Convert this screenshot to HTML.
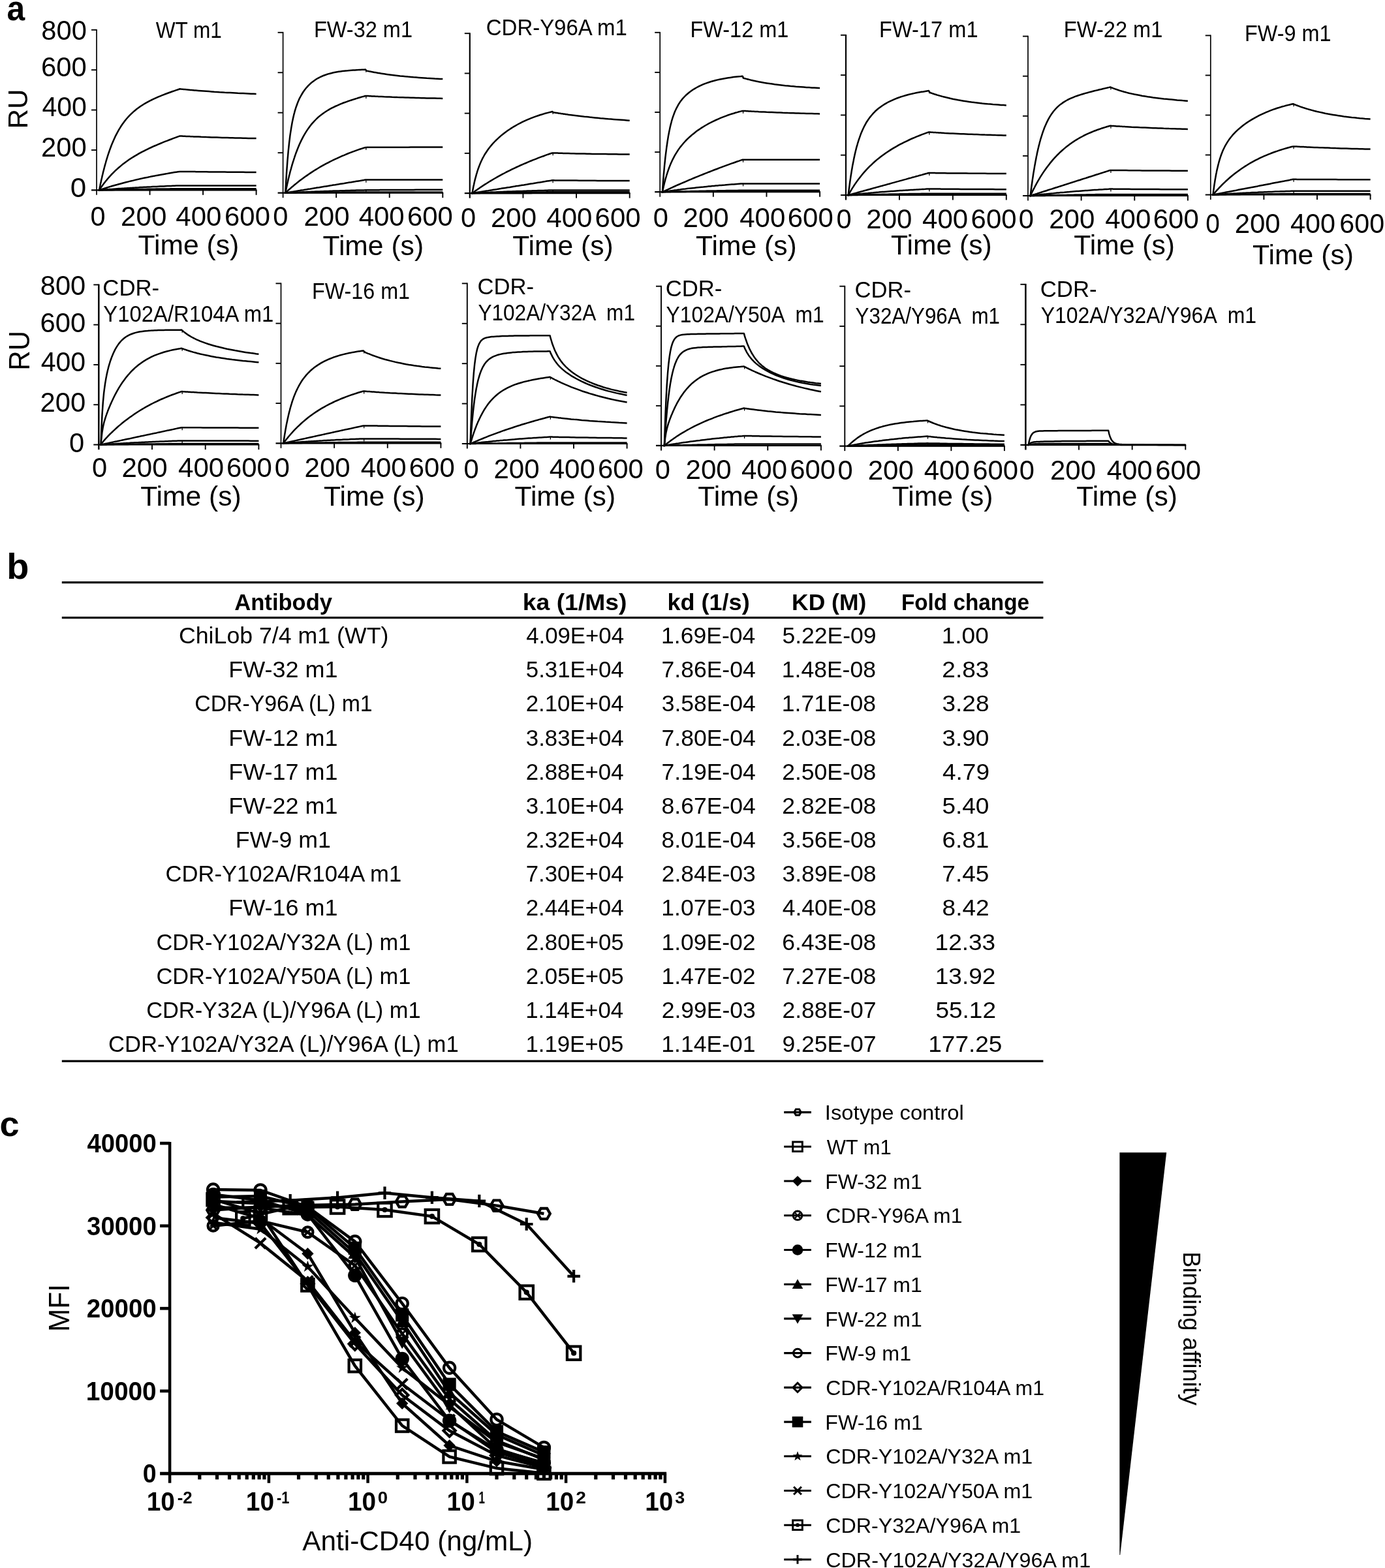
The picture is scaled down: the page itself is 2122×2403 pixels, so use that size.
<!DOCTYPE html>
<html lang="en"><head><meta charset="utf-8"><title>Figure</title>
<style>html,body{margin:0;padding:0;background:#fff}body{width:2122px;height:2403px;overflow:hidden}svg{display:block}</style>
</head><body>
<svg width="2122" height="2403" viewBox="0 0 2122 2403">
<rect width="2122" height="2403" fill="#fff"/>
<g id="panel-a" stroke="#000" fill="none" stroke-linecap="butt">
<line x1="148.00" y1="44.90" x2="148.00" y2="298.80" stroke-width="1.7"/>
<line x1="140.00" y1="291.30" x2="393.50" y2="291.30" stroke-width="2.2"/>
<line x1="140.00" y1="229.93" x2="148.00" y2="229.93" stroke-width="1.9"/>
<line x1="140.00" y1="168.55" x2="148.00" y2="168.55" stroke-width="1.9"/>
<line x1="140.00" y1="107.18" x2="148.00" y2="107.18" stroke-width="1.9"/>
<line x1="140.00" y1="45.80" x2="148.00" y2="45.80" stroke-width="1.9"/>
<line x1="229.53" y1="291.30" x2="229.53" y2="298.80" stroke-width="1.9"/>
<line x1="311.07" y1="291.30" x2="311.07" y2="298.80" stroke-width="1.9"/>
<line x1="392.60" y1="291.30" x2="392.60" y2="298.80" stroke-width="1.9"/>
<polyline points="150.9,291.3 152.1,291.3 152.7,288.0 153.4,284.8 154.0,281.6 154.7,278.6 155.3,275.6 156.0,272.7 156.6,269.9 157.3,267.1 157.9,264.4 158.6,261.7 159.3,259.2 159.9,256.7 160.6,254.2 161.2,251.8 161.9,249.5 162.5,247.2 163.2,245.0 163.8,242.8 164.5,240.7 165.1,238.7 165.8,236.6 166.4,234.7 167.1,232.8 167.7,230.9 168.4,229.0 171.1,221.8 173.9,215.2 176.6,209.2 179.4,203.8 182.1,198.9 184.9,194.3 187.6,190.2 190.4,186.4 193.1,183.0 195.9,179.8 198.6,176.8 201.4,174.1 204.1,171.6 206.9,169.2 209.6,167.0 212.4,165.0 215.1,163.0 217.9,161.2 220.6,159.5 223.4,157.9 226.1,156.4 228.9,154.9 231.6,153.5 234.4,152.2 237.1,150.9 239.9,149.6 242.6,148.4 245.4,147.3 248.1,146.2 250.9,145.1 253.6,144.0 256.4,143.0 259.1,142.0 261.9,141.0 264.6,140.0 267.4,139.1 270.1,138.1 272.9,137.2 275.6,136.3 276.8,136.4 277.9,136.6 279.1,136.7 280.3,136.8 281.4,136.9 282.6,137.0 283.8,137.1 284.9,137.2 286.1,137.3 287.2,137.5 288.4,137.6 289.6,137.7 290.7,137.8 291.9,137.9 293.1,138.0 294.2,138.1 295.4,138.2 296.6,138.3 297.7,138.4 298.9,138.5 300.1,138.6 304.1,138.9 308.1,139.2 312.1,139.5 316.2,139.8 320.2,140.1 324.2,140.4 328.2,140.7 332.2,140.9 336.3,141.2 340.3,141.4 344.3,141.7 348.3,141.9 352.4,142.1 356.4,142.3 360.4,142.5 364.4,142.8 368.5,142.9 372.5,143.1 376.5,143.3 380.5,143.5 384.6,143.7 388.6,143.8 392.6,144.0" stroke-width="2.5" stroke-linejoin="round"/>
<polyline points="150.9,291.3 152.1,291.3 152.7,290.3 153.4,289.3 154.0,288.4 154.7,287.4 155.3,286.5 156.0,285.6 156.6,284.7 157.3,283.8 157.9,282.9 158.6,282.0 159.3,281.1 159.9,280.3 160.6,279.4 161.2,278.6 161.9,277.8 162.5,277.0 163.2,276.2 163.8,275.4 164.5,274.6 165.1,273.8 165.8,273.1 166.4,272.3 167.1,271.6 167.7,270.8 168.4,270.1 171.1,267.2 173.9,264.3 176.6,261.7 179.4,259.1 182.1,256.7 184.9,254.4 187.6,252.1 190.4,250.0 193.1,248.0 195.9,246.0 198.6,244.1 201.4,242.3 204.1,240.6 206.9,238.9 209.6,237.3 212.4,235.7 215.1,234.2 217.9,232.7 220.6,231.3 223.4,229.9 226.1,228.6 228.9,227.2 231.6,226.0 234.4,224.7 237.1,223.5 239.9,222.3 242.6,221.1 245.4,220.0 248.1,218.8 250.9,217.7 253.6,216.6 256.4,215.6 259.1,214.5 261.9,213.5 264.6,212.4 267.4,211.4 270.1,210.4 272.9,209.4 275.6,208.4 276.8,208.5 277.9,208.6 279.1,208.6 280.3,208.7 281.4,208.7 282.6,208.8 283.8,208.8 284.9,208.9 286.1,208.9 287.2,209.0 288.4,209.0 289.6,209.1 290.7,209.1 291.9,209.2 293.1,209.2 294.2,209.3 295.4,209.3 296.6,209.4 297.7,209.4 298.9,209.4 300.1,209.5 304.1,209.6 308.1,209.8 312.1,209.9 316.2,210.1 320.2,210.2 324.2,210.4 328.2,210.5 332.2,210.6 336.3,210.7 340.3,210.9 344.3,211.0 348.3,211.1 352.4,211.2 356.4,211.3 360.4,211.4 364.4,211.5 368.5,211.6 372.5,211.7 376.5,211.8 380.5,211.9 384.6,212.0 388.6,212.0 392.6,212.1" stroke-width="2.5" stroke-linejoin="round"/>
<polyline points="150.9,291.3 152.1,291.3 152.7,291.1 153.4,290.9 154.0,290.7 154.7,290.4 155.3,290.2 156.0,290.0 156.6,289.8 157.3,289.6 157.9,289.4 158.6,289.2 159.3,289.0 159.9,288.8 160.6,288.6 161.2,288.3 161.9,288.1 162.5,287.9 163.2,287.7 163.8,287.5 164.5,287.3 165.1,287.1 165.8,286.9 166.4,286.7 167.1,286.5 167.7,286.3 168.4,286.1 171.1,285.3 173.9,284.5 176.6,283.7 179.4,283.0 182.1,282.2 184.9,281.5 187.6,280.7 190.4,280.0 193.1,279.3 195.9,278.6 198.6,277.9 201.4,277.2 204.1,276.6 206.9,275.9 209.6,275.3 212.4,274.6 215.1,274.0 217.9,273.4 220.6,272.8 223.4,272.2 226.1,271.7 228.9,271.1 231.6,270.5 234.4,270.0 237.1,269.5 239.9,268.9 242.6,268.4 245.4,267.9 248.1,267.4 250.9,266.9 253.6,266.4 256.4,266.0 259.1,265.5 261.9,265.0 264.6,264.6 267.4,264.1 270.1,263.7 272.9,263.3 275.6,262.9 276.8,262.9 277.9,262.9 279.1,262.9 280.3,262.9 281.4,262.9 282.6,262.9 283.8,263.0 284.9,263.0 286.1,263.0 287.2,263.0 288.4,263.0 289.6,263.0 290.7,263.0 291.9,263.1 293.1,263.1 294.2,263.1 295.4,263.1 296.6,263.1 297.7,263.1 298.9,263.1 300.1,263.2 304.1,263.2 308.1,263.3 312.1,263.3 316.2,263.3 320.2,263.4 324.2,263.4 328.2,263.5 332.2,263.5 336.3,263.5 340.3,263.6 344.3,263.6 348.3,263.7 352.4,263.7 356.4,263.7 360.4,263.8 364.4,263.8 368.5,263.8 372.5,263.8 376.5,263.9 380.5,263.9 384.6,263.9 388.6,264.0 392.6,264.0" stroke-width="2.5" stroke-linejoin="round"/>
<polyline points="150.9,291.3 152.1,291.3 152.7,291.2 153.4,291.2 154.0,291.1 154.7,291.1 155.3,291.0 156.0,291.0 156.6,290.9 157.3,290.9 157.9,290.8 158.6,290.8 159.3,290.7 159.9,290.7 160.6,290.6 161.2,290.6 161.9,290.5 162.5,290.5 163.2,290.4 163.8,290.4 164.5,290.3 165.1,290.3 165.8,290.2 166.4,290.2 167.1,290.2 167.7,290.1 168.4,290.1 171.1,289.9 173.9,289.7 176.6,289.5 179.4,289.3 182.1,289.1 184.9,288.9 187.6,288.7 190.4,288.6 193.1,288.4 195.9,288.2 198.6,288.1 201.4,287.9 204.1,287.7 206.9,287.6 209.6,287.4 212.4,287.3 215.1,287.1 217.9,287.0 220.6,286.8 223.4,286.7 226.1,286.5 228.9,286.4 231.6,286.3 234.4,286.1 237.1,286.0 239.9,285.9 242.6,285.7 245.4,285.6 248.1,285.5 250.9,285.4 253.6,285.2 256.4,285.1 259.1,285.0 261.9,284.9 264.6,284.8 267.4,284.7 270.1,284.6 272.9,284.5 275.6,284.4 276.8,284.4 277.9,284.4 279.1,284.4 280.3,284.4 281.4,284.4 282.6,284.4 283.8,284.4 284.9,284.4 286.1,284.4 287.2,284.4 288.4,284.4 289.6,284.4 290.7,284.4 291.9,284.4 293.1,284.4 294.2,284.4 295.4,284.4 296.6,284.4 297.7,284.4 298.9,284.4 300.1,284.4 304.1,284.4 308.1,284.4 312.1,284.4 316.2,284.4 320.2,284.4 324.2,284.4 328.2,284.4 332.2,284.4 336.3,284.4 340.3,284.4 344.3,284.4 348.3,284.4 352.4,284.4 356.4,284.4 360.4,284.4 364.4,284.4 368.5,284.4 372.5,284.4 376.5,284.4 380.5,284.4 384.6,284.4 388.6,284.4 392.6,284.4" stroke-width="2.5" stroke-linejoin="round"/>
<polyline points="150.9,291.3 152.1,291.3 152.7,291.3 153.4,291.3 154.0,291.3 154.7,291.2 155.3,291.2 156.0,291.2 156.6,291.2 157.3,291.2 157.9,291.2 158.6,291.1 159.3,291.1 159.9,291.1 160.6,291.1 161.2,291.1 161.9,291.1 162.5,291.0 163.2,291.0 163.8,291.0 164.5,291.0 165.1,291.0 165.8,291.0 166.4,291.0 167.1,290.9 167.7,290.9 168.4,290.9 171.1,290.9 173.9,290.8 176.6,290.7 179.4,290.7 182.1,290.6 184.9,290.6 187.6,290.5 190.4,290.5 193.1,290.4 195.9,290.3 198.6,290.3 201.4,290.2 204.1,290.2 206.9,290.1 209.6,290.1 212.4,290.0 215.1,290.0 217.9,290.0 220.6,289.9 223.4,289.9 226.1,289.8 228.9,289.8 231.6,289.7 234.4,289.7 237.1,289.7 239.9,289.6 242.6,289.6 245.4,289.5 248.1,289.5 250.9,289.5 253.6,289.4 256.4,289.4 259.1,289.4 261.9,289.3 264.6,289.3 267.4,289.3 270.1,289.2 272.9,289.2 275.6,289.2 276.8,289.2 277.9,289.2 279.1,289.2 280.3,289.2 281.4,289.2 282.6,289.2 283.8,289.2 284.9,289.2 286.1,289.2 287.2,289.2 288.4,289.2 289.6,289.2 290.7,289.2 291.9,289.2 293.1,289.2 294.2,289.2 295.4,289.2 296.6,289.2 297.7,289.2 298.9,289.2 300.1,289.2 304.1,289.2 308.1,289.2 312.1,289.2 316.2,289.2 320.2,289.2 324.2,289.2 328.2,289.2 332.2,289.2 336.3,289.2 340.3,289.2 344.3,289.2 348.3,289.2 352.4,289.2 356.4,289.2 360.4,289.2 364.4,289.2 368.5,289.2 372.5,289.2 376.5,289.2 380.5,289.2 384.6,289.2 388.6,289.2 392.6,289.2" stroke-width="2.5" stroke-linejoin="round"/>
<polyline points="150.9,291.3 152.1,291.3 152.7,291.3 153.4,291.3 154.0,291.3 154.7,291.3 155.3,291.3 156.0,291.3 156.6,291.3 157.3,291.3 157.9,291.3 158.6,291.3 159.3,291.3 159.9,291.2 160.6,291.2 161.2,291.2 161.9,291.2 162.5,291.2 163.2,291.2 163.8,291.2 164.5,291.2 165.1,291.2 165.8,291.2 166.4,291.2 167.1,291.2 167.7,291.2 168.4,291.2 171.1,291.2 173.9,291.2 176.6,291.1 179.4,291.1 182.1,291.1 184.9,291.1 187.6,291.1 190.4,291.1 193.1,291.0 195.9,291.0 198.6,291.0 201.4,291.0 204.1,291.0 206.9,291.0 209.6,291.0 212.4,290.9 215.1,290.9 217.9,290.9 220.6,290.9 223.4,290.9 226.1,290.9 228.9,290.9 231.6,290.9 234.4,290.8 237.1,290.8 239.9,290.8 242.6,290.8 245.4,290.8 248.1,290.8 250.9,290.8 253.6,290.8 256.4,290.8 259.1,290.7 261.9,290.7 264.6,290.7 267.4,290.7 270.1,290.7 272.9,290.7 275.6,290.7 276.8,290.7 277.9,290.7 279.1,290.7 280.3,290.7 281.4,290.7 282.6,290.7 283.8,290.7 284.9,290.7 286.1,290.7 287.2,290.7 288.4,290.7 289.6,290.7 290.7,290.7 291.9,290.7 293.1,290.7 294.2,290.7 295.4,290.7 296.6,290.7 297.7,290.7 298.9,290.7 300.1,290.7 304.1,290.7 308.1,290.7 312.1,290.7 316.2,290.7 320.2,290.7 324.2,290.7 328.2,290.7 332.2,290.7 336.3,290.7 340.3,290.7 344.3,290.7 348.3,290.7 352.4,290.7 356.4,290.7 360.4,290.7 364.4,290.7 368.5,290.7 372.5,290.7 376.5,290.7 380.5,290.7 384.6,290.7 388.6,290.7 392.6,290.7" stroke-width="2.5" stroke-linejoin="round"/>
<line x1="433.60" y1="48.90" x2="433.60" y2="303.10" stroke-width="1.7"/>
<line x1="425.60" y1="295.60" x2="679.20" y2="295.60" stroke-width="2.2"/>
<line x1="425.60" y1="234.15" x2="433.60" y2="234.15" stroke-width="1.9"/>
<line x1="425.60" y1="172.70" x2="433.60" y2="172.70" stroke-width="1.9"/>
<line x1="425.60" y1="111.25" x2="433.60" y2="111.25" stroke-width="1.9"/>
<line x1="425.60" y1="49.80" x2="433.60" y2="49.80" stroke-width="1.9"/>
<line x1="515.17" y1="295.60" x2="515.17" y2="303.10" stroke-width="1.9"/>
<line x1="596.73" y1="295.60" x2="596.73" y2="303.10" stroke-width="1.9"/>
<line x1="678.30" y1="295.60" x2="678.30" y2="303.10" stroke-width="1.9"/>
<polyline points="436.0,295.6 437.3,295.6 437.9,283.7 438.6,272.8 439.2,262.9 439.9,253.8 440.5,245.5 441.2,237.9 441.8,230.9 442.5,224.4 443.1,218.5 443.8,213.0 444.4,207.9 445.1,203.3 445.8,198.9 446.4,194.9 447.1,191.1 447.7,187.6 448.4,184.3 449.0,181.2 449.7,178.4 450.3,175.6 451.0,173.1 451.6,170.7 452.3,168.4 452.9,166.3 453.6,164.2 456.3,156.8 459.0,150.6 461.8,145.5 464.5,141.0 467.2,137.2 470.0,133.8 472.7,130.9 475.4,128.3 478.1,125.9 480.9,123.9 483.6,122.0 486.3,120.3 489.1,118.9 491.8,117.5 494.5,116.3 497.3,115.3 500.0,114.3 502.7,113.4 505.4,112.7 508.2,112.0 510.9,111.3 513.6,110.8 516.4,110.3 519.1,109.8 521.8,109.4 524.5,109.0 527.3,108.7 530.0,108.4 532.7,108.2 535.5,107.9 538.2,107.7 540.9,107.5 543.7,107.4 546.4,107.2 549.1,107.1 551.8,106.9 554.6,106.8 557.3,106.7 560.0,106.6 561.2,108.2 562.4,108.6 563.5,108.9 564.7,109.1 565.9,109.4 567.0,109.6 568.2,109.8 569.4,110.1 570.5,110.3 571.7,110.5 572.8,110.7 574.0,110.9 575.2,111.1 576.3,111.3 577.5,111.5 578.7,111.7 579.8,111.9 581.0,112.1 582.2,112.3 583.3,112.5 584.5,112.7 588.6,113.3 592.7,113.9 596.7,114.4 600.8,114.9 604.9,115.4 609.0,115.9 613.0,116.4 617.1,116.8 621.2,117.2 625.3,117.6 629.4,117.9 633.4,118.3 637.5,118.6 641.6,118.9 645.7,119.2 649.8,119.5 653.8,119.8 657.9,120.0 662.0,120.2 666.1,120.5 670.1,120.7 674.2,120.9 678.3,121.1" stroke-width="2.5" stroke-linejoin="round"/>
<line x1="560.84" y1="107.14" x2="560.84" y2="110.64" stroke-width="1.3"/>
<polyline points="436.0,295.6 437.3,295.6 437.9,292.4 438.6,289.2 439.2,286.1 439.9,283.1 440.5,280.2 441.2,277.3 441.8,274.5 442.5,271.8 443.1,269.1 443.8,266.5 444.4,264.0 445.1,261.5 445.8,259.1 446.4,256.7 447.1,254.4 447.7,252.2 448.4,250.0 449.0,247.9 449.7,245.8 450.3,243.8 451.0,241.8 451.6,239.8 452.3,237.9 452.9,236.1 453.6,234.3 456.3,227.2 459.0,220.7 461.8,214.9 464.5,209.6 467.2,204.8 470.0,200.4 472.7,196.4 475.4,192.7 478.1,189.4 480.9,186.3 483.6,183.5 486.3,180.8 489.1,178.4 491.8,176.2 494.5,174.2 497.3,172.2 500.0,170.5 502.7,168.8 505.4,167.2 508.2,165.7 510.9,164.3 513.6,163.0 516.4,161.8 519.1,160.6 521.8,159.4 524.5,158.3 527.3,157.3 530.0,156.3 532.7,155.3 535.5,154.4 538.2,153.5 540.9,152.6 543.7,151.7 546.4,150.9 549.1,150.0 551.8,149.2 554.6,148.4 557.3,147.7 560.0,146.9 561.2,147.0 562.4,147.0 563.5,147.1 564.7,147.1 565.9,147.2 567.0,147.3 568.2,147.3 569.4,147.4 570.5,147.4 571.7,147.5 572.8,147.6 574.0,147.6 575.2,147.7 576.3,147.7 577.5,147.8 578.7,147.8 579.8,147.9 581.0,147.9 582.2,148.0 583.3,148.1 584.5,148.1 588.6,148.3 592.7,148.4 596.7,148.6 600.8,148.8 604.9,148.9 609.0,149.1 613.0,149.2 617.1,149.3 621.2,149.5 625.3,149.6 629.4,149.7 633.4,149.8 637.5,150.0 641.6,150.1 645.7,150.2 649.8,150.3 653.8,150.4 657.9,150.5 662.0,150.6 666.1,150.6 670.1,150.7 674.2,150.8 678.3,150.9" stroke-width="2.5" stroke-linejoin="round"/>
<line x1="560.84" y1="147.39" x2="560.84" y2="150.89" stroke-width="1.3"/>
<polyline points="436.0,295.6 437.3,295.6 437.9,295.0 438.6,294.4 439.2,293.8 439.9,293.2 440.5,292.6 441.2,292.0 441.8,291.4 442.5,290.8 443.1,290.3 443.8,289.7 444.4,289.1 445.1,288.5 445.8,288.0 446.4,287.4 447.1,286.8 447.7,286.3 448.4,285.7 449.0,285.2 449.7,284.6 450.3,284.1 451.0,283.5 451.6,283.0 452.3,282.5 452.9,281.9 453.6,281.4 456.3,279.2 459.0,277.1 461.8,275.0 464.5,273.0 467.2,271.0 470.0,269.1 472.7,267.2 475.4,265.4 478.1,263.6 480.9,261.8 483.6,260.1 486.3,258.5 489.1,256.8 491.8,255.2 494.5,253.7 497.3,252.2 500.0,250.7 502.7,249.3 505.4,247.9 508.2,246.5 510.9,245.1 513.6,243.8 516.4,242.6 519.1,241.3 521.8,240.1 524.5,238.9 527.3,237.8 530.0,236.6 532.7,235.5 535.5,234.4 538.2,233.4 540.9,232.4 543.7,231.4 546.4,230.4 549.1,229.4 551.8,228.5 554.6,227.6 557.3,226.7 560.0,225.9 561.2,225.9 562.4,225.8 563.5,225.8 564.7,225.8 565.9,225.8 567.0,225.8 568.2,225.8 569.4,225.8 570.5,225.8 571.7,225.8 572.8,225.8 574.0,225.8 575.2,225.8 576.3,225.8 577.5,225.8 578.7,225.8 579.8,225.8 581.0,225.8 582.2,225.8 583.3,225.8 584.5,225.8 588.6,225.8 592.7,225.7 596.7,225.7 600.8,225.7 604.9,225.7 609.0,225.7 613.0,225.7 617.1,225.7 621.2,225.7 625.3,225.7 629.4,225.6 633.4,225.6 637.5,225.6 641.6,225.6 645.7,225.6 649.8,225.6 653.8,225.6 657.9,225.6 662.0,225.6 666.1,225.6 670.1,225.6 674.2,225.6 678.3,225.5" stroke-width="2.5" stroke-linejoin="round"/>
<line x1="560.84" y1="226.35" x2="560.84" y2="229.85" stroke-width="1.3"/>
<polyline points="436.0,295.6 437.3,295.6 437.9,295.5 438.6,295.4 439.2,295.3 439.9,295.2 440.5,295.1 441.2,295.0 441.8,294.9 442.5,294.8 443.1,294.6 443.8,294.5 444.4,294.4 445.1,294.3 445.8,294.2 446.4,294.1 447.1,294.0 447.7,293.9 448.4,293.8 449.0,293.7 449.7,293.6 450.3,293.5 451.0,293.4 451.6,293.3 452.3,293.2 452.9,293.1 453.6,292.9 456.3,292.5 459.0,292.1 461.8,291.6 464.5,291.2 467.2,290.7 470.0,290.3 472.7,289.8 475.4,289.4 478.1,288.9 480.9,288.5 483.6,288.1 486.3,287.6 489.1,287.2 491.8,286.7 494.5,286.3 497.3,285.8 500.0,285.4 502.7,285.0 505.4,284.5 508.2,284.1 510.9,283.6 513.6,283.2 516.4,282.7 519.1,282.3 521.8,281.8 524.5,281.4 527.3,281.0 530.0,280.5 532.7,280.1 535.5,279.6 538.2,279.2 540.9,278.7 543.7,278.3 546.4,277.8 549.1,277.4 551.8,277.0 554.6,276.5 557.3,276.1 560.0,275.6 561.2,275.6 562.4,275.6 563.5,275.6 564.7,275.6 565.9,275.6 567.0,275.6 568.2,275.6 569.4,275.6 570.5,275.6 571.7,275.6 572.8,275.6 574.0,275.6 575.2,275.6 576.3,275.6 577.5,275.6 578.7,275.6 579.8,275.6 581.0,275.6 582.2,275.6 583.3,275.6 584.5,275.6 588.6,275.6 592.7,275.6 596.7,275.6 600.8,275.6 604.9,275.6 609.0,275.6 613.0,275.6 617.1,275.6 621.2,275.6 625.3,275.6 629.4,275.6 633.4,275.6 637.5,275.6 641.6,275.6 645.7,275.6 649.8,275.6 653.8,275.6 657.9,275.6 662.0,275.6 666.1,275.6 670.1,275.6 674.2,275.6 678.3,275.6" stroke-width="2.5" stroke-linejoin="round"/>
<line x1="560.84" y1="276.13" x2="560.84" y2="279.63" stroke-width="1.3"/>
<polyline points="436.0,295.6 437.3,295.6 437.9,295.6 438.6,295.5 439.2,295.5 439.9,295.5 440.5,295.4 441.2,295.4 441.8,295.4 442.5,295.3 443.1,295.3 443.8,295.3 444.4,295.2 445.1,295.2 445.8,295.2 446.4,295.2 447.1,295.1 447.7,295.1 448.4,295.1 449.0,295.0 449.7,295.0 450.3,295.0 451.0,294.9 451.6,294.9 452.3,294.9 452.9,294.9 453.6,294.8 456.3,294.7 459.0,294.6 461.8,294.5 464.5,294.3 467.2,294.2 470.0,294.1 472.7,294.0 475.4,293.9 478.1,293.8 480.9,293.7 483.6,293.6 486.3,293.5 489.1,293.4 491.8,293.3 494.5,293.2 497.3,293.1 500.0,293.0 502.7,292.9 505.4,292.8 508.2,292.7 510.9,292.6 513.6,292.6 516.4,292.5 519.1,292.4 521.8,292.3 524.5,292.2 527.3,292.2 530.0,292.1 532.7,292.0 535.5,291.9 538.2,291.8 540.9,291.8 543.7,291.7 546.4,291.6 549.1,291.6 551.8,291.5 554.6,291.4 557.3,291.4 560.0,291.3 561.2,291.3 562.4,291.3 563.5,291.3 564.7,291.3 565.9,291.3 567.0,291.2 568.2,291.2 569.4,291.2 570.5,291.2 571.7,291.2 572.8,291.2 574.0,291.2 575.2,291.2 576.3,291.2 577.5,291.2 578.7,291.2 579.8,291.2 581.0,291.2 582.2,291.1 583.3,291.1 584.5,291.1 588.6,291.1 592.7,291.1 596.7,291.1 600.8,291.0 604.9,291.0 609.0,291.0 613.0,291.0 617.1,290.9 621.2,290.9 625.3,290.9 629.4,290.9 633.4,290.9 637.5,290.8 641.6,290.8 645.7,290.8 649.8,290.8 653.8,290.8 657.9,290.8 662.0,290.7 666.1,290.7 670.1,290.7 674.2,290.7 678.3,290.7" stroke-width="2.5" stroke-linejoin="round"/>
<line x1="560.84" y1="291.80" x2="560.84" y2="295.30" stroke-width="1.3"/>
<polyline points="436.0,295.6 437.3,295.6 437.9,295.6 438.6,295.6 439.2,295.6 439.9,295.6 440.5,295.6 441.2,295.5 441.8,295.5 442.5,295.5 443.1,295.5 443.8,295.5 444.4,295.5 445.1,295.5 445.8,295.5 446.4,295.5 447.1,295.5 447.7,295.5 448.4,295.4 449.0,295.4 449.7,295.4 450.3,295.4 451.0,295.4 451.6,295.4 452.3,295.4 452.9,295.4 453.6,295.4 456.3,295.3 459.0,295.3 461.8,295.3 464.5,295.2 467.2,295.2 470.0,295.2 472.7,295.1 475.4,295.1 478.1,295.1 480.9,295.1 483.6,295.0 486.3,295.0 489.1,295.0 491.8,294.9 494.5,294.9 497.3,294.9 500.0,294.9 502.7,294.8 505.4,294.8 508.2,294.8 510.9,294.8 513.6,294.7 516.4,294.7 519.1,294.7 521.8,294.7 524.5,294.6 527.3,294.6 530.0,294.6 532.7,294.6 535.5,294.5 538.2,294.5 540.9,294.5 543.7,294.5 546.4,294.5 549.1,294.4 551.8,294.4 554.6,294.4 557.3,294.4 560.0,294.4 561.2,294.4 562.4,294.4 563.5,294.4 564.7,294.4 565.9,294.4 567.0,294.4 568.2,294.4 569.4,294.4 570.5,294.4 571.7,294.4 572.8,294.4 574.0,294.4 575.2,294.4 576.3,294.4 577.5,294.4 578.7,294.4 579.8,294.4 581.0,294.4 582.2,294.4 583.3,294.4 584.5,294.4 588.6,294.4 592.7,294.4 596.7,294.4 600.8,294.4 604.9,294.4 609.0,294.4 613.0,294.4 617.1,294.4 621.2,294.4 625.3,294.4 629.4,294.4 633.4,294.4 637.5,294.4 641.6,294.4 645.7,294.4 649.8,294.4 653.8,294.4 657.9,294.4 662.0,294.4 666.1,294.4 670.1,294.4 674.2,294.4 678.3,294.4" stroke-width="2.5" stroke-linejoin="round"/>
<line x1="719.80" y1="50.30" x2="719.80" y2="303.60" stroke-width="2.2"/>
<line x1="711.80" y1="296.10" x2="965.60" y2="296.10" stroke-width="2.2"/>
<line x1="711.80" y1="234.88" x2="719.80" y2="234.88" stroke-width="1.9"/>
<line x1="711.80" y1="173.65" x2="719.80" y2="173.65" stroke-width="1.9"/>
<line x1="711.80" y1="112.43" x2="719.80" y2="112.43" stroke-width="1.9"/>
<line x1="711.80" y1="51.20" x2="719.80" y2="51.20" stroke-width="1.9"/>
<line x1="801.43" y1="296.10" x2="801.43" y2="303.60" stroke-width="1.9"/>
<line x1="883.07" y1="296.10" x2="883.07" y2="303.60" stroke-width="1.9"/>
<line x1="964.70" y1="296.10" x2="964.70" y2="303.60" stroke-width="1.9"/>
<polyline points="722.2,296.1 723.5,296.1 724.1,292.5 724.8,289.0 725.4,285.8 726.1,282.7 726.7,279.7 727.4,276.9 728.0,274.3 728.7,271.8 729.4,269.3 730.0,267.0 730.7,264.8 731.3,262.7 732.0,260.7 732.6,258.8 733.3,257.0 733.9,255.2 734.6,253.5 735.2,251.9 735.9,250.3 736.5,248.8 737.2,247.3 737.8,245.9 738.5,244.6 739.1,243.2 739.8,242.0 742.5,237.0 745.3,232.7 748.0,228.8 750.7,225.2 753.5,221.9 756.2,218.8 758.9,216.0 761.7,213.3 764.4,210.8 767.1,208.4 769.8,206.2 772.6,204.0 775.3,202.0 778.0,200.0 780.8,198.2 783.5,196.4 786.2,194.7 789.0,193.1 791.7,191.5 794.4,190.0 797.2,188.6 799.9,187.2 802.6,185.9 805.4,184.6 808.1,183.4 810.8,182.3 813.6,181.2 816.3,180.1 819.0,179.1 821.7,178.1 824.5,177.2 827.2,176.3 829.9,175.5 832.7,174.6 835.4,173.8 838.1,173.1 840.9,172.4 843.6,171.7 846.3,171.0 847.5,172.1 848.7,172.4 849.8,172.6 851.0,172.7 852.2,172.9 853.3,173.1 854.5,173.3 855.7,173.5 856.8,173.7 858.0,173.8 859.2,174.0 860.3,174.2 861.5,174.3 862.7,174.5 863.8,174.7 865.0,174.8 866.2,175.0 867.3,175.2 868.5,175.3 869.7,175.5 870.8,175.7 874.9,176.2 879.0,176.7 883.1,177.2 887.1,177.7 891.2,178.2 895.3,178.7 899.4,179.1 903.5,179.6 907.6,180.0 911.6,180.4 915.7,180.8 919.8,181.2 923.9,181.5 928.0,181.9 932.0,182.3 936.1,182.6 940.2,182.9 944.3,183.2 948.4,183.5 952.5,183.8 956.5,184.1 960.6,184.4 964.7,184.7" stroke-width="2.5" stroke-linejoin="round"/>
<line x1="847.15" y1="171.52" x2="847.15" y2="175.02" stroke-width="1.3"/>
<polyline points="722.2,296.1 723.5,296.1 724.1,295.6 724.8,295.1 725.4,294.7 726.1,294.2 726.7,293.7 727.4,293.2 728.0,292.8 728.7,292.3 729.4,291.8 730.0,291.4 730.7,290.9 731.3,290.5 732.0,290.0 732.6,289.6 733.3,289.1 733.9,288.7 734.6,288.2 735.2,287.8 735.9,287.3 736.5,286.9 737.2,286.4 737.8,286.0 738.5,285.6 739.1,285.1 739.8,284.7 742.5,282.9 745.3,281.2 748.0,279.5 750.7,277.8 753.5,276.2 756.2,274.5 758.9,273.0 761.7,271.4 764.4,269.9 767.1,268.4 769.8,266.9 772.6,265.5 775.3,264.0 778.0,262.7 780.8,261.3 783.5,259.9 786.2,258.6 789.0,257.3 791.7,256.0 794.4,254.8 797.2,253.5 799.9,252.3 802.6,251.1 805.4,250.0 808.1,248.8 810.8,247.7 813.6,246.5 816.3,245.4 819.0,244.4 821.7,243.3 824.5,242.2 827.2,241.2 829.9,240.2 832.7,239.2 835.4,238.2 838.1,237.2 840.9,236.2 843.6,235.3 846.3,234.4 847.5,234.4 848.7,234.4 849.8,234.5 851.0,234.5 852.2,234.6 853.3,234.6 854.5,234.6 855.7,234.7 856.8,234.7 858.0,234.7 859.2,234.8 860.3,234.8 861.5,234.8 862.7,234.9 863.8,234.9 865.0,234.9 866.2,235.0 867.3,235.0 868.5,235.0 869.7,235.1 870.8,235.1 874.9,235.2 879.0,235.3 883.1,235.4 887.1,235.5 891.2,235.6 895.3,235.6 899.4,235.7 903.5,235.8 907.6,235.9 911.6,235.9 915.7,236.0 919.8,236.0 923.9,236.1 928.0,236.1 932.0,236.2 936.1,236.2 940.2,236.3 944.3,236.3 948.4,236.4 952.5,236.4 956.5,236.4 960.6,236.5 964.7,236.5" stroke-width="2.5" stroke-linejoin="round"/>
<line x1="847.15" y1="234.85" x2="847.15" y2="238.35" stroke-width="1.3"/>
<polyline points="722.2,296.1 723.5,296.1 724.1,296.0 724.8,295.9 725.4,295.8 726.1,295.7 726.7,295.6 727.4,295.5 728.0,295.4 728.7,295.3 729.4,295.2 730.0,295.0 730.7,294.9 731.3,294.8 732.0,294.7 732.6,294.6 733.3,294.5 733.9,294.4 734.6,294.3 735.2,294.2 735.9,294.1 736.5,294.0 737.2,293.9 737.8,293.8 738.5,293.7 739.1,293.6 739.8,293.5 742.5,293.0 745.3,292.6 748.0,292.2 750.7,291.7 753.5,291.3 756.2,290.8 758.9,290.4 761.7,290.0 764.4,289.5 767.1,289.1 769.8,288.6 772.6,288.2 775.3,287.8 778.0,287.3 780.8,286.9 783.5,286.4 786.2,286.0 789.0,285.6 791.7,285.1 794.4,284.7 797.2,284.2 799.9,283.8 802.6,283.4 805.4,282.9 808.1,282.5 810.8,282.0 813.6,281.6 816.3,281.2 819.0,280.7 821.7,280.3 824.5,279.8 827.2,279.4 829.9,279.0 832.7,278.5 835.4,278.1 838.1,277.6 840.9,277.2 843.6,276.8 846.3,276.3 847.5,276.3 848.7,276.3 849.8,276.4 851.0,276.4 852.2,276.4 853.3,276.4 854.5,276.4 855.7,276.4 856.8,276.4 858.0,276.4 859.2,276.4 860.3,276.5 861.5,276.5 862.7,276.5 863.8,276.5 865.0,276.5 866.2,276.5 867.3,276.5 868.5,276.5 869.7,276.5 870.8,276.5 874.9,276.6 879.0,276.6 883.1,276.6 887.1,276.7 891.2,276.7 895.3,276.7 899.4,276.8 903.5,276.8 907.6,276.8 911.6,276.8 915.7,276.9 919.8,276.9 923.9,276.9 928.0,276.9 932.0,277.0 936.1,277.0 940.2,277.0 944.3,277.0 948.4,277.0 952.5,277.1 956.5,277.1 960.6,277.1 964.7,277.1" stroke-width="2.5" stroke-linejoin="round"/>
<line x1="847.15" y1="276.82" x2="847.15" y2="280.32" stroke-width="1.3"/>
<polyline points="722.2,296.1 723.5,296.1 724.1,296.1 724.8,296.0 725.4,296.0 726.1,296.0 726.7,295.9 727.4,295.9 728.0,295.9 728.7,295.8 729.4,295.8 730.0,295.8 730.7,295.7 731.3,295.7 732.0,295.7 732.6,295.6 733.3,295.6 733.9,295.6 734.6,295.5 735.2,295.5 735.9,295.5 736.5,295.4 737.2,295.4 737.8,295.4 738.5,295.3 739.1,295.3 739.8,295.3 742.5,295.1 745.3,295.0 748.0,294.9 750.7,294.8 753.5,294.6 756.2,294.5 758.9,294.4 761.7,294.3 764.4,294.2 767.1,294.1 769.8,294.0 772.6,293.8 775.3,293.7 778.0,293.6 780.8,293.5 783.5,293.4 786.2,293.3 789.0,293.2 791.7,293.1 794.4,293.0 797.2,292.9 799.9,292.9 802.6,292.8 805.4,292.7 808.1,292.6 810.8,292.5 813.6,292.4 816.3,292.3 819.0,292.3 821.7,292.2 824.5,292.1 827.2,292.0 829.9,291.9 832.7,291.9 835.4,291.8 838.1,291.7 840.9,291.6 843.6,291.6 846.3,291.5 847.5,291.5 848.7,291.5 849.8,291.5 851.0,291.5 852.2,291.5 853.3,291.5 854.5,291.5 855.7,291.5 856.8,291.5 858.0,291.5 859.2,291.5 860.3,291.5 861.5,291.5 862.7,291.5 863.8,291.5 865.0,291.5 866.2,291.5 867.3,291.5 868.5,291.5 869.7,291.5 870.8,291.5 874.9,291.5 879.0,291.5 883.1,291.5 887.1,291.5 891.2,291.5 895.3,291.5 899.4,291.5 903.5,291.5 907.6,291.5 911.6,291.5 915.7,291.5 919.8,291.5 923.9,291.5 928.0,291.5 932.0,291.5 936.1,291.5 940.2,291.5 944.3,291.5 948.4,291.5 952.5,291.5 956.5,291.5 960.6,291.5 964.7,291.5" stroke-width="2.5" stroke-linejoin="round"/>
<line x1="847.15" y1="292.01" x2="847.15" y2="295.51" stroke-width="1.3"/>
<polyline points="722.2,296.1 723.5,296.1 724.1,296.1 724.8,296.1 725.4,296.1 726.1,296.0 726.7,296.0 727.4,296.0 728.0,296.0 728.7,296.0 729.4,296.0 730.0,296.0 730.7,296.0 731.3,295.9 732.0,295.9 732.6,295.9 733.3,295.9 733.9,295.9 734.6,295.9 735.2,295.9 735.9,295.8 736.5,295.8 737.2,295.8 737.8,295.8 738.5,295.8 739.1,295.8 739.8,295.8 742.5,295.7 745.3,295.7 748.0,295.6 750.7,295.6 753.5,295.5 756.2,295.5 758.9,295.4 761.7,295.4 764.4,295.3 767.1,295.3 769.8,295.2 772.6,295.2 775.3,295.2 778.0,295.1 780.8,295.1 783.5,295.0 786.2,295.0 789.0,295.0 791.7,294.9 794.4,294.9 797.2,294.8 799.9,294.8 802.6,294.8 805.4,294.7 808.1,294.7 810.8,294.7 813.6,294.6 816.3,294.6 819.0,294.6 821.7,294.5 824.5,294.5 827.2,294.5 829.9,294.4 832.7,294.4 835.4,294.4 838.1,294.3 840.9,294.3 843.6,294.3 846.3,294.3 847.5,294.3 848.7,294.3 849.8,294.3 851.0,294.3 852.2,294.3 853.3,294.3 854.5,294.3 855.7,294.3 856.8,294.3 858.0,294.3 859.2,294.3 860.3,294.3 861.5,294.3 862.7,294.3 863.8,294.3 865.0,294.3 866.2,294.3 867.3,294.3 868.5,294.3 869.7,294.3 870.8,294.3 874.9,294.3 879.0,294.3 883.1,294.3 887.1,294.3 891.2,294.3 895.3,294.3 899.4,294.3 903.5,294.3 907.6,294.3 911.6,294.3 915.7,294.3 919.8,294.3 923.9,294.3 928.0,294.3 932.0,294.3 936.1,294.3 940.2,294.3 944.3,294.3 948.4,294.3 952.5,294.3 956.5,294.3 960.6,294.3 964.7,294.3" stroke-width="2.5" stroke-linejoin="round"/>
<polyline points="722.2,296.1 723.5,296.1 724.1,296.1 724.8,296.1 725.4,296.1 726.1,296.1 726.7,296.1 727.4,296.1 728.0,296.1 728.7,296.1 729.4,296.1 730.0,296.1 730.7,296.1 731.3,296.1 732.0,296.1 732.6,296.1 733.3,296.1 733.9,296.1 734.6,296.1 735.2,296.1 735.9,296.1 736.5,296.1 737.2,296.1 737.8,296.1 738.5,296.0 739.1,296.0 739.8,296.0 742.5,296.0 745.3,296.0 748.0,296.0 750.7,296.0 753.5,296.0 756.2,296.0 758.9,296.0 761.7,296.0 764.4,296.0 767.1,296.0 769.8,296.0 772.6,295.9 775.3,295.9 778.0,295.9 780.8,295.9 783.5,295.9 786.2,295.9 789.0,295.9 791.7,295.9 794.4,295.9 797.2,295.9 799.9,295.9 802.6,295.9 805.4,295.9 808.1,295.9 810.8,295.9 813.6,295.9 816.3,295.8 819.0,295.8 821.7,295.8 824.5,295.8 827.2,295.8 829.9,295.8 832.7,295.8 835.4,295.8 838.1,295.8 840.9,295.8 843.6,295.8 846.3,295.8 847.5,295.8 848.7,295.8 849.8,295.8 851.0,295.8 852.2,295.8 853.3,295.8 854.5,295.8 855.7,295.8 856.8,295.8 858.0,295.8 859.2,295.8 860.3,295.8 861.5,295.8 862.7,295.8 863.8,295.8 865.0,295.8 866.2,295.8 867.3,295.8 868.5,295.8 869.7,295.8 870.8,295.8 874.9,295.8 879.0,295.8 883.1,295.8 887.1,295.8 891.2,295.8 895.3,295.8 899.4,295.8 903.5,295.8 907.6,295.8 911.6,295.8 915.7,295.8 919.8,295.8 923.9,295.8 928.0,295.8 932.0,295.8 936.1,295.8 940.2,295.8 944.3,295.8 948.4,295.8 952.5,295.8 956.5,295.8 960.6,295.8 964.7,295.8" stroke-width="2.5" stroke-linejoin="round"/>
<line x1="1011.20" y1="48.90" x2="1011.20" y2="301.70" stroke-width="1.7"/>
<line x1="1003.20" y1="294.20" x2="1257.00" y2="294.20" stroke-width="2.2"/>
<line x1="1003.20" y1="233.10" x2="1011.20" y2="233.10" stroke-width="1.9"/>
<line x1="1003.20" y1="172.00" x2="1011.20" y2="172.00" stroke-width="1.9"/>
<line x1="1003.20" y1="110.90" x2="1011.20" y2="110.90" stroke-width="1.9"/>
<line x1="1003.20" y1="49.80" x2="1011.20" y2="49.80" stroke-width="1.9"/>
<line x1="1092.83" y1="294.20" x2="1092.83" y2="301.70" stroke-width="1.9"/>
<line x1="1174.47" y1="294.20" x2="1174.47" y2="301.70" stroke-width="1.9"/>
<line x1="1256.10" y1="294.20" x2="1256.10" y2="301.70" stroke-width="1.9"/>
<polyline points="1013.6,294.2 1014.9,294.2 1015.5,284.9 1016.2,276.2 1016.8,268.2 1017.5,260.7 1018.1,253.7 1018.8,247.2 1019.4,241.1 1020.1,235.4 1020.8,230.1 1021.4,225.2 1022.1,220.5 1022.7,216.2 1023.4,212.1 1024.0,208.3 1024.7,204.7 1025.3,201.4 1026.0,198.2 1026.6,195.2 1027.3,192.4 1027.9,189.8 1028.6,187.3 1029.2,184.9 1029.9,182.7 1030.5,180.6 1031.2,178.6 1033.9,171.3 1036.7,165.3 1039.4,160.3 1042.1,156.1 1044.9,152.4 1047.6,149.3 1050.3,146.5 1053.1,144.0 1055.8,141.7 1058.5,139.7 1061.2,137.8 1064.0,136.1 1066.7,134.5 1069.4,133.0 1072.2,131.7 1074.9,130.4 1077.6,129.2 1080.4,128.1 1083.1,127.1 1085.8,126.2 1088.6,125.3 1091.3,124.5 1094.0,123.8 1096.8,123.0 1099.5,122.4 1102.2,121.8 1105.0,121.2 1107.7,120.7 1110.4,120.2 1113.1,119.7 1115.9,119.3 1118.6,118.9 1121.3,118.5 1124.1,118.1 1126.8,117.8 1129.5,117.5 1132.3,117.2 1135.0,117.0 1137.7,116.7 1138.9,119.6 1140.1,120.0 1141.2,120.3 1142.4,120.6 1143.6,120.9 1144.7,121.2 1145.9,121.5 1147.1,121.8 1148.2,122.1 1149.4,122.4 1150.6,122.7 1151.7,122.9 1152.9,123.2 1154.1,123.5 1155.2,123.7 1156.4,124.0 1157.6,124.2 1158.7,124.5 1159.9,124.7 1161.1,124.9 1162.2,125.2 1166.3,125.9 1170.4,126.7 1174.5,127.4 1178.5,128.0 1182.6,128.6 1186.7,129.2 1190.8,129.7 1194.9,130.2 1199.0,130.7 1203.0,131.2 1207.1,131.6 1211.2,132.0 1215.3,132.3 1219.4,132.7 1223.4,133.0 1227.5,133.3 1231.6,133.6 1235.7,133.9 1239.8,134.1 1243.9,134.4 1247.9,134.6 1252.0,134.8 1256.1,135.0" stroke-width="2.5" stroke-linejoin="round"/>
<line x1="1138.55" y1="117.20" x2="1138.55" y2="120.70" stroke-width="1.3"/>
<polyline points="1013.6,294.2 1014.9,294.2 1015.5,291.1 1016.2,288.1 1016.8,285.3 1017.5,282.6 1018.1,279.9 1018.8,277.4 1019.4,275.0 1020.1,272.6 1020.8,270.4 1021.4,268.2 1022.1,266.1 1022.7,264.1 1023.4,262.2 1024.0,260.3 1024.7,258.5 1025.3,256.7 1026.0,255.0 1026.6,253.4 1027.3,251.8 1027.9,250.3 1028.6,248.8 1029.2,247.4 1029.9,246.0 1030.5,244.6 1031.2,243.3 1033.9,238.1 1036.7,233.6 1039.4,229.4 1042.1,225.6 1044.9,222.2 1047.6,219.0 1050.3,216.0 1053.1,213.2 1055.8,210.6 1058.5,208.2 1061.2,205.9 1064.0,203.7 1066.7,201.6 1069.4,199.6 1072.2,197.7 1074.9,195.9 1077.6,194.2 1080.4,192.5 1083.1,191.0 1085.8,189.4 1088.6,188.0 1091.3,186.6 1094.0,185.3 1096.8,184.0 1099.5,182.8 1102.2,181.6 1105.0,180.4 1107.7,179.4 1110.4,178.3 1113.1,177.3 1115.9,176.3 1118.6,175.4 1121.3,174.5 1124.1,173.7 1126.8,172.8 1129.5,172.1 1132.3,171.3 1135.0,170.6 1137.7,169.9 1138.9,169.9 1140.1,170.0 1141.2,170.1 1142.4,170.1 1143.6,170.2 1144.7,170.3 1145.9,170.3 1147.1,170.4 1148.2,170.5 1149.4,170.5 1150.6,170.6 1151.7,170.7 1152.9,170.7 1154.1,170.8 1155.2,170.8 1156.4,170.9 1157.6,171.0 1158.7,171.0 1159.9,171.1 1161.1,171.1 1162.2,171.2 1166.3,171.4 1170.4,171.6 1174.5,171.8 1178.5,171.9 1182.6,172.1 1186.7,172.3 1190.8,172.5 1194.9,172.6 1199.0,172.8 1203.0,172.9 1207.1,173.1 1211.2,173.2 1215.3,173.3 1219.4,173.5 1223.4,173.6 1227.5,173.7 1231.6,173.8 1235.7,173.9 1239.8,174.0 1243.9,174.1 1247.9,174.2 1252.0,174.3 1256.1,174.4" stroke-width="2.5" stroke-linejoin="round"/>
<line x1="1138.55" y1="170.36" x2="1138.55" y2="173.86" stroke-width="1.3"/>
<polyline points="1013.6,294.2 1014.9,294.2 1015.5,293.9 1016.2,293.6 1016.8,293.3 1017.5,293.0 1018.1,292.7 1018.8,292.4 1019.4,292.1 1020.1,291.8 1020.8,291.5 1021.4,291.2 1022.1,290.9 1022.7,290.6 1023.4,290.3 1024.0,290.0 1024.7,289.7 1025.3,289.4 1026.0,289.1 1026.6,288.8 1027.3,288.5 1027.9,288.2 1028.6,287.9 1029.2,287.6 1029.9,287.3 1030.5,287.0 1031.2,286.7 1033.9,285.5 1036.7,284.2 1039.4,283.0 1042.1,281.8 1044.9,280.6 1047.6,279.5 1050.3,278.3 1053.1,277.1 1055.8,275.9 1058.5,274.8 1061.2,273.7 1064.0,272.5 1066.7,271.4 1069.4,270.3 1072.2,269.2 1074.9,268.1 1077.6,267.0 1080.4,265.9 1083.1,264.8 1085.8,263.7 1088.6,262.7 1091.3,261.6 1094.0,260.5 1096.8,259.5 1099.5,258.5 1102.2,257.4 1105.0,256.4 1107.7,255.4 1110.4,254.4 1113.1,253.4 1115.9,252.4 1118.6,251.4 1121.3,250.4 1124.1,249.5 1126.8,248.5 1129.5,247.5 1132.3,246.6 1135.0,245.6 1137.7,244.7 1138.9,244.7 1140.1,244.7 1141.2,244.7 1142.4,244.7 1143.6,244.7 1144.7,244.7 1145.9,244.7 1147.1,244.7 1148.2,244.7 1149.4,244.7 1150.6,244.7 1151.7,244.7 1152.9,244.7 1154.1,244.7 1155.2,244.7 1156.4,244.7 1157.6,244.7 1158.7,244.7 1159.9,244.7 1161.1,244.7 1162.2,244.7 1166.3,244.7 1170.4,244.7 1174.5,244.7 1178.5,244.7 1182.6,244.7 1186.7,244.7 1190.8,244.7 1194.9,244.7 1199.0,244.7 1203.0,244.7 1207.1,244.7 1211.2,244.7 1215.3,244.7 1219.4,244.7 1223.4,244.7 1227.5,244.7 1231.6,244.7 1235.7,244.7 1239.8,244.7 1243.9,244.7 1247.9,244.7 1252.0,244.7 1256.1,244.7" stroke-width="2.5" stroke-linejoin="round"/>
<line x1="1138.55" y1="245.21" x2="1138.55" y2="248.71" stroke-width="1.3"/>
<polyline points="1013.6,294.2 1014.9,294.2 1015.5,294.1 1016.2,294.0 1016.8,293.9 1017.5,293.8 1018.1,293.7 1018.8,293.6 1019.4,293.5 1020.1,293.4 1020.8,293.3 1021.4,293.2 1022.1,293.2 1022.7,293.1 1023.4,293.0 1024.0,292.9 1024.7,292.8 1025.3,292.7 1026.0,292.6 1026.6,292.5 1027.3,292.4 1027.9,292.3 1028.6,292.2 1029.2,292.2 1029.9,292.1 1030.5,292.0 1031.2,291.9 1033.9,291.5 1036.7,291.2 1039.4,290.8 1042.1,290.5 1044.9,290.1 1047.6,289.8 1050.3,289.5 1053.1,289.1 1055.8,288.8 1058.5,288.5 1061.2,288.2 1064.0,287.9 1066.7,287.6 1069.4,287.3 1072.2,287.0 1074.9,286.7 1077.6,286.5 1080.4,286.2 1083.1,285.9 1085.8,285.6 1088.6,285.4 1091.3,285.1 1094.0,284.9 1096.8,284.6 1099.5,284.4 1102.2,284.1 1105.0,283.9 1107.7,283.7 1110.4,283.5 1113.1,283.2 1115.9,283.0 1118.6,282.8 1121.3,282.6 1124.1,282.4 1126.8,282.2 1129.5,282.0 1132.3,281.8 1135.0,281.6 1137.7,281.4 1138.9,281.4 1140.1,281.4 1141.2,281.4 1142.4,281.4 1143.6,281.4 1144.7,281.4 1145.9,281.4 1147.1,281.4 1148.2,281.4 1149.4,281.4 1150.6,281.4 1151.7,281.4 1152.9,281.4 1154.1,281.4 1155.2,281.4 1156.4,281.4 1157.6,281.4 1158.7,281.4 1159.9,281.4 1161.1,281.4 1162.2,281.4 1166.3,281.4 1170.4,281.4 1174.5,281.4 1178.5,281.4 1182.6,281.4 1186.7,281.4 1190.8,281.4 1194.9,281.4 1199.0,281.4 1203.0,281.4 1207.1,281.4 1211.2,281.4 1215.3,281.4 1219.4,281.4 1223.4,281.4 1227.5,281.4 1231.6,281.4 1235.7,281.4 1239.8,281.4 1243.9,281.4 1247.9,281.4 1252.0,281.4 1256.1,281.4" stroke-width="2.5" stroke-linejoin="round"/>
<line x1="1138.55" y1="281.87" x2="1138.55" y2="285.37" stroke-width="1.3"/>
<polyline points="1013.6,294.2 1014.9,294.2 1015.5,294.2 1016.2,294.2 1016.8,294.1 1017.5,294.1 1018.1,294.1 1018.8,294.1 1019.4,294.1 1020.1,294.1 1020.8,294.0 1021.4,294.0 1022.1,294.0 1022.7,294.0 1023.4,294.0 1024.0,293.9 1024.7,293.9 1025.3,293.9 1026.0,293.9 1026.6,293.9 1027.3,293.9 1027.9,293.8 1028.6,293.8 1029.2,293.8 1029.9,293.8 1030.5,293.8 1031.2,293.8 1033.9,293.7 1036.7,293.6 1039.4,293.6 1042.1,293.5 1044.9,293.4 1047.6,293.4 1050.3,293.3 1053.1,293.2 1055.8,293.2 1058.5,293.1 1061.2,293.1 1064.0,293.0 1066.7,292.9 1069.4,292.9 1072.2,292.8 1074.9,292.8 1077.6,292.7 1080.4,292.7 1083.1,292.6 1085.8,292.6 1088.6,292.5 1091.3,292.5 1094.0,292.4 1096.8,292.4 1099.5,292.3 1102.2,292.3 1105.0,292.2 1107.7,292.2 1110.4,292.2 1113.1,292.1 1115.9,292.1 1118.6,292.0 1121.3,292.0 1124.1,291.9 1126.8,291.9 1129.5,291.9 1132.3,291.8 1135.0,291.8 1137.7,291.8 1138.9,291.8 1140.1,291.8 1141.2,291.8 1142.4,291.8 1143.6,291.8 1144.7,291.8 1145.9,291.8 1147.1,291.8 1148.2,291.8 1149.4,291.8 1150.6,291.8 1151.7,291.8 1152.9,291.8 1154.1,291.8 1155.2,291.8 1156.4,291.8 1157.6,291.8 1158.7,291.8 1159.9,291.8 1161.1,291.8 1162.2,291.8 1166.3,291.8 1170.4,291.8 1174.5,291.8 1178.5,291.8 1182.6,291.8 1186.7,291.8 1190.8,291.8 1194.9,291.8 1199.0,291.8 1203.0,291.8 1207.1,291.8 1211.2,291.8 1215.3,291.8 1219.4,291.8 1223.4,291.8 1227.5,291.8 1231.6,291.8 1235.7,291.8 1239.8,291.8 1243.9,291.8 1247.9,291.8 1252.0,291.8 1256.1,291.8" stroke-width="2.5" stroke-linejoin="round"/>
<polyline points="1013.6,294.2 1014.9,294.2 1015.5,294.2 1016.2,294.2 1016.8,294.2 1017.5,294.2 1018.1,294.2 1018.8,294.2 1019.4,294.2 1020.1,294.1 1020.8,294.1 1021.4,294.1 1022.1,294.1 1022.7,294.1 1023.4,294.1 1024.0,294.1 1024.7,294.1 1025.3,294.1 1026.0,294.1 1026.6,294.1 1027.3,294.1 1027.9,294.1 1028.6,294.1 1029.2,294.1 1029.9,294.0 1030.5,294.0 1031.2,294.0 1033.9,294.0 1036.7,294.0 1039.4,294.0 1042.1,293.9 1044.9,293.9 1047.6,293.9 1050.3,293.9 1053.1,293.8 1055.8,293.8 1058.5,293.8 1061.2,293.8 1064.0,293.7 1066.7,293.7 1069.4,293.7 1072.2,293.7 1074.9,293.7 1077.6,293.6 1080.4,293.6 1083.1,293.6 1085.8,293.6 1088.6,293.6 1091.3,293.6 1094.0,293.5 1096.8,293.5 1099.5,293.5 1102.2,293.5 1105.0,293.5 1107.7,293.4 1110.4,293.4 1113.1,293.4 1115.9,293.4 1118.6,293.4 1121.3,293.4 1124.1,293.4 1126.8,293.3 1129.5,293.3 1132.3,293.3 1135.0,293.3 1137.7,293.3 1138.9,293.3 1140.1,293.3 1141.2,293.3 1142.4,293.3 1143.6,293.3 1144.7,293.3 1145.9,293.3 1147.1,293.3 1148.2,293.3 1149.4,293.3 1150.6,293.3 1151.7,293.3 1152.9,293.3 1154.1,293.3 1155.2,293.3 1156.4,293.3 1157.6,293.3 1158.7,293.3 1159.9,293.3 1161.1,293.3 1162.2,293.3 1166.3,293.3 1170.4,293.3 1174.5,293.3 1178.5,293.3 1182.6,293.3 1186.7,293.3 1190.8,293.3 1194.9,293.3 1199.0,293.3 1203.0,293.3 1207.1,293.3 1211.2,293.3 1215.3,293.3 1219.4,293.3 1223.4,293.3 1227.5,293.3 1231.6,293.3 1235.7,293.3 1239.8,293.3 1243.9,293.3 1247.9,293.3 1252.0,293.3 1256.1,293.3" stroke-width="2.5" stroke-linejoin="round"/>
<line x1="1296.00" y1="52.90" x2="1296.00" y2="306.50" stroke-width="2.2"/>
<line x1="1288.00" y1="299.00" x2="1542.70" y2="299.00" stroke-width="2.2"/>
<line x1="1288.00" y1="237.70" x2="1296.00" y2="237.70" stroke-width="1.9"/>
<line x1="1288.00" y1="176.40" x2="1296.00" y2="176.40" stroke-width="1.9"/>
<line x1="1288.00" y1="115.10" x2="1296.00" y2="115.10" stroke-width="1.9"/>
<line x1="1288.00" y1="53.80" x2="1296.00" y2="53.80" stroke-width="1.9"/>
<line x1="1377.93" y1="299.00" x2="1377.93" y2="306.50" stroke-width="1.9"/>
<line x1="1459.87" y1="299.00" x2="1459.87" y2="306.50" stroke-width="1.9"/>
<line x1="1541.80" y1="299.00" x2="1541.80" y2="306.50" stroke-width="1.9"/>
<polyline points="1298.5,299.0 1299.7,299.0 1300.3,293.5 1301.0,288.3 1301.7,283.2 1302.3,278.5 1303.0,273.9 1303.6,269.5 1304.3,265.3 1304.9,261.2 1305.6,257.4 1306.2,253.7 1306.9,250.2 1307.6,246.8 1308.2,243.5 1308.9,240.4 1309.5,237.4 1310.2,234.5 1310.8,231.8 1311.5,229.1 1312.1,226.6 1312.8,224.2 1313.5,221.8 1314.1,219.5 1314.8,217.4 1315.4,215.3 1316.1,213.3 1318.8,205.6 1321.6,199.0 1324.3,193.3 1327.0,188.3 1329.8,184.0 1332.5,180.1 1335.3,176.7 1338.0,173.6 1340.7,170.8 1343.5,168.3 1346.2,166.0 1349.0,163.9 1351.7,162.0 1354.5,160.2 1357.2,158.6 1359.9,157.0 1362.7,155.6 1365.4,154.3 1368.2,153.1 1370.9,151.9 1373.6,150.8 1376.4,149.8 1379.1,148.8 1381.9,147.9 1384.6,147.1 1387.4,146.3 1390.1,145.5 1392.8,144.8 1395.6,144.1 1398.3,143.5 1401.1,142.9 1403.8,142.3 1406.5,141.8 1409.3,141.3 1412.0,140.8 1414.8,140.4 1417.5,139.9 1420.3,139.5 1423.0,139.1 1424.2,141.3 1425.3,142.0 1426.5,142.5 1427.7,142.9 1428.8,143.3 1430.0,143.7 1431.2,144.1 1432.4,144.5 1433.5,144.8 1434.7,145.2 1435.9,145.6 1437.0,145.9 1438.2,146.3 1439.4,146.6 1440.6,146.9 1441.7,147.3 1442.9,147.6 1444.1,147.9 1445.2,148.2 1446.4,148.5 1447.6,148.8 1451.7,149.8 1455.8,150.8 1459.9,151.7 1464.0,152.5 1468.1,153.3 1472.2,154.0 1476.3,154.7 1480.3,155.3 1484.4,155.9 1488.5,156.5 1492.6,157.0 1496.7,157.5 1500.8,158.0 1504.9,158.5 1509.0,158.9 1513.1,159.3 1517.2,159.6 1521.3,160.0 1525.4,160.3 1529.5,160.6 1533.6,160.9 1537.7,161.1 1541.8,161.4" stroke-width="2.5" stroke-linejoin="round"/>
<line x1="1423.82" y1="139.63" x2="1423.82" y2="143.13" stroke-width="1.3"/>
<polyline points="1298.5,299.0 1299.7,299.0 1300.3,297.8 1301.0,296.7 1301.7,295.5 1302.3,294.4 1303.0,293.3 1303.6,292.2 1304.3,291.1 1304.9,290.0 1305.6,288.9 1306.2,287.9 1306.9,286.9 1307.6,285.8 1308.2,284.8 1308.9,283.8 1309.5,282.9 1310.2,281.9 1310.8,280.9 1311.5,280.0 1312.1,279.1 1312.8,278.1 1313.5,277.2 1314.1,276.3 1314.8,275.4 1315.4,274.6 1316.1,273.7 1318.8,270.2 1321.6,266.8 1324.3,263.6 1327.0,260.6 1329.8,257.7 1332.5,254.9 1335.3,252.3 1338.0,249.7 1340.7,247.3 1343.5,244.9 1346.2,242.7 1349.0,240.5 1351.7,238.5 1354.5,236.5 1357.2,234.5 1359.9,232.7 1362.7,230.9 1365.4,229.1 1368.2,227.4 1370.9,225.8 1373.6,224.3 1376.4,222.7 1379.1,221.2 1381.9,219.8 1384.6,218.4 1387.4,217.1 1390.1,215.8 1392.8,214.5 1395.6,213.2 1398.3,212.0 1401.1,210.9 1403.8,209.7 1406.5,208.6 1409.3,207.5 1412.0,206.4 1414.8,205.4 1417.5,204.4 1420.3,203.4 1423.0,202.5 1424.2,202.5 1425.3,202.6 1426.5,202.7 1427.7,202.8 1428.8,202.8 1430.0,202.9 1431.2,203.0 1432.4,203.1 1433.5,203.1 1434.7,203.2 1435.9,203.3 1437.0,203.3 1438.2,203.4 1439.4,203.5 1440.6,203.6 1441.7,203.6 1442.9,203.7 1444.1,203.8 1445.2,203.8 1446.4,203.9 1447.6,204.0 1451.7,204.2 1455.8,204.4 1459.9,204.6 1464.0,204.8 1468.1,205.0 1472.2,205.2 1476.3,205.3 1480.3,205.5 1484.4,205.7 1488.5,205.8 1492.6,206.0 1496.7,206.1 1500.8,206.3 1504.9,206.4 1509.0,206.6 1513.1,206.7 1517.2,206.8 1521.3,206.9 1525.4,207.1 1529.5,207.2 1533.6,207.3 1537.7,207.4 1541.8,207.5" stroke-width="2.5" stroke-linejoin="round"/>
<line x1="1423.82" y1="202.95" x2="1423.82" y2="206.45" stroke-width="1.3"/>
<polyline points="1298.5,299.0 1299.7,299.0 1300.3,298.8 1301.0,298.6 1301.7,298.5 1302.3,298.3 1303.0,298.1 1303.6,297.9 1304.3,297.7 1304.9,297.6 1305.6,297.4 1306.2,297.2 1306.9,297.0 1307.6,296.8 1308.2,296.7 1308.9,296.5 1309.5,296.3 1310.2,296.1 1310.8,295.9 1311.5,295.8 1312.1,295.6 1312.8,295.4 1313.5,295.2 1314.1,295.0 1314.8,294.8 1315.4,294.7 1316.1,294.5 1318.8,293.7 1321.6,293.0 1324.3,292.2 1327.0,291.5 1329.8,290.7 1332.5,290.0 1335.3,289.2 1338.0,288.4 1340.7,287.7 1343.5,286.9 1346.2,286.2 1349.0,285.4 1351.7,284.7 1354.5,283.9 1357.2,283.2 1359.9,282.4 1362.7,281.7 1365.4,280.9 1368.2,280.1 1370.9,279.4 1373.6,278.6 1376.4,277.9 1379.1,277.1 1381.9,276.4 1384.6,275.6 1387.4,274.9 1390.1,274.1 1392.8,273.3 1395.6,272.6 1398.3,271.8 1401.1,271.1 1403.8,270.3 1406.5,269.6 1409.3,268.8 1412.0,268.1 1414.8,267.3 1417.5,266.5 1420.3,265.8 1423.0,265.0 1424.2,265.1 1425.3,265.1 1426.5,265.1 1427.7,265.1 1428.8,265.1 1430.0,265.1 1431.2,265.1 1432.4,265.1 1433.5,265.2 1434.7,265.2 1435.9,265.2 1437.0,265.2 1438.2,265.2 1439.4,265.2 1440.6,265.2 1441.7,265.3 1442.9,265.3 1444.1,265.3 1445.2,265.3 1446.4,265.3 1447.6,265.3 1451.7,265.4 1455.8,265.4 1459.9,265.4 1464.0,265.5 1468.1,265.5 1472.2,265.5 1476.3,265.6 1480.3,265.6 1484.4,265.7 1488.5,265.7 1492.6,265.7 1496.7,265.8 1500.8,265.8 1504.9,265.8 1509.0,265.8 1513.1,265.9 1517.2,265.9 1521.3,265.9 1525.4,266.0 1529.5,266.0 1533.6,266.0 1537.7,266.0 1541.8,266.1" stroke-width="2.5" stroke-linejoin="round"/>
<line x1="1423.82" y1="265.54" x2="1423.82" y2="269.04" stroke-width="1.3"/>
<polyline points="1298.5,299.0 1299.7,299.0 1300.3,298.9 1301.0,298.9 1301.7,298.8 1302.3,298.7 1303.0,298.6 1303.6,298.6 1304.3,298.5 1304.9,298.4 1305.6,298.4 1306.2,298.3 1306.9,298.2 1307.6,298.2 1308.2,298.1 1308.9,298.0 1309.5,298.0 1310.2,297.9 1310.8,297.8 1311.5,297.8 1312.1,297.7 1312.8,297.6 1313.5,297.6 1314.1,297.5 1314.8,297.4 1315.4,297.4 1316.1,297.3 1318.8,297.0 1321.6,296.8 1324.3,296.5 1327.0,296.2 1329.8,296.0 1332.5,295.7 1335.3,295.5 1338.0,295.3 1340.7,295.0 1343.5,294.8 1346.2,294.6 1349.0,294.3 1351.7,294.1 1354.5,293.9 1357.2,293.7 1359.9,293.5 1362.7,293.3 1365.4,293.1 1368.2,292.9 1370.9,292.7 1373.6,292.5 1376.4,292.3 1379.1,292.1 1381.9,291.9 1384.6,291.7 1387.4,291.6 1390.1,291.4 1392.8,291.2 1395.6,291.0 1398.3,290.9 1401.1,290.7 1403.8,290.6 1406.5,290.4 1409.3,290.2 1412.0,290.1 1414.8,289.9 1417.5,289.8 1420.3,289.6 1423.0,289.5 1424.2,289.5 1425.3,289.5 1426.5,289.5 1427.7,289.5 1428.8,289.5 1430.0,289.6 1431.2,289.6 1432.4,289.6 1433.5,289.6 1434.7,289.6 1435.9,289.6 1437.0,289.6 1438.2,289.6 1439.4,289.6 1440.6,289.6 1441.7,289.7 1442.9,289.7 1444.1,289.7 1445.2,289.7 1446.4,289.7 1447.6,289.7 1451.7,289.7 1455.8,289.8 1459.9,289.8 1464.0,289.8 1468.1,289.8 1472.2,289.9 1476.3,289.9 1480.3,289.9 1484.4,289.9 1488.5,290.0 1492.6,290.0 1496.7,290.0 1500.8,290.0 1504.9,290.1 1509.0,290.1 1513.1,290.1 1517.2,290.1 1521.3,290.1 1525.4,290.2 1529.5,290.2 1533.6,290.2 1537.7,290.2 1541.8,290.2" stroke-width="2.5" stroke-linejoin="round"/>
<line x1="1423.82" y1="290.00" x2="1423.82" y2="293.50" stroke-width="1.3"/>
<polyline points="1298.5,299.0 1299.7,299.0 1300.3,299.0 1301.0,299.0 1301.7,298.9 1302.3,298.9 1303.0,298.9 1303.6,298.9 1304.3,298.9 1304.9,298.9 1305.6,298.8 1306.2,298.8 1306.9,298.8 1307.6,298.8 1308.2,298.8 1308.9,298.8 1309.5,298.7 1310.2,298.7 1310.8,298.7 1311.5,298.7 1312.1,298.7 1312.8,298.7 1313.5,298.6 1314.1,298.6 1314.8,298.6 1315.4,298.6 1316.1,298.6 1318.8,298.5 1321.6,298.5 1324.3,298.4 1327.0,298.3 1329.8,298.3 1332.5,298.2 1335.3,298.2 1338.0,298.1 1340.7,298.0 1343.5,298.0 1346.2,297.9 1349.0,297.9 1351.7,297.8 1354.5,297.8 1357.2,297.7 1359.9,297.7 1362.7,297.6 1365.4,297.6 1368.2,297.5 1370.9,297.5 1373.6,297.4 1376.4,297.4 1379.1,297.3 1381.9,297.3 1384.6,297.2 1387.4,297.2 1390.1,297.2 1392.8,297.1 1395.6,297.1 1398.3,297.0 1401.1,297.0 1403.8,297.0 1406.5,296.9 1409.3,296.9 1412.0,296.8 1414.8,296.8 1417.5,296.8 1420.3,296.7 1423.0,296.7 1424.2,296.7 1425.3,296.7 1426.5,296.7 1427.7,296.7 1428.8,296.7 1430.0,296.7 1431.2,296.7 1432.4,296.7 1433.5,296.7 1434.7,296.7 1435.9,296.7 1437.0,296.7 1438.2,296.7 1439.4,296.7 1440.6,296.7 1441.7,296.7 1442.9,296.7 1444.1,296.7 1445.2,296.7 1446.4,296.7 1447.6,296.7 1451.7,296.7 1455.8,296.7 1459.9,296.7 1464.0,296.7 1468.1,296.7 1472.2,296.7 1476.3,296.7 1480.3,296.7 1484.4,296.7 1488.5,296.7 1492.6,296.7 1496.7,296.7 1500.8,296.7 1504.9,296.7 1509.0,296.7 1513.1,296.7 1517.2,296.7 1521.3,296.7 1525.4,296.7 1529.5,296.7 1533.6,296.7 1537.7,296.7 1541.8,296.7" stroke-width="2.5" stroke-linejoin="round"/>
<polyline points="1298.5,299.0 1299.7,299.0 1300.3,299.0 1301.0,299.0 1301.7,299.0 1302.3,299.0 1303.0,299.0 1303.6,299.0 1304.3,299.0 1304.9,298.9 1305.6,298.9 1306.2,298.9 1306.9,298.9 1307.6,298.9 1308.2,298.9 1308.9,298.9 1309.5,298.9 1310.2,298.9 1310.8,298.9 1311.5,298.9 1312.1,298.9 1312.8,298.9 1313.5,298.9 1314.1,298.9 1314.8,298.8 1315.4,298.8 1316.1,298.8 1318.8,298.8 1321.6,298.8 1324.3,298.8 1327.0,298.7 1329.8,298.7 1332.5,298.7 1335.3,298.7 1338.0,298.6 1340.7,298.6 1343.5,298.6 1346.2,298.6 1349.0,298.5 1351.7,298.5 1354.5,298.5 1357.2,298.5 1359.9,298.5 1362.7,298.4 1365.4,298.4 1368.2,298.4 1370.9,298.4 1373.6,298.4 1376.4,298.4 1379.1,298.3 1381.9,298.3 1384.6,298.3 1387.4,298.3 1390.1,298.3 1392.8,298.2 1395.6,298.2 1398.3,298.2 1401.1,298.2 1403.8,298.2 1406.5,298.2 1409.3,298.2 1412.0,298.1 1414.8,298.1 1417.5,298.1 1420.3,298.1 1423.0,298.1 1424.2,298.1 1425.3,298.1 1426.5,298.1 1427.7,298.1 1428.8,298.1 1430.0,298.1 1431.2,298.1 1432.4,298.1 1433.5,298.1 1434.7,298.1 1435.9,298.1 1437.0,298.1 1438.2,298.1 1439.4,298.1 1440.6,298.1 1441.7,298.1 1442.9,298.1 1444.1,298.1 1445.2,298.1 1446.4,298.1 1447.6,298.1 1451.7,298.1 1455.8,298.1 1459.9,298.1 1464.0,298.1 1468.1,298.1 1472.2,298.1 1476.3,298.1 1480.3,298.1 1484.4,298.1 1488.5,298.1 1492.6,298.1 1496.7,298.1 1500.8,298.1 1504.9,298.1 1509.0,298.1 1513.1,298.1 1517.2,298.1 1521.3,298.1 1525.4,298.1 1529.5,298.1 1533.6,298.1 1537.7,298.1 1541.8,298.1" stroke-width="2.5" stroke-linejoin="round"/>
<line x1="1575.00" y1="54.70" x2="1575.00" y2="307.50" stroke-width="1.7"/>
<line x1="1567.00" y1="300.00" x2="1820.80" y2="300.00" stroke-width="2.2"/>
<line x1="1567.00" y1="238.90" x2="1575.00" y2="238.90" stroke-width="1.9"/>
<line x1="1567.00" y1="177.80" x2="1575.00" y2="177.80" stroke-width="1.9"/>
<line x1="1567.00" y1="116.70" x2="1575.00" y2="116.70" stroke-width="1.9"/>
<line x1="1567.00" y1="55.60" x2="1575.00" y2="55.60" stroke-width="1.9"/>
<line x1="1656.63" y1="300.00" x2="1656.63" y2="307.50" stroke-width="1.9"/>
<line x1="1738.27" y1="300.00" x2="1738.27" y2="307.50" stroke-width="1.9"/>
<line x1="1819.90" y1="300.00" x2="1819.90" y2="307.50" stroke-width="1.9"/>
<polyline points="1577.4,300.0 1578.7,300.0 1579.3,294.7 1580.0,289.5 1580.6,284.6 1581.3,279.8 1581.9,275.2 1582.6,270.8 1583.2,266.5 1583.9,262.4 1584.6,258.4 1585.2,254.6 1585.9,250.9 1586.5,247.4 1587.2,243.9 1587.8,240.6 1588.5,237.4 1589.1,234.3 1589.8,231.4 1590.4,228.5 1591.1,225.7 1591.7,223.1 1592.4,220.5 1593.0,218.0 1593.7,215.6 1594.3,213.3 1595.0,211.1 1597.7,202.6 1600.4,195.2 1603.2,188.9 1605.9,183.4 1608.6,178.6 1611.3,174.4 1614.0,170.7 1616.8,167.5 1619.5,164.6 1622.2,162.1 1624.9,159.9 1627.7,157.9 1630.4,156.1 1633.1,154.5 1635.8,153.0 1638.5,151.7 1641.3,150.4 1644.0,149.3 1646.7,148.2 1649.4,147.2 1652.1,146.3 1654.9,145.4 1657.6,144.5 1660.3,143.7 1663.0,142.9 1665.7,142.2 1668.5,141.4 1671.2,140.7 1673.9,140.0 1676.6,139.3 1679.4,138.6 1682.1,138.0 1684.8,137.3 1687.5,136.7 1690.2,136.0 1693.0,135.4 1695.7,134.8 1698.4,134.1 1701.1,133.5 1702.3,134.0 1703.5,134.4 1704.6,134.9 1705.8,135.4 1707.0,135.8 1708.1,136.2 1709.3,136.6 1710.5,137.0 1711.6,137.4 1712.8,137.8 1714.0,138.2 1715.1,138.6 1716.3,139.0 1717.5,139.3 1718.6,139.7 1719.8,140.0 1720.9,140.3 1722.1,140.7 1723.3,141.0 1724.4,141.3 1725.6,141.6 1729.7,142.7 1733.8,143.6 1737.9,144.5 1742.0,145.3 1746.1,146.1 1750.2,146.9 1754.3,147.5 1758.4,148.2 1762.5,148.8 1766.6,149.4 1770.7,149.9 1774.8,150.4 1778.9,150.9 1783.0,151.4 1787.1,151.8 1791.2,152.2 1795.3,152.6 1799.4,153.0 1803.5,153.4 1807.6,153.7 1811.7,154.1 1815.8,154.4 1819.9,154.7" stroke-width="2.5" stroke-linejoin="round"/>
<line x1="1701.94" y1="134.00" x2="1701.94" y2="137.50" stroke-width="1.3"/>
<polyline points="1577.4,300.0 1578.7,300.0 1579.3,298.6 1580.0,297.2 1580.6,295.9 1581.3,294.5 1581.9,293.2 1582.6,291.9 1583.2,290.6 1583.9,289.3 1584.6,288.0 1585.2,286.8 1585.9,285.5 1586.5,284.3 1587.2,283.1 1587.8,281.9 1588.5,280.7 1589.1,279.5 1589.8,278.4 1590.4,277.2 1591.1,276.1 1591.7,275.0 1592.4,273.9 1593.0,272.8 1593.7,271.7 1594.3,270.7 1595.0,269.6 1597.7,265.4 1600.4,261.4 1603.2,257.5 1605.9,253.9 1608.6,250.4 1611.3,247.1 1614.0,243.9 1616.8,240.9 1619.5,238.0 1622.2,235.3 1624.9,232.7 1627.7,230.2 1630.4,227.9 1633.1,225.6 1635.8,223.5 1638.5,221.4 1641.3,219.5 1644.0,217.6 1646.7,215.8 1649.4,214.1 1652.1,212.5 1654.9,210.9 1657.6,209.5 1660.3,208.0 1663.0,206.7 1665.7,205.4 1668.5,204.2 1671.2,203.0 1673.9,201.8 1676.6,200.7 1679.4,199.7 1682.1,198.7 1684.8,197.8 1687.5,196.8 1690.2,196.0 1693.0,195.1 1695.7,194.3 1698.4,193.5 1701.1,192.8 1702.3,192.8 1703.5,192.9 1704.6,193.0 1705.8,193.1 1707.0,193.1 1708.1,193.2 1709.3,193.3 1710.5,193.4 1711.6,193.4 1712.8,193.5 1714.0,193.6 1715.1,193.6 1716.3,193.7 1717.5,193.8 1718.6,193.8 1719.8,193.9 1720.9,194.0 1722.1,194.0 1723.3,194.1 1724.4,194.2 1725.6,194.2 1729.7,194.4 1733.8,194.7 1737.9,194.9 1742.0,195.1 1746.1,195.3 1750.2,195.4 1754.3,195.6 1758.4,195.8 1762.5,196.0 1766.6,196.2 1770.7,196.3 1774.8,196.5 1778.9,196.6 1783.0,196.8 1787.1,196.9 1791.2,197.1 1795.3,197.2 1799.4,197.3 1803.5,197.5 1807.6,197.6 1811.7,197.7 1815.8,197.8 1819.9,198.0" stroke-width="2.5" stroke-linejoin="round"/>
<line x1="1701.94" y1="193.27" x2="1701.94" y2="196.77" stroke-width="1.3"/>
<polyline points="1577.4,300.0 1578.7,300.0 1579.3,299.8 1580.0,299.6 1580.6,299.4 1581.3,299.2 1581.9,299.0 1582.6,298.7 1583.2,298.5 1583.9,298.3 1584.6,298.1 1585.2,297.9 1585.9,297.7 1586.5,297.5 1587.2,297.3 1587.8,297.1 1588.5,296.9 1589.1,296.7 1589.8,296.5 1590.4,296.2 1591.1,296.0 1591.7,295.8 1592.4,295.6 1593.0,295.4 1593.7,295.2 1594.3,295.0 1595.0,294.8 1597.7,293.9 1600.4,293.0 1603.2,292.2 1605.9,291.3 1608.6,290.4 1611.3,289.6 1614.0,288.7 1616.8,287.8 1619.5,287.0 1622.2,286.1 1624.9,285.2 1627.7,284.4 1630.4,283.5 1633.1,282.6 1635.8,281.8 1638.5,280.9 1641.3,280.0 1644.0,279.1 1646.7,278.3 1649.4,277.4 1652.1,276.5 1654.9,275.7 1657.6,274.8 1660.3,273.9 1663.0,273.1 1665.7,272.2 1668.5,271.3 1671.2,270.5 1673.9,269.6 1676.6,268.7 1679.4,267.8 1682.1,267.0 1684.8,266.1 1687.5,265.2 1690.2,264.4 1693.0,263.5 1695.7,262.6 1698.4,261.8 1701.1,260.9 1702.3,260.9 1703.5,260.9 1704.6,260.9 1705.8,260.9 1707.0,261.0 1708.1,261.0 1709.3,261.0 1710.5,261.0 1711.6,261.0 1712.8,261.0 1714.0,261.0 1715.1,261.0 1716.3,261.1 1717.5,261.1 1718.6,261.1 1719.8,261.1 1720.9,261.1 1722.1,261.1 1723.3,261.1 1724.4,261.1 1725.6,261.1 1729.7,261.2 1733.8,261.2 1737.9,261.3 1742.0,261.3 1746.1,261.3 1750.2,261.4 1754.3,261.4 1758.4,261.4 1762.5,261.5 1766.6,261.5 1770.7,261.5 1774.8,261.5 1778.9,261.6 1783.0,261.6 1787.1,261.6 1791.2,261.6 1795.3,261.7 1799.4,261.7 1803.5,261.7 1807.6,261.7 1811.7,261.8 1815.8,261.8 1819.9,261.8" stroke-width="2.5" stroke-linejoin="round"/>
<line x1="1701.94" y1="261.40" x2="1701.94" y2="264.90" stroke-width="1.3"/>
<polyline points="1577.4,300.0 1578.7,300.0 1579.3,299.9 1580.0,299.8 1580.6,299.8 1581.3,299.7 1581.9,299.6 1582.6,299.5 1583.2,299.5 1583.9,299.4 1584.6,299.3 1585.2,299.2 1585.9,299.2 1586.5,299.1 1587.2,299.0 1587.8,298.9 1588.5,298.9 1589.1,298.8 1589.8,298.7 1590.4,298.6 1591.1,298.6 1591.7,298.5 1592.4,298.4 1593.0,298.3 1593.7,298.3 1594.3,298.2 1595.0,298.1 1597.7,297.8 1600.4,297.5 1603.2,297.3 1605.9,297.0 1608.6,296.7 1611.3,296.4 1614.0,296.2 1616.8,295.9 1619.5,295.6 1622.2,295.4 1624.9,295.1 1627.7,294.9 1630.4,294.7 1633.1,294.4 1635.8,294.2 1638.5,294.0 1641.3,293.7 1644.0,293.5 1646.7,293.3 1649.4,293.1 1652.1,292.9 1654.9,292.7 1657.6,292.5 1660.3,292.3 1663.0,292.1 1665.7,291.9 1668.5,291.7 1671.2,291.5 1673.9,291.3 1676.6,291.1 1679.4,290.9 1682.1,290.8 1684.8,290.6 1687.5,290.4 1690.2,290.3 1693.0,290.1 1695.7,289.9 1698.4,289.8 1701.1,289.6 1702.3,289.6 1703.5,289.6 1704.6,289.6 1705.8,289.7 1707.0,289.7 1708.1,289.7 1709.3,289.7 1710.5,289.7 1711.6,289.7 1712.8,289.7 1714.0,289.7 1715.1,289.7 1716.3,289.7 1717.5,289.7 1718.6,289.8 1719.8,289.8 1720.9,289.8 1722.1,289.8 1723.3,289.8 1724.4,289.8 1725.6,289.8 1729.7,289.8 1733.8,289.9 1737.9,289.9 1742.0,289.9 1746.1,290.0 1750.2,290.0 1754.3,290.0 1758.4,290.0 1762.5,290.1 1766.6,290.1 1770.7,290.1 1774.8,290.1 1778.9,290.2 1783.0,290.2 1787.1,290.2 1791.2,290.2 1795.3,290.2 1799.4,290.3 1803.5,290.3 1807.6,290.3 1811.7,290.3 1815.8,290.3 1819.9,290.3" stroke-width="2.5" stroke-linejoin="round"/>
<line x1="1701.94" y1="290.11" x2="1701.94" y2="293.61" stroke-width="1.3"/>
<polyline points="1577.4,300.0 1578.7,300.0 1579.3,300.0 1580.0,300.0 1580.6,300.0 1581.3,299.9 1581.9,299.9 1582.6,299.9 1583.2,299.9 1583.9,299.9 1584.6,299.9 1585.2,299.8 1585.9,299.8 1586.5,299.8 1587.2,299.8 1587.8,299.8 1588.5,299.8 1589.1,299.7 1589.8,299.7 1590.4,299.7 1591.1,299.7 1591.7,299.7 1592.4,299.7 1593.0,299.7 1593.7,299.6 1594.3,299.6 1595.0,299.6 1597.7,299.6 1600.4,299.5 1603.2,299.4 1605.9,299.4 1608.6,299.3 1611.3,299.3 1614.0,299.2 1616.8,299.2 1619.5,299.1 1622.2,299.1 1624.9,299.0 1627.7,298.9 1630.4,298.9 1633.1,298.9 1635.8,298.8 1638.5,298.8 1641.3,298.7 1644.0,298.7 1646.7,298.6 1649.4,298.6 1652.1,298.5 1654.9,298.5 1657.6,298.4 1660.3,298.4 1663.0,298.4 1665.7,298.3 1668.5,298.3 1671.2,298.2 1673.9,298.2 1676.6,298.2 1679.4,298.1 1682.1,298.1 1684.8,298.1 1687.5,298.0 1690.2,298.0 1693.0,298.0 1695.7,297.9 1698.4,297.9 1701.1,297.9 1702.3,297.9 1703.5,297.9 1704.6,297.9 1705.8,297.9 1707.0,297.9 1708.1,297.9 1709.3,297.9 1710.5,297.9 1711.6,297.9 1712.8,297.9 1714.0,297.9 1715.1,297.9 1716.3,297.9 1717.5,297.9 1718.6,297.9 1719.8,297.9 1720.9,297.9 1722.1,297.9 1723.3,297.9 1724.4,297.9 1725.6,297.9 1729.7,297.9 1733.8,297.9 1737.9,297.9 1742.0,297.9 1746.1,297.9 1750.2,297.9 1754.3,297.9 1758.4,297.9 1762.5,297.9 1766.6,297.9 1770.7,297.9 1774.8,297.9 1778.9,297.9 1783.0,297.9 1787.1,297.9 1791.2,297.9 1795.3,297.9 1799.4,297.9 1803.5,297.9 1807.6,297.9 1811.7,297.9 1815.8,297.9 1819.9,297.9" stroke-width="2.5" stroke-linejoin="round"/>
<polyline points="1577.4,300.0 1578.7,300.0 1579.3,300.0 1580.0,300.0 1580.6,300.0 1581.3,300.0 1581.9,300.0 1582.6,300.0 1583.2,300.0 1583.9,300.0 1584.6,300.0 1585.2,300.0 1585.9,300.0 1586.5,299.9 1587.2,299.9 1587.8,299.9 1588.5,299.9 1589.1,299.9 1589.8,299.9 1590.4,299.9 1591.1,299.9 1591.7,299.9 1592.4,299.9 1593.0,299.9 1593.7,299.9 1594.3,299.9 1595.0,299.9 1597.7,299.9 1600.4,299.9 1603.2,299.8 1605.9,299.8 1608.6,299.8 1611.3,299.8 1614.0,299.8 1616.8,299.8 1619.5,299.7 1622.2,299.7 1624.9,299.7 1627.7,299.7 1630.4,299.7 1633.1,299.7 1635.8,299.7 1638.5,299.6 1641.3,299.6 1644.0,299.6 1646.7,299.6 1649.4,299.6 1652.1,299.6 1654.9,299.6 1657.6,299.6 1660.3,299.5 1663.0,299.5 1665.7,299.5 1668.5,299.5 1671.2,299.5 1673.9,299.5 1676.6,299.5 1679.4,299.5 1682.1,299.5 1684.8,299.4 1687.5,299.4 1690.2,299.4 1693.0,299.4 1695.7,299.4 1698.4,299.4 1701.1,299.4 1702.3,299.4 1703.5,299.4 1704.6,299.4 1705.8,299.4 1707.0,299.4 1708.1,299.4 1709.3,299.4 1710.5,299.4 1711.6,299.4 1712.8,299.4 1714.0,299.4 1715.1,299.4 1716.3,299.4 1717.5,299.4 1718.6,299.4 1719.8,299.4 1720.9,299.4 1722.1,299.4 1723.3,299.4 1724.4,299.4 1725.6,299.4 1729.7,299.4 1733.8,299.4 1737.9,299.4 1742.0,299.4 1746.1,299.4 1750.2,299.4 1754.3,299.4 1758.4,299.4 1762.5,299.4 1766.6,299.4 1770.7,299.4 1774.8,299.4 1778.9,299.4 1783.0,299.4 1787.1,299.4 1791.2,299.4 1795.3,299.4 1799.4,299.4 1803.5,299.4 1807.6,299.4 1811.7,299.4 1815.8,299.4 1819.9,299.4" stroke-width="2.5" stroke-linejoin="round"/>
<line x1="1854.80" y1="53.50" x2="1854.80" y2="306.00" stroke-width="1.7"/>
<line x1="1846.80" y1="298.50" x2="2100.50" y2="298.50" stroke-width="2.2"/>
<line x1="1846.80" y1="237.47" x2="1854.80" y2="237.47" stroke-width="1.9"/>
<line x1="1846.80" y1="176.45" x2="1854.80" y2="176.45" stroke-width="1.9"/>
<line x1="1846.80" y1="115.43" x2="1854.80" y2="115.43" stroke-width="1.9"/>
<line x1="1846.80" y1="54.40" x2="1854.80" y2="54.40" stroke-width="1.9"/>
<line x1="1936.40" y1="298.50" x2="1936.40" y2="306.00" stroke-width="1.9"/>
<line x1="2018.00" y1="298.50" x2="2018.00" y2="306.00" stroke-width="1.9"/>
<line x1="2099.60" y1="298.50" x2="2099.60" y2="306.00" stroke-width="1.9"/>
<polyline points="1857.2,298.5 1858.5,298.5 1859.1,293.3 1859.8,288.4 1860.4,283.8 1861.1,279.5 1861.7,275.5 1862.4,271.7 1863.0,268.1 1863.7,264.8 1864.3,261.6 1865.0,258.6 1865.7,255.7 1866.3,253.1 1867.0,250.5 1867.6,248.1 1868.3,245.8 1868.9,243.7 1869.6,241.6 1870.2,239.7 1870.9,237.8 1871.5,236.0 1872.2,234.3 1872.8,232.7 1873.5,231.1 1874.1,229.6 1874.8,228.2 1877.5,222.8 1880.3,218.1 1883.0,214.1 1885.7,210.5 1888.4,207.2 1891.2,204.2 1893.9,201.4 1896.6,198.9 1899.4,196.5 1902.1,194.2 1904.8,192.1 1907.6,190.1 1910.3,188.1 1913.0,186.3 1915.7,184.6 1918.5,182.9 1921.2,181.3 1923.9,179.8 1926.7,178.3 1929.4,176.9 1932.1,175.6 1934.9,174.3 1937.6,173.1 1940.3,171.9 1943.1,170.8 1945.8,169.7 1948.5,168.7 1951.2,167.7 1954.0,166.7 1956.7,165.8 1959.4,165.0 1962.2,164.1 1964.9,163.3 1967.6,162.6 1970.4,161.8 1973.1,161.1 1975.8,160.5 1978.5,159.8 1981.3,159.2 1982.4,159.7 1983.6,160.2 1984.8,160.6 1985.9,161.1 1987.1,161.5 1988.3,162.0 1989.4,162.4 1990.6,162.8 1991.8,163.3 1992.9,163.7 1994.1,164.1 1995.3,164.5 1996.4,164.9 1997.6,165.2 1998.8,165.6 1999.9,166.0 2001.1,166.4 2002.3,166.7 2003.4,167.1 2004.6,167.4 2005.8,167.8 2009.8,168.9 2013.9,170.0 2018.0,171.0 2022.1,171.9 2026.2,172.8 2030.2,173.7 2034.3,174.5 2038.4,175.2 2042.5,175.9 2046.6,176.6 2050.6,177.2 2054.7,177.8 2058.8,178.4 2062.9,178.9 2067.0,179.4 2071.0,179.9 2075.1,180.3 2079.2,180.8 2083.3,181.2 2087.4,181.5 2091.4,181.9 2095.5,182.2 2099.6,182.6" stroke-width="2.5" stroke-linejoin="round"/>
<line x1="1982.10" y1="159.71" x2="1982.10" y2="163.21" stroke-width="1.3"/>
<polyline points="1857.2,298.5 1858.5,298.5 1859.1,297.7 1859.8,297.0 1860.4,296.2 1861.1,295.4 1861.7,294.7 1862.4,293.9 1863.0,293.2 1863.7,292.5 1864.3,291.7 1865.0,291.0 1865.7,290.3 1866.3,289.6 1867.0,288.9 1867.6,288.2 1868.3,287.5 1868.9,286.8 1869.6,286.1 1870.2,285.5 1870.9,284.8 1871.5,284.1 1872.2,283.5 1872.8,282.8 1873.5,282.2 1874.1,281.5 1874.8,280.9 1877.5,278.3 1880.3,275.8 1883.0,273.3 1885.7,271.0 1888.4,268.7 1891.2,266.5 1893.9,264.4 1896.6,262.4 1899.4,260.4 1902.1,258.5 1904.8,256.7 1907.6,254.9 1910.3,253.2 1913.0,251.5 1915.7,249.9 1918.5,248.4 1921.2,246.9 1923.9,245.4 1926.7,244.1 1929.4,242.7 1932.1,241.4 1934.9,240.2 1937.6,238.9 1940.3,237.8 1943.1,236.6 1945.8,235.6 1948.5,234.5 1951.2,233.5 1954.0,232.5 1956.7,231.6 1959.4,230.6 1962.2,229.8 1964.9,228.9 1967.6,228.1 1970.4,227.3 1973.1,226.5 1975.8,225.8 1978.5,225.0 1981.3,224.4 1982.4,224.4 1983.6,224.5 1984.8,224.5 1985.9,224.6 1987.1,224.6 1988.3,224.7 1989.4,224.8 1990.6,224.8 1991.8,224.9 1992.9,224.9 1994.1,225.0 1995.3,225.0 1996.4,225.1 1997.6,225.1 1998.8,225.2 1999.9,225.2 2001.1,225.3 2002.3,225.4 2003.4,225.4 2004.6,225.5 2005.8,225.5 2009.8,225.7 2013.9,225.9 2018.0,226.0 2022.1,226.2 2026.2,226.3 2030.2,226.5 2034.3,226.6 2038.4,226.8 2042.5,226.9 2046.6,227.1 2050.6,227.2 2054.7,227.4 2058.8,227.5 2062.9,227.6 2067.0,227.7 2071.0,227.9 2075.1,228.0 2079.2,228.1 2083.3,228.2 2087.4,228.3 2091.4,228.4 2095.5,228.5 2099.6,228.6" stroke-width="2.5" stroke-linejoin="round"/>
<line x1="1982.10" y1="224.85" x2="1982.10" y2="228.35" stroke-width="1.3"/>
<polyline points="1857.2,298.5 1858.5,298.5 1859.1,298.4 1859.8,298.2 1860.4,298.1 1861.1,298.0 1861.7,297.9 1862.4,297.7 1863.0,297.6 1863.7,297.5 1864.3,297.4 1865.0,297.2 1865.7,297.1 1866.3,297.0 1867.0,296.9 1867.6,296.7 1868.3,296.6 1868.9,296.5 1869.6,296.4 1870.2,296.2 1870.9,296.1 1871.5,296.0 1872.2,295.9 1872.8,295.7 1873.5,295.6 1874.1,295.5 1874.8,295.4 1877.5,294.8 1880.3,294.3 1883.0,293.8 1885.7,293.2 1888.4,292.7 1891.2,292.2 1893.9,291.7 1896.6,291.1 1899.4,290.6 1902.1,290.1 1904.8,289.6 1907.6,289.0 1910.3,288.5 1913.0,288.0 1915.7,287.5 1918.5,286.9 1921.2,286.4 1923.9,285.9 1926.7,285.4 1929.4,284.8 1932.1,284.3 1934.9,283.8 1937.6,283.2 1940.3,282.7 1943.1,282.2 1945.8,281.7 1948.5,281.1 1951.2,280.6 1954.0,280.1 1956.7,279.6 1959.4,279.0 1962.2,278.5 1964.9,278.0 1967.6,277.5 1970.4,276.9 1973.1,276.4 1975.8,275.9 1978.5,275.3 1981.3,274.8 1982.4,274.8 1983.6,274.8 1984.8,274.8 1985.9,274.8 1987.1,274.9 1988.3,274.9 1989.4,274.9 1990.6,274.9 1991.8,274.9 1992.9,274.9 1994.1,274.9 1995.3,274.9 1996.4,274.9 1997.6,274.9 1998.8,274.9 1999.9,274.9 2001.1,274.9 2002.3,274.9 2003.4,274.9 2004.6,274.9 2005.8,275.0 2009.8,275.0 2013.9,275.0 2018.0,275.0 2022.1,275.0 2026.2,275.0 2030.2,275.1 2034.3,275.1 2038.4,275.1 2042.5,275.1 2046.6,275.1 2050.6,275.2 2054.7,275.2 2058.8,275.2 2062.9,275.2 2067.0,275.2 2071.0,275.2 2075.1,275.2 2079.2,275.2 2083.3,275.3 2087.4,275.3 2091.4,275.3 2095.5,275.3 2099.6,275.3" stroke-width="2.5" stroke-linejoin="round"/>
<line x1="1982.10" y1="275.32" x2="1982.10" y2="278.82" stroke-width="1.3"/>
<polyline points="1857.2,298.5 1858.5,298.5 1859.1,298.5 1859.8,298.4 1860.4,298.4 1861.1,298.3 1861.7,298.3 1862.4,298.2 1863.0,298.2 1863.7,298.2 1864.3,298.1 1865.0,298.1 1865.7,298.0 1866.3,298.0 1867.0,297.9 1867.6,297.9 1868.3,297.9 1868.9,297.8 1869.6,297.8 1870.2,297.7 1870.9,297.7 1871.5,297.7 1872.2,297.6 1872.8,297.6 1873.5,297.5 1874.1,297.5 1874.8,297.5 1877.5,297.3 1880.3,297.1 1883.0,297.0 1885.7,296.8 1888.4,296.7 1891.2,296.5 1893.9,296.4 1896.6,296.2 1899.4,296.1 1902.1,295.9 1904.8,295.8 1907.6,295.7 1910.3,295.5 1913.0,295.4 1915.7,295.3 1918.5,295.1 1921.2,295.0 1923.9,294.9 1926.7,294.8 1929.4,294.6 1932.1,294.5 1934.9,294.4 1937.6,294.3 1940.3,294.2 1943.1,294.1 1945.8,294.0 1948.5,293.9 1951.2,293.7 1954.0,293.6 1956.7,293.5 1959.4,293.4 1962.2,293.3 1964.9,293.2 1967.6,293.2 1970.4,293.1 1973.1,293.0 1975.8,292.9 1978.5,292.8 1981.3,292.7 1982.4,292.7 1983.6,292.7 1984.8,292.7 1985.9,292.7 1987.1,292.7 1988.3,292.7 1989.4,292.7 1990.6,292.7 1991.8,292.7 1992.9,292.7 1994.1,292.7 1995.3,292.7 1996.4,292.7 1997.6,292.7 1998.8,292.7 1999.9,292.7 2001.1,292.7 2002.3,292.7 2003.4,292.7 2004.6,292.7 2005.8,292.7 2009.8,292.7 2013.9,292.7 2018.0,292.7 2022.1,292.7 2026.2,292.7 2030.2,292.7 2034.3,292.7 2038.4,292.7 2042.5,292.7 2046.6,292.7 2050.6,292.7 2054.7,292.7 2058.8,292.7 2062.9,292.7 2067.0,292.7 2071.0,292.7 2075.1,292.7 2079.2,292.7 2083.3,292.7 2087.4,292.7 2091.4,292.7 2095.5,292.7 2099.6,292.7" stroke-width="2.5" stroke-linejoin="round"/>
<line x1="1982.10" y1="293.20" x2="1982.10" y2="296.70" stroke-width="1.3"/>
<polyline points="1857.2,298.5 1858.5,298.5 1859.1,298.5 1859.8,298.5 1860.4,298.5 1861.1,298.5 1861.7,298.4 1862.4,298.4 1863.0,298.4 1863.7,298.4 1864.3,298.4 1865.0,298.4 1865.7,298.4 1866.3,298.4 1867.0,298.4 1867.6,298.3 1868.3,298.3 1868.9,298.3 1869.6,298.3 1870.2,298.3 1870.9,298.3 1871.5,298.3 1872.2,298.3 1872.8,298.3 1873.5,298.2 1874.1,298.2 1874.8,298.2 1877.5,298.2 1880.3,298.1 1883.0,298.1 1885.7,298.1 1888.4,298.0 1891.2,298.0 1893.9,297.9 1896.6,297.9 1899.4,297.9 1902.1,297.8 1904.8,297.8 1907.6,297.8 1910.3,297.7 1913.0,297.7 1915.7,297.6 1918.5,297.6 1921.2,297.6 1923.9,297.5 1926.7,297.5 1929.4,297.5 1932.1,297.5 1934.9,297.4 1937.6,297.4 1940.3,297.4 1943.1,297.3 1945.8,297.3 1948.5,297.3 1951.2,297.2 1954.0,297.2 1956.7,297.2 1959.4,297.2 1962.2,297.1 1964.9,297.1 1967.6,297.1 1970.4,297.1 1973.1,297.0 1975.8,297.0 1978.5,297.0 1981.3,297.0 1982.4,297.0 1983.6,297.0 1984.8,297.0 1985.9,297.0 1987.1,297.0 1988.3,297.0 1989.4,297.0 1990.6,297.0 1991.8,297.0 1992.9,297.0 1994.1,297.0 1995.3,297.0 1996.4,297.0 1997.6,297.0 1998.8,297.0 1999.9,297.0 2001.1,297.0 2002.3,297.0 2003.4,297.0 2004.6,297.0 2005.8,297.0 2009.8,297.0 2013.9,297.0 2018.0,297.0 2022.1,297.0 2026.2,297.0 2030.2,297.0 2034.3,297.0 2038.4,297.0 2042.5,297.0 2046.6,297.0 2050.6,297.0 2054.7,297.0 2058.8,297.0 2062.9,297.0 2067.0,297.0 2071.0,297.0 2075.1,297.0 2079.2,297.0 2083.3,297.0 2087.4,297.0 2091.4,297.0 2095.5,297.0 2099.6,297.0" stroke-width="2.5" stroke-linejoin="round"/>
<line x1="151.30" y1="435.50" x2="151.30" y2="689.00" stroke-width="2.5"/>
<line x1="143.30" y1="681.50" x2="397.30" y2="681.50" stroke-width="2.2"/>
<line x1="143.30" y1="620.23" x2="151.30" y2="620.23" stroke-width="1.9"/>
<line x1="143.30" y1="558.95" x2="151.30" y2="558.95" stroke-width="1.9"/>
<line x1="143.30" y1="497.67" x2="151.30" y2="497.67" stroke-width="1.9"/>
<line x1="143.30" y1="436.40" x2="151.30" y2="436.40" stroke-width="1.9"/>
<line x1="233.00" y1="681.50" x2="233.00" y2="689.00" stroke-width="1.9"/>
<line x1="314.70" y1="681.50" x2="314.70" y2="689.00" stroke-width="1.9"/>
<line x1="396.40" y1="681.50" x2="396.40" y2="689.00" stroke-width="1.9"/>
<polyline points="153.3,681.5 154.6,681.5 155.2,663.0 155.9,648.0 156.5,635.6 157.2,625.3 157.8,616.6 158.5,609.1 159.1,602.7 159.8,597.1 160.5,592.1 161.1,587.6 161.8,583.6 162.4,579.9 163.1,576.4 163.7,573.3 164.4,570.3 165.0,567.5 165.7,564.9 166.3,562.4 167.0,560.0 167.6,557.8 168.3,555.7 168.9,553.6 169.6,551.7 170.3,549.8 170.9,548.0 173.7,541.3 176.4,535.6 179.2,530.9 181.9,526.9 184.7,523.5 187.4,520.7 190.2,518.3 192.9,516.3 195.7,514.6 198.5,513.2 201.2,512.0 204.0,511.0 206.7,510.1 209.5,509.4 212.2,508.8 215.0,508.3 217.7,507.9 220.5,507.5 223.2,507.2 226.0,507.0 228.8,506.7 231.5,506.6 234.3,506.4 237.0,506.3 239.8,506.2 242.5,506.1 245.3,506.0 248.0,505.9 250.8,505.9 253.6,505.8 256.3,505.8 259.1,505.8 261.8,505.7 264.6,505.7 267.3,505.7 270.1,505.7 272.8,505.7 275.6,505.7 278.3,505.6 279.5,506.7 280.7,507.7 281.8,508.6 283.0,509.6 284.2,510.4 285.3,511.3 286.5,512.1 287.7,512.9 288.8,513.7 290.0,514.4 291.2,515.1 292.3,515.8 293.5,516.5 294.7,517.1 295.9,517.7 297.0,518.4 298.2,518.9 299.4,519.5 300.5,520.1 301.7,520.6 302.9,521.1 306.9,522.9 311.0,524.4 315.1,525.9 319.1,527.3 323.2,528.5 327.3,529.7 331.3,530.8 335.4,531.8 339.5,532.8 343.5,533.8 347.6,534.7 351.7,535.5 355.7,536.3 359.8,537.1 363.9,537.8 367.9,538.5 372.0,539.2 376.1,539.9 380.1,540.5 384.2,541.1 388.3,541.6 392.3,542.2 396.4,542.7" stroke-width="2.5" stroke-linejoin="round"/>
<line x1="279.16" y1="506.14" x2="279.16" y2="509.64" stroke-width="1.3"/>
<polyline points="153.3,681.5 154.6,681.5 155.2,673.6 155.9,667.3 156.5,662.2 157.2,658.0 157.8,654.4 158.5,651.3 159.1,648.5 159.8,646.0 160.5,643.7 161.1,641.5 161.8,639.5 162.4,637.5 163.1,635.6 163.7,633.8 164.4,632.0 165.0,630.3 165.7,628.6 166.3,626.9 167.0,625.3 167.6,623.7 168.3,622.2 168.9,620.6 169.6,619.1 170.3,617.6 170.9,616.2 173.7,610.3 176.4,604.8 179.2,599.7 181.9,594.9 184.7,590.4 187.4,586.3 190.2,582.4 192.9,578.7 195.7,575.4 198.5,572.2 201.2,569.2 204.0,566.5 206.7,563.9 209.5,561.5 212.2,559.3 215.0,557.2 217.7,555.2 220.5,553.4 223.2,551.7 226.0,550.1 228.8,548.6 231.5,547.2 234.3,545.9 237.0,544.7 239.8,543.6 242.5,542.6 245.3,541.6 248.0,540.7 250.8,539.8 253.6,539.0 256.3,538.3 259.1,537.6 261.8,536.9 264.6,536.3 267.3,535.7 270.1,535.2 272.8,534.7 275.6,534.3 278.3,533.8 279.5,534.3 280.7,534.7 281.8,535.1 283.0,535.5 284.2,535.9 285.3,536.3 286.5,536.7 287.7,537.1 288.8,537.5 290.0,537.8 291.2,538.2 292.3,538.5 293.5,538.9 294.7,539.2 295.9,539.6 297.0,539.9 298.2,540.2 299.4,540.5 300.5,540.8 301.7,541.2 302.9,541.5 306.9,542.5 311.0,543.4 315.1,544.3 319.1,545.1 323.2,545.9 327.3,546.7 331.3,547.4 335.4,548.0 339.5,548.7 343.5,549.3 347.6,549.9 351.7,550.4 355.7,551.0 359.8,551.5 363.9,552.0 367.9,552.4 372.0,552.9 376.1,553.3 380.1,553.7 384.2,554.1 388.3,554.5 392.3,554.9 396.4,555.3" stroke-width="2.5" stroke-linejoin="round"/>
<line x1="279.16" y1="534.33" x2="279.16" y2="537.83" stroke-width="1.3"/>
<polyline points="153.3,681.5 154.6,681.5 155.2,680.5 155.9,679.6 156.5,678.7 157.2,677.9 157.8,677.0 158.5,676.2 159.1,675.4 159.8,674.7 160.5,673.9 161.1,673.1 161.8,672.4 162.4,671.7 163.1,671.0 163.7,670.3 164.4,669.6 165.0,668.9 165.7,668.2 166.3,667.5 167.0,666.8 167.6,666.2 168.3,665.5 168.9,664.9 169.6,664.2 170.3,663.6 170.9,663.0 173.7,660.3 176.4,657.8 179.2,655.3 181.9,652.9 184.7,650.6 187.4,648.3 190.2,646.1 192.9,644.0 195.7,641.9 198.5,639.8 201.2,637.9 204.0,636.0 206.7,634.1 209.5,632.3 212.2,630.5 215.0,628.8 217.7,627.1 220.5,625.5 223.2,623.9 226.0,622.4 228.8,620.9 231.5,619.4 234.3,618.0 237.0,616.6 239.8,615.3 242.5,614.0 245.3,612.7 248.0,611.5 250.8,610.3 253.6,609.1 256.3,608.0 259.1,606.9 261.8,605.8 264.6,604.8 267.3,603.8 270.1,602.8 272.8,601.8 275.6,600.9 278.3,600.0 279.5,600.1 280.7,600.2 281.8,600.2 283.0,600.3 284.2,600.4 285.3,600.4 286.5,600.5 287.7,600.6 288.8,600.7 290.0,600.7 291.2,600.8 292.3,600.9 293.5,600.9 294.7,601.0 295.9,601.1 297.0,601.1 298.2,601.2 299.4,601.3 300.5,601.3 301.7,601.4 302.9,601.5 306.9,601.7 311.0,601.9 315.1,602.1 319.1,602.3 323.2,602.5 327.3,602.7 331.3,602.9 335.4,603.1 339.5,603.3 343.5,603.4 347.6,603.6 351.7,603.8 355.7,603.9 359.8,604.1 363.9,604.3 367.9,604.4 372.0,604.6 376.1,604.7 380.1,604.8 384.2,605.0 388.3,605.1 392.3,605.2 396.4,605.4" stroke-width="2.5" stroke-linejoin="round"/>
<line x1="279.16" y1="600.50" x2="279.16" y2="604.00" stroke-width="1.3"/>
<polyline points="153.3,681.5 154.6,681.5 155.2,681.4 155.9,681.2 156.5,681.1 157.2,680.9 157.8,680.8 158.5,680.7 159.1,680.5 159.8,680.4 160.5,680.2 161.1,680.1 161.8,680.0 162.4,679.8 163.1,679.7 163.7,679.6 164.4,679.4 165.0,679.3 165.7,679.1 166.3,679.0 167.0,678.9 167.6,678.7 168.3,678.6 168.9,678.4 169.6,678.3 170.3,678.2 170.9,678.0 173.7,677.4 176.4,676.8 179.2,676.3 181.9,675.7 184.7,675.1 187.4,674.5 190.2,673.9 192.9,673.3 195.7,672.7 198.5,672.2 201.2,671.6 204.0,671.0 206.7,670.4 209.5,669.8 212.2,669.2 215.0,668.6 217.7,668.1 220.5,667.5 223.2,666.9 226.0,666.3 228.8,665.7 231.5,665.1 234.3,664.5 237.0,663.9 239.8,663.4 242.5,662.8 245.3,662.2 248.0,661.6 250.8,661.0 253.6,660.4 256.3,659.8 259.1,659.3 261.8,658.7 264.6,658.1 267.3,657.5 270.1,656.9 272.8,656.3 275.6,655.7 278.3,655.2 279.5,655.2 280.7,655.2 281.8,655.2 283.0,655.2 284.2,655.2 285.3,655.2 286.5,655.2 287.7,655.2 288.8,655.2 290.0,655.2 291.2,655.2 292.3,655.2 293.5,655.3 294.7,655.3 295.9,655.3 297.0,655.3 298.2,655.3 299.4,655.3 300.5,655.3 301.7,655.3 302.9,655.3 306.9,655.3 311.0,655.4 315.1,655.4 319.1,655.4 323.2,655.4 327.3,655.5 331.3,655.5 335.4,655.5 339.5,655.5 343.5,655.5 347.6,655.6 351.7,655.6 355.7,655.6 359.8,655.6 363.9,655.6 367.9,655.7 372.0,655.7 376.1,655.7 380.1,655.7 384.2,655.7 388.3,655.7 392.3,655.7 396.4,655.8" stroke-width="2.5" stroke-linejoin="round"/>
<line x1="279.16" y1="655.65" x2="279.16" y2="659.15" stroke-width="1.3"/>
<polyline points="153.3,681.5 154.6,681.5 155.2,681.5 155.9,681.4 156.5,681.4 157.2,681.3 157.8,681.3 158.5,681.2 159.1,681.2 159.8,681.1 160.5,681.1 161.1,681.0 161.8,681.0 162.4,681.0 163.1,680.9 163.7,680.9 164.4,680.8 165.0,680.8 165.7,680.7 166.3,680.7 167.0,680.7 167.6,680.6 168.3,680.6 168.9,680.5 169.6,680.5 170.3,680.4 170.9,680.4 173.7,680.2 176.4,680.1 179.2,679.9 181.9,679.7 184.7,679.6 187.4,679.4 190.2,679.2 192.9,679.1 195.7,678.9 198.5,678.8 201.2,678.6 204.0,678.5 206.7,678.3 209.5,678.2 212.2,678.1 215.0,677.9 217.7,677.8 220.5,677.7 223.2,677.5 226.0,677.4 228.8,677.3 231.5,677.2 234.3,677.0 237.0,676.9 239.8,676.8 242.5,676.7 245.3,676.6 248.0,676.5 250.8,676.4 253.6,676.3 256.3,676.2 259.1,676.0 261.8,675.9 264.6,675.8 267.3,675.7 270.1,675.7 272.8,675.6 275.6,675.5 278.3,675.4 279.5,675.4 280.7,675.4 281.8,675.4 283.0,675.4 284.2,675.4 285.3,675.4 286.5,675.4 287.7,675.4 288.8,675.4 290.0,675.4 291.2,675.4 292.3,675.4 293.5,675.4 294.7,675.4 295.9,675.4 297.0,675.4 298.2,675.4 299.4,675.4 300.5,675.4 301.7,675.5 302.9,675.5 306.9,675.5 311.0,675.5 315.1,675.5 319.1,675.5 323.2,675.5 327.3,675.5 331.3,675.5 335.4,675.5 339.5,675.6 343.5,675.6 347.6,675.6 351.7,675.6 355.7,675.6 359.8,675.6 363.9,675.6 367.9,675.6 372.0,675.6 376.1,675.6 380.1,675.6 384.2,675.7 388.3,675.7 392.3,675.7 396.4,675.7" stroke-width="2.5" stroke-linejoin="round"/>
<line x1="279.16" y1="675.87" x2="279.16" y2="679.37" stroke-width="1.3"/>
<polyline points="153.3,681.5 154.6,681.5 155.2,681.5 155.9,681.5 156.5,681.5 157.2,681.5 157.8,681.4 158.5,681.4 159.1,681.4 159.8,681.4 160.5,681.4 161.1,681.4 161.8,681.4 162.4,681.4 163.1,681.4 163.7,681.3 164.4,681.3 165.0,681.3 165.7,681.3 166.3,681.3 167.0,681.3 167.6,681.3 168.3,681.3 168.9,681.3 169.6,681.2 170.3,681.2 170.9,681.2 173.7,681.2 176.4,681.1 179.2,681.1 181.9,681.1 184.7,681.0 187.4,681.0 190.2,680.9 192.9,680.9 195.7,680.9 198.5,680.8 201.2,680.8 204.0,680.7 206.7,680.7 209.5,680.7 212.2,680.6 215.0,680.6 217.7,680.6 220.5,680.5 223.2,680.5 226.0,680.5 228.8,680.4 231.5,680.4 234.3,680.4 237.0,680.4 239.8,680.3 242.5,680.3 245.3,680.3 248.0,680.2 250.8,680.2 253.6,680.2 256.3,680.2 259.1,680.1 261.8,680.1 264.6,680.1 267.3,680.1 270.1,680.0 272.8,680.0 275.6,680.0 278.3,680.0 279.5,680.0 280.7,680.0 281.8,680.0 283.0,680.0 284.2,680.0 285.3,680.0 286.5,680.0 287.7,680.0 288.8,680.0 290.0,680.0 291.2,680.0 292.3,680.0 293.5,680.0 294.7,680.0 295.9,680.0 297.0,680.0 298.2,680.0 299.4,680.0 300.5,680.0 301.7,680.0 302.9,680.0 306.9,680.0 311.0,680.0 315.1,680.0 319.1,680.0 323.2,680.0 327.3,680.0 331.3,680.0 335.4,680.0 339.5,680.0 343.5,680.0 347.6,680.0 351.7,680.0 355.7,680.0 359.8,680.0 363.9,680.0 367.9,680.0 372.0,680.0 376.1,680.0 380.1,680.0 384.2,680.0 388.3,680.0 392.3,680.0 396.4,680.0" stroke-width="2.5" stroke-linejoin="round"/>
<line x1="430.50" y1="433.50" x2="430.50" y2="686.80" stroke-width="1.7"/>
<line x1="422.50" y1="679.30" x2="676.30" y2="679.30" stroke-width="2.2"/>
<line x1="422.50" y1="618.07" x2="430.50" y2="618.07" stroke-width="1.9"/>
<line x1="422.50" y1="556.85" x2="430.50" y2="556.85" stroke-width="1.9"/>
<line x1="422.50" y1="495.62" x2="430.50" y2="495.62" stroke-width="1.9"/>
<line x1="422.50" y1="434.40" x2="430.50" y2="434.40" stroke-width="1.9"/>
<line x1="512.13" y1="679.30" x2="512.13" y2="686.80" stroke-width="1.9"/>
<line x1="593.77" y1="679.30" x2="593.77" y2="686.80" stroke-width="1.9"/>
<line x1="675.40" y1="679.30" x2="675.40" y2="686.80" stroke-width="1.9"/>
<polyline points="432.9,679.3 434.2,679.3 434.8,674.8 435.5,670.5 436.1,666.4 436.8,662.5 437.4,658.7 438.1,655.0 438.7,651.6 439.4,648.2 440.1,645.0 440.7,642.0 441.4,639.0 442.0,636.2 442.7,633.4 443.3,630.8 444.0,628.3 444.6,625.9 445.3,623.5 445.9,621.3 446.6,619.1 447.2,617.0 447.9,615.0 448.5,613.0 449.2,611.2 449.8,609.3 450.5,607.6 453.2,600.9 456.0,595.0 458.7,589.9 461.4,585.3 464.1,581.3 466.9,577.7 469.6,574.4 472.3,571.5 475.0,568.8 477.8,566.3 480.5,564.1 483.2,562.0 486.0,560.1 488.7,558.3 491.4,556.7 494.1,555.1 496.9,553.7 499.6,552.4 502.3,551.1 505.0,550.0 507.8,548.9 510.5,547.8 513.2,546.9 516.0,546.0 518.7,545.1 521.4,544.3 524.1,543.6 526.9,542.9 529.6,542.2 532.3,541.6 535.0,541.0 537.8,540.5 540.5,539.9 543.2,539.5 546.0,539.0 548.7,538.6 551.4,538.2 554.1,537.8 556.9,537.4 558.0,539.0 559.2,539.7 560.4,540.3 561.5,540.8 562.7,541.3 563.9,541.8 565.0,542.2 566.2,542.7 567.4,543.2 568.5,543.6 569.7,544.1 570.9,544.5 572.0,545.0 573.2,545.4 574.4,545.8 575.5,546.2 576.7,546.6 577.9,547.0 579.0,547.4 580.2,547.8 581.4,548.2 585.4,549.5 589.5,550.7 593.6,551.8 597.7,552.9 601.8,553.9 605.9,554.9 610.0,555.8 614.1,556.6 618.2,557.4 622.2,558.2 626.3,558.9 630.4,559.5 634.5,560.2 638.6,560.8 642.7,561.3 646.8,561.9 650.9,562.4 655.0,562.8 659.0,563.3 663.1,563.7 667.2,564.1 671.3,564.5 675.4,564.8" stroke-width="2.5" stroke-linejoin="round"/>
<line x1="557.68" y1="537.91" x2="557.68" y2="541.41" stroke-width="1.3"/>
<polyline points="432.9,679.3 434.2,679.3 434.8,678.4 435.5,677.6 436.1,676.7 436.8,675.8 437.4,675.0 438.1,674.2 438.7,673.3 439.4,672.5 440.1,671.7 440.7,670.9 441.4,670.1 442.0,669.3 442.7,668.5 443.3,667.8 444.0,667.0 444.6,666.3 445.3,665.5 445.9,664.8 446.6,664.0 447.2,663.3 447.9,662.6 448.5,661.8 449.2,661.1 449.8,660.4 450.5,659.7 453.2,656.9 456.0,654.2 458.7,651.6 461.4,649.0 464.1,646.6 466.9,644.3 469.6,642.0 472.3,639.8 475.0,637.8 477.8,635.7 480.5,633.8 483.2,631.9 486.0,630.1 488.7,628.4 491.4,626.7 494.1,625.1 496.9,623.6 499.6,622.0 502.3,620.6 505.0,619.2 507.8,617.8 510.5,616.5 513.2,615.2 516.0,614.0 518.7,612.8 521.4,611.7 524.1,610.5 526.9,609.5 529.6,608.4 532.3,607.4 535.0,606.4 537.8,605.4 540.5,604.5 543.2,603.6 546.0,602.7 548.7,601.8 551.4,601.0 554.1,600.2 556.9,599.4 558.0,599.5 559.2,599.6 560.4,599.7 561.5,599.8 562.7,599.9 563.9,599.9 565.0,600.0 566.2,600.1 567.4,600.2 568.5,600.3 569.7,600.4 570.9,600.5 572.0,600.5 573.2,600.6 574.4,600.7 575.5,600.8 576.7,600.9 577.9,600.9 579.0,601.0 580.2,601.1 581.4,601.2 585.4,601.4 589.5,601.7 593.6,601.9 597.7,602.2 601.8,602.4 605.9,602.6 610.0,602.9 614.1,603.1 618.2,603.3 622.2,603.5 626.3,603.7 630.4,603.8 634.5,604.0 638.6,604.2 642.7,604.4 646.8,604.5 650.9,604.7 655.0,604.8 659.0,605.0 663.1,605.1 667.2,605.3 671.3,605.4 675.4,605.5" stroke-width="2.5" stroke-linejoin="round"/>
<line x1="557.68" y1="599.90" x2="557.68" y2="603.40" stroke-width="1.3"/>
<polyline points="432.9,679.3 434.2,679.3 434.8,679.2 435.5,679.0 436.1,678.9 436.8,678.7 437.4,678.6 438.1,678.4 438.7,678.3 439.4,678.2 440.1,678.0 440.7,677.9 441.4,677.7 442.0,677.6 442.7,677.4 443.3,677.3 444.0,677.1 444.6,677.0 445.3,676.9 445.9,676.7 446.6,676.6 447.2,676.4 447.9,676.3 448.5,676.1 449.2,676.0 449.8,675.9 450.5,675.7 453.2,675.1 456.0,674.5 458.7,673.9 461.4,673.3 464.1,672.7 466.9,672.1 469.6,671.5 472.3,670.9 475.0,670.3 477.8,669.7 480.5,669.1 483.2,668.5 486.0,667.9 488.7,667.3 491.4,666.7 494.1,666.1 496.9,665.5 499.6,664.9 502.3,664.3 505.0,663.7 507.8,663.1 510.5,662.5 513.2,661.9 516.0,661.3 518.7,660.7 521.4,660.1 524.1,659.5 526.9,658.9 529.6,658.3 532.3,657.8 535.0,657.2 537.8,656.6 540.5,656.0 543.2,655.4 546.0,654.8 548.7,654.2 551.4,653.6 554.1,653.0 556.9,652.4 558.0,652.4 559.2,652.4 560.4,652.4 561.5,652.4 562.7,652.4 563.9,652.5 565.0,652.5 566.2,652.5 567.4,652.5 568.5,652.5 569.7,652.5 570.9,652.6 572.0,652.6 573.2,652.6 574.4,652.6 575.5,652.6 576.7,652.6 577.9,652.6 579.0,652.7 580.2,652.7 581.4,652.7 585.4,652.7 589.5,652.8 593.6,652.8 597.7,652.9 601.8,652.9 605.9,653.0 610.0,653.0 614.1,653.1 618.2,653.1 622.2,653.1 626.3,653.2 630.4,653.2 634.5,653.3 638.6,653.3 642.7,653.3 646.8,653.4 650.9,653.4 655.0,653.4 659.0,653.5 663.1,653.5 667.2,653.5 671.3,653.6 675.4,653.6" stroke-width="2.5" stroke-linejoin="round"/>
<line x1="557.68" y1="652.86" x2="557.68" y2="656.36" stroke-width="1.3"/>
<polyline points="432.9,679.3 434.2,679.3 434.8,679.2 435.5,679.2 436.1,679.1 436.8,679.1 437.4,679.0 438.1,679.0 438.7,678.9 439.4,678.9 440.1,678.8 440.7,678.8 441.4,678.7 442.0,678.7 442.7,678.6 443.3,678.6 444.0,678.5 444.6,678.5 445.3,678.4 445.9,678.4 446.6,678.3 447.2,678.3 447.9,678.2 448.5,678.2 449.2,678.1 449.8,678.1 450.5,678.1 453.2,677.9 456.0,677.7 458.7,677.5 461.4,677.3 464.1,677.1 466.9,676.9 469.6,676.7 472.3,676.6 475.0,676.4 477.8,676.2 480.5,676.1 483.2,675.9 486.0,675.7 488.7,675.6 491.4,675.4 494.1,675.3 496.9,675.1 499.6,675.0 502.3,674.8 505.0,674.7 507.8,674.5 510.5,674.4 513.2,674.3 516.0,674.1 518.7,674.0 521.4,673.9 524.1,673.8 526.9,673.6 529.6,673.5 532.3,673.4 535.0,673.3 537.8,673.1 540.5,673.0 543.2,672.9 546.0,672.8 548.7,672.7 551.4,672.6 554.1,672.5 556.9,672.4 558.0,672.4 559.2,672.4 560.4,672.4 561.5,672.4 562.7,672.4 563.9,672.4 565.0,672.4 566.2,672.4 567.4,672.4 568.5,672.4 569.7,672.5 570.9,672.5 572.0,672.5 573.2,672.5 574.4,672.5 575.5,672.5 576.7,672.5 577.9,672.5 579.0,672.5 580.2,672.5 581.4,672.5 585.4,672.5 589.5,672.6 593.6,672.6 597.7,672.6 601.8,672.6 605.9,672.6 610.0,672.6 614.1,672.7 618.2,672.7 622.2,672.7 626.3,672.7 630.4,672.7 634.5,672.7 638.6,672.8 642.7,672.8 646.8,672.8 650.9,672.8 655.0,672.8 659.0,672.8 663.1,672.8 667.2,672.8 671.3,672.9 675.4,672.9" stroke-width="2.5" stroke-linejoin="round"/>
<line x1="557.68" y1="672.88" x2="557.68" y2="676.38" stroke-width="1.3"/>
<polyline points="432.9,679.3 434.2,679.3 434.8,679.3 435.5,679.3 436.1,679.3 436.8,679.3 437.4,679.2 438.1,679.2 438.7,679.2 439.4,679.2 440.1,679.2 440.7,679.2 441.4,679.2 442.0,679.2 442.7,679.2 443.3,679.1 444.0,679.1 444.6,679.1 445.3,679.1 445.9,679.1 446.6,679.1 447.2,679.1 447.9,679.1 448.5,679.1 449.2,679.0 449.8,679.0 450.5,679.0 453.2,679.0 456.0,678.9 458.7,678.9 461.4,678.9 464.1,678.8 466.9,678.8 469.6,678.7 472.3,678.7 475.0,678.7 477.8,678.6 480.5,678.6 483.2,678.5 486.0,678.5 488.7,678.5 491.4,678.4 494.1,678.4 496.9,678.4 499.6,678.3 502.3,678.3 505.0,678.3 507.8,678.2 510.5,678.2 513.2,678.2 516.0,678.2 518.7,678.1 521.4,678.1 524.1,678.1 526.9,678.0 529.6,678.0 532.3,678.0 535.0,678.0 537.8,677.9 540.5,677.9 543.2,677.9 546.0,677.9 548.7,677.8 551.4,677.8 554.1,677.8 556.9,677.8 558.0,677.8 559.2,677.8 560.4,677.8 561.5,677.8 562.7,677.8 563.9,677.8 565.0,677.8 566.2,677.8 567.4,677.8 568.5,677.8 569.7,677.8 570.9,677.8 572.0,677.8 573.2,677.8 574.4,677.8 575.5,677.8 576.7,677.8 577.9,677.8 579.0,677.8 580.2,677.8 581.4,677.8 585.4,677.8 589.5,677.8 593.6,677.8 597.7,677.8 601.8,677.8 605.9,677.8 610.0,677.8 614.1,677.8 618.2,677.8 622.2,677.8 626.3,677.8 630.4,677.8 634.5,677.8 638.6,677.8 642.7,677.8 646.8,677.8 650.9,677.8 655.0,677.8 659.0,677.8 663.1,677.8 667.2,677.8 671.3,677.8 675.4,677.8" stroke-width="2.5" stroke-linejoin="round"/>
<line x1="715.80" y1="433.50" x2="715.80" y2="687.50" stroke-width="1.9"/>
<line x1="707.80" y1="680.00" x2="961.50" y2="680.00" stroke-width="2.2"/>
<line x1="707.80" y1="618.60" x2="715.80" y2="618.60" stroke-width="1.9"/>
<line x1="707.80" y1="557.20" x2="715.80" y2="557.20" stroke-width="1.9"/>
<line x1="707.80" y1="495.80" x2="715.80" y2="495.80" stroke-width="1.9"/>
<line x1="707.80" y1="434.40" x2="715.80" y2="434.40" stroke-width="1.9"/>
<line x1="797.40" y1="680.00" x2="797.40" y2="687.50" stroke-width="1.9"/>
<line x1="879.00" y1="680.00" x2="879.00" y2="687.50" stroke-width="1.9"/>
<line x1="960.60" y1="680.00" x2="960.60" y2="687.50" stroke-width="1.9"/>
<polyline points="719.5,680.0 720.7,680.0 721.3,658.9 722.0,640.5 722.7,624.6 723.3,610.7 724.0,598.7 724.6,588.2 725.3,579.0 725.9,571.1 726.6,564.2 727.2,558.2 727.9,552.9 728.5,548.4 729.2,544.4 729.8,540.9 730.5,537.9 731.1,535.2 731.8,532.9 732.4,530.9 733.1,529.2 733.8,527.6 734.4,526.3 735.1,525.1 735.7,524.1 736.4,523.1 737.0,522.3 739.7,519.9 742.4,518.4 745.1,517.5 747.8,516.9 750.5,516.5 753.2,516.1 756.0,515.9 758.7,515.7 761.4,515.5 764.1,515.4 766.8,515.2 769.5,515.1 772.2,515.0 774.9,514.9 777.6,514.9 780.3,514.8 783.0,514.7 785.7,514.7 788.4,514.6 791.1,514.6 793.8,514.5 796.5,514.5 799.2,514.5 801.9,514.4 804.6,514.4 807.4,514.4 810.1,514.4 812.8,514.3 815.5,514.3 818.2,514.3 820.9,514.3 823.6,514.3 826.3,514.3 829.0,514.3 831.7,514.2 834.4,514.2 837.1,514.2 839.8,514.2 842.5,514.2 843.7,518.5 844.9,522.5 846.0,526.2 847.2,529.5 848.4,532.6 849.5,535.5 850.7,538.2 851.9,540.6 853.0,542.9 854.2,545.1 855.3,547.1 856.5,549.0 857.7,550.8 858.8,552.5 860.0,554.1 861.2,555.6 862.3,557.0 863.5,558.4 864.7,559.7 865.8,560.9 867.0,562.1 871.1,565.9 875.1,569.3 879.2,572.3 883.3,575.0 887.4,577.5 891.4,579.8 895.5,581.9 899.6,583.8 903.6,585.7 907.7,587.4 911.8,589.0 915.8,590.5 919.9,591.8 924.0,593.2 928.0,594.4 932.1,595.5 936.2,596.6 940.3,597.6 944.3,598.5 948.4,599.4 952.5,600.2 956.5,601.0 960.6,601.7" stroke-width="2.5" stroke-linejoin="round"/>
<line x1="843.34" y1="514.72" x2="843.34" y2="518.22" stroke-width="1.3"/>
<polyline points="719.5,680.0 720.7,680.0 721.3,670.6 722.0,661.9 722.7,653.9 723.3,646.4 724.0,639.4 724.6,632.9 725.3,626.9 725.9,621.4 726.6,616.2 727.2,611.4 727.9,606.9 728.5,602.7 729.2,598.8 729.8,595.2 730.5,591.9 731.1,588.7 731.8,585.8 732.4,583.1 733.1,580.5 733.8,578.2 734.4,576.0 735.1,573.9 735.7,572.0 736.4,570.2 737.0,568.5 739.7,562.6 742.4,558.0 745.1,554.5 747.8,551.8 750.5,549.6 753.2,547.9 756.0,546.4 758.7,545.3 761.4,544.3 764.1,543.5 766.8,542.9 769.5,542.3 772.2,541.8 774.9,541.4 777.6,541.0 780.3,540.7 783.0,540.4 785.7,540.1 788.4,539.9 791.1,539.7 793.8,539.5 796.5,539.4 799.2,539.3 801.9,539.1 804.6,539.0 807.4,538.9 810.1,538.8 812.8,538.8 815.5,538.7 818.2,538.6 820.9,538.6 823.6,538.5 826.3,538.5 829.0,538.5 831.7,538.4 834.4,538.4 837.1,538.4 839.8,538.3 842.5,538.3 843.7,541.1 844.9,543.6 846.0,545.9 847.2,548.1 848.4,550.1 849.5,551.9 850.7,553.6 851.9,555.3 853.0,556.8 854.2,558.2 855.3,559.6 856.5,560.8 857.7,562.1 858.8,563.2 860.0,564.3 861.2,565.4 862.3,566.4 863.5,567.4 864.7,568.4 865.8,569.3 867.0,570.2 871.1,573.1 875.1,575.8 879.2,578.2 883.3,580.5 887.4,582.6 891.4,584.6 895.5,586.5 899.6,588.3 903.6,590.0 907.7,591.5 911.8,593.0 915.8,594.4 919.9,595.8 924.0,597.0 928.0,598.2 932.1,599.4 936.2,600.4 940.3,601.4 944.3,602.4 948.4,603.3 952.5,604.1 956.5,604.9 960.6,605.7" stroke-width="2.5" stroke-linejoin="round"/>
<line x1="843.34" y1="538.82" x2="843.34" y2="542.32" stroke-width="1.3"/>
<polyline points="719.5,680.0 720.7,680.0 721.3,677.7 722.0,675.5 722.7,673.4 723.3,671.2 724.0,669.2 724.6,667.2 725.3,665.2 725.9,663.3 726.6,661.4 727.2,659.6 727.9,657.8 728.5,656.1 729.2,654.4 729.8,652.7 730.5,651.1 731.1,649.5 731.8,647.9 732.4,646.4 733.1,645.0 733.8,643.5 734.4,642.1 735.1,640.7 735.7,639.4 736.4,638.1 737.0,636.8 739.7,631.8 742.4,627.2 745.1,623.1 747.8,619.3 750.5,615.9 753.2,612.8 756.0,609.9 758.7,607.3 761.4,605.0 764.1,602.8 766.8,600.8 769.5,599.0 772.2,597.3 774.9,595.8 777.6,594.4 780.3,593.1 783.0,591.8 785.7,590.7 788.4,589.7 791.1,588.7 793.8,587.8 796.5,587.0 799.2,586.2 801.9,585.4 804.6,584.7 807.4,584.1 810.1,583.5 812.8,582.9 815.5,582.3 818.2,581.8 820.9,581.3 823.6,580.8 826.3,580.3 829.0,579.8 831.7,579.4 834.4,579.0 837.1,578.6 839.8,578.2 842.5,577.8 843.7,578.4 844.9,579.0 846.0,579.7 847.2,580.3 848.4,580.9 849.5,581.5 850.7,582.1 851.9,582.6 853.0,583.2 854.2,583.8 855.3,584.4 856.5,584.9 857.7,585.5 858.8,586.0 860.0,586.6 861.2,587.1 862.3,587.6 863.5,588.2 864.7,588.7 865.8,589.2 867.0,589.7 871.1,591.4 875.1,593.1 879.2,594.7 883.3,596.2 887.4,597.7 891.4,599.2 895.5,600.5 899.6,601.8 903.6,603.1 907.7,604.3 911.8,605.5 915.8,606.6 919.9,607.7 924.0,608.8 928.0,609.8 932.1,610.8 936.2,611.7 940.3,612.6 944.3,613.4 948.4,614.3 952.5,615.1 956.5,615.8 960.6,616.6" stroke-width="2.5" stroke-linejoin="round"/>
<line x1="843.34" y1="578.27" x2="843.34" y2="581.77" stroke-width="1.3"/>
<polyline points="719.5,680.0 720.7,680.0 721.3,679.7 722.0,679.4 722.7,679.1 723.3,678.9 724.0,678.6 724.6,678.3 725.3,678.0 725.9,677.7 726.6,677.4 727.2,677.2 727.9,676.9 728.5,676.6 729.2,676.3 729.8,676.1 730.5,675.8 731.1,675.5 731.8,675.2 732.4,675.0 733.1,674.7 733.8,674.4 734.4,674.1 735.1,673.9 735.7,673.6 736.4,673.3 737.0,673.1 739.7,672.0 742.4,670.9 745.1,669.8 747.8,668.7 750.5,667.7 753.2,666.7 756.0,665.6 758.7,664.6 761.4,663.6 764.1,662.6 766.8,661.7 769.5,660.7 772.2,659.7 774.9,658.8 777.6,657.9 780.3,657.0 783.0,656.1 785.7,655.2 788.4,654.3 791.1,653.4 793.8,652.5 796.5,651.7 799.2,650.8 801.9,650.0 804.6,649.2 807.4,648.4 810.1,647.6 812.8,646.8 815.5,646.0 818.2,645.2 820.9,644.4 823.6,643.7 826.3,642.9 829.0,642.2 831.7,641.5 834.4,640.8 837.1,640.0 839.8,639.3 842.5,638.6 843.7,638.8 844.9,638.9 846.0,639.1 847.2,639.2 848.4,639.4 849.5,639.5 850.7,639.7 851.9,639.8 853.0,640.0 854.2,640.1 855.3,640.2 856.5,640.4 857.7,640.5 858.8,640.6 860.0,640.8 861.2,640.9 862.3,641.0 863.5,641.2 864.7,641.3 865.8,641.4 867.0,641.5 871.1,641.9 875.1,642.4 879.2,642.8 883.3,643.1 887.4,643.5 891.4,643.9 895.5,644.2 899.6,644.5 903.6,644.9 907.7,645.2 911.8,645.5 915.8,645.8 919.9,646.0 924.0,646.3 928.0,646.6 932.1,646.8 936.2,647.1 940.3,647.3 944.3,647.5 948.4,647.8 952.5,648.0 956.5,648.2 960.6,648.4" stroke-width="2.5" stroke-linejoin="round"/>
<line x1="843.34" y1="639.15" x2="843.34" y2="642.65" stroke-width="1.3"/>
<polyline points="719.5,680.0 720.7,680.0 721.3,679.9 722.0,679.8 722.7,679.8 723.3,679.7 724.0,679.6 724.6,679.5 725.3,679.5 725.9,679.4 726.6,679.3 727.2,679.2 727.9,679.1 728.5,679.1 729.2,679.0 729.8,678.9 730.5,678.8 731.1,678.8 731.8,678.7 732.4,678.6 733.1,678.5 733.8,678.5 734.4,678.4 735.1,678.3 735.7,678.3 736.4,678.2 737.0,678.1 739.7,677.8 742.4,677.5 745.1,677.2 747.8,677.0 750.5,676.7 753.2,676.4 756.0,676.1 758.7,675.9 761.4,675.6 764.1,675.4 766.8,675.1 769.5,674.9 772.2,674.6 774.9,674.4 777.6,674.2 780.3,673.9 783.0,673.7 785.7,673.5 788.4,673.3 791.1,673.0 793.8,672.8 796.5,672.6 799.2,672.4 801.9,672.2 804.6,672.0 807.4,671.8 810.1,671.6 812.8,671.4 815.5,671.3 818.2,671.1 820.9,670.9 823.6,670.7 826.3,670.5 829.0,670.4 831.7,670.2 834.4,670.0 837.1,669.9 839.8,669.7 842.5,669.6 843.7,669.6 844.9,669.6 846.0,669.6 847.2,669.7 848.4,669.7 849.5,669.7 850.7,669.7 851.9,669.8 853.0,669.8 854.2,669.8 855.3,669.8 856.5,669.9 857.7,669.9 858.8,669.9 860.0,669.9 861.2,669.9 862.3,670.0 863.5,670.0 864.7,670.0 865.8,670.0 867.0,670.1 871.1,670.1 875.1,670.2 879.2,670.3 883.3,670.4 887.4,670.4 891.4,670.5 895.5,670.6 899.6,670.6 903.6,670.7 907.7,670.7 911.8,670.8 915.8,670.9 919.9,670.9 924.0,671.0 928.0,671.0 932.1,671.1 936.2,671.1 940.3,671.2 944.3,671.2 948.4,671.3 952.5,671.3 956.5,671.4 960.6,671.4" stroke-width="2.5" stroke-linejoin="round"/>
<line x1="843.34" y1="670.06" x2="843.34" y2="673.56" stroke-width="1.3"/>
<polyline points="719.5,680.0 720.7,680.0 721.3,680.0 722.0,680.0 722.7,680.0 723.3,680.0 724.0,679.9 724.6,679.9 725.3,679.9 725.9,679.9 726.6,679.9 727.2,679.9 727.9,679.9 728.5,679.9 729.2,679.9 729.8,679.8 730.5,679.8 731.1,679.8 731.8,679.8 732.4,679.8 733.1,679.8 733.8,679.8 734.4,679.8 735.1,679.8 735.7,679.7 736.4,679.7 737.0,679.7 739.7,679.7 742.4,679.6 745.1,679.6 747.8,679.6 750.5,679.5 753.2,679.5 756.0,679.4 758.7,679.4 761.4,679.4 764.1,679.3 766.8,679.3 769.5,679.2 772.2,679.2 774.9,679.2 777.6,679.1 780.3,679.1 783.0,679.1 785.7,679.0 788.4,679.0 791.1,679.0 793.8,678.9 796.5,678.9 799.2,678.9 801.9,678.9 804.6,678.8 807.4,678.8 810.1,678.8 812.8,678.7 815.5,678.7 818.2,678.7 820.9,678.7 823.6,678.6 826.3,678.6 829.0,678.6 831.7,678.6 834.4,678.5 837.1,678.5 839.8,678.5 842.5,678.5 843.7,678.5 844.9,678.5 846.0,678.5 847.2,678.5 848.4,678.5 849.5,678.5 850.7,678.5 851.9,678.5 853.0,678.5 854.2,678.5 855.3,678.5 856.5,678.5 857.7,678.5 858.8,678.5 860.0,678.5 861.2,678.5 862.3,678.5 863.5,678.5 864.7,678.5 865.8,678.5 867.0,678.5 871.1,678.5 875.1,678.5 879.2,678.5 883.3,678.5 887.4,678.5 891.4,678.5 895.5,678.5 899.6,678.5 903.6,678.5 907.7,678.5 911.8,678.5 915.8,678.5 919.9,678.5 924.0,678.5 928.0,678.5 932.1,678.5 936.2,678.5 940.3,678.5 944.3,678.5 948.4,678.5 952.5,678.5 956.5,678.5 960.6,678.5" stroke-width="2.5" stroke-linejoin="round"/>
<line x1="1013.00" y1="437.80" x2="1013.00" y2="690.40" stroke-width="1.9"/>
<line x1="1005.00" y1="682.90" x2="1258.80" y2="682.90" stroke-width="2.2"/>
<line x1="1005.00" y1="621.85" x2="1013.00" y2="621.85" stroke-width="1.9"/>
<line x1="1005.00" y1="560.80" x2="1013.00" y2="560.80" stroke-width="1.9"/>
<line x1="1005.00" y1="499.75" x2="1013.00" y2="499.75" stroke-width="1.9"/>
<line x1="1005.00" y1="438.70" x2="1013.00" y2="438.70" stroke-width="1.9"/>
<line x1="1094.63" y1="682.90" x2="1094.63" y2="690.40" stroke-width="1.9"/>
<line x1="1176.27" y1="682.90" x2="1176.27" y2="690.40" stroke-width="1.9"/>
<line x1="1257.90" y1="682.90" x2="1257.90" y2="690.40" stroke-width="1.9"/>
<polyline points="1016.7,682.9 1017.9,682.9 1018.6,661.5 1019.2,642.9 1019.9,626.6 1020.5,612.3 1021.2,599.8 1021.8,588.9 1022.5,579.3 1023.1,571.0 1023.8,563.7 1024.4,557.3 1025.1,551.7 1025.7,546.8 1026.4,542.5 1027.0,538.8 1027.7,535.5 1028.3,532.6 1029.0,530.1 1029.7,527.9 1030.3,526.0 1031.0,524.3 1031.6,522.9 1032.3,521.6 1032.9,520.5 1033.6,519.5 1034.2,518.6 1036.9,516.0 1039.6,514.5 1042.3,513.6 1045.1,513.0 1047.8,512.7 1050.5,512.5 1053.2,512.3 1055.9,512.2 1058.6,512.1 1061.3,512.0 1064.0,512.0 1066.7,511.9 1069.4,511.8 1072.1,511.8 1074.8,511.7 1077.5,511.7 1080.2,511.7 1082.9,511.6 1085.6,511.6 1088.4,511.5 1091.1,511.5 1093.8,511.5 1096.5,511.4 1099.2,511.4 1101.9,511.4 1104.6,511.3 1107.3,511.3 1110.0,511.3 1112.7,511.3 1115.4,511.2 1118.1,511.2 1120.8,511.2 1123.5,511.2 1126.2,511.1 1129.0,511.1 1131.7,511.1 1134.4,511.1 1137.1,511.1 1139.8,511.0 1140.9,515.0 1142.1,518.6 1143.3,522.0 1144.4,525.2 1145.6,528.2 1146.8,531.0 1147.9,533.6 1149.1,536.0 1150.3,538.3 1151.4,540.5 1152.6,542.5 1153.8,544.4 1154.9,546.2 1156.1,547.9 1157.3,549.5 1158.4,551.0 1159.6,552.4 1160.8,553.8 1161.9,555.1 1163.1,556.3 1164.3,557.5 1168.3,561.1 1172.4,564.2 1176.5,566.8 1180.6,569.2 1184.6,571.2 1188.7,573.0 1192.8,574.6 1196.8,576.1 1200.9,577.4 1205.0,578.6 1209.0,579.8 1213.1,580.8 1217.2,581.7 1221.3,582.6 1225.3,583.4 1229.4,584.1 1233.5,584.8 1237.5,585.5 1241.6,586.1 1245.7,586.6 1249.8,587.2 1253.8,587.6 1257.9,588.1" stroke-width="2.5" stroke-linejoin="round"/>
<line x1="1140.59" y1="511.54" x2="1140.59" y2="515.04" stroke-width="1.3"/>
<polyline points="1016.7,682.9 1017.9,682.9 1018.6,672.6 1019.2,662.9 1019.9,654.0 1020.5,645.6 1021.2,637.9 1021.8,630.6 1022.5,623.9 1023.1,617.6 1023.8,611.8 1024.4,606.3 1025.1,601.3 1025.7,596.5 1026.4,592.1 1027.0,588.1 1027.7,584.2 1028.3,580.7 1029.0,577.4 1029.7,574.3 1030.3,571.4 1031.0,568.8 1031.6,566.3 1032.3,564.0 1032.9,561.8 1033.6,559.8 1034.2,557.9 1036.9,551.5 1039.6,546.6 1042.3,543.0 1045.1,540.3 1047.8,538.3 1050.5,536.8 1053.2,535.6 1055.9,534.7 1058.6,534.1 1061.3,533.6 1064.0,533.2 1066.7,532.9 1069.4,532.6 1072.1,532.4 1074.8,532.3 1077.5,532.1 1080.2,532.0 1082.9,531.9 1085.6,531.8 1088.4,531.8 1091.1,531.7 1093.8,531.6 1096.5,531.5 1099.2,531.5 1101.9,531.4 1104.6,531.4 1107.3,531.3 1110.0,531.2 1112.7,531.2 1115.4,531.1 1118.1,531.1 1120.8,531.0 1123.5,530.9 1126.2,530.9 1129.0,530.8 1131.7,530.8 1134.4,530.7 1137.1,530.6 1139.8,530.6 1140.9,533.3 1142.1,535.9 1143.3,538.2 1144.4,540.3 1145.6,542.2 1146.8,544.1 1147.9,545.7 1149.1,547.3 1150.3,548.8 1151.4,550.2 1152.6,551.5 1153.8,552.7 1154.9,553.9 1156.1,555.0 1157.3,556.1 1158.4,557.1 1159.6,558.1 1160.8,559.0 1161.9,559.9 1163.1,560.8 1164.3,561.7 1168.3,564.4 1172.4,566.9 1176.5,569.2 1180.6,571.3 1184.6,573.2 1188.7,575.0 1192.8,576.6 1196.8,578.1 1200.9,579.5 1205.0,580.8 1209.0,582.0 1213.1,583.1 1217.2,584.1 1221.3,585.1 1225.3,586.0 1229.4,586.8 1233.5,587.5 1237.5,588.2 1241.6,588.9 1245.7,589.5 1249.8,590.0 1253.8,590.5 1257.9,591.0" stroke-width="2.5" stroke-linejoin="round"/>
<line x1="1140.59" y1="531.08" x2="1140.59" y2="534.58" stroke-width="1.3"/>
<polyline points="1016.7,682.9 1017.9,682.9 1018.6,676.1 1019.2,670.7 1019.9,666.3 1020.5,662.7 1021.2,659.6 1021.8,656.9 1022.5,654.4 1023.1,652.1 1023.8,650.0 1024.4,648.0 1025.1,646.1 1025.7,644.2 1026.4,642.4 1027.0,640.7 1027.7,639.0 1028.3,637.3 1029.0,635.7 1029.7,634.2 1030.3,632.6 1031.0,631.1 1031.6,629.6 1032.3,628.2 1032.9,626.8 1033.6,625.4 1034.2,624.0 1036.9,618.7 1039.6,613.8 1042.3,609.3 1045.1,605.2 1047.8,601.4 1050.5,598.0 1053.2,594.8 1055.9,591.9 1058.6,589.2 1061.3,586.7 1064.0,584.5 1066.7,582.4 1069.4,580.5 1072.1,578.7 1074.8,577.1 1077.5,575.7 1080.2,574.3 1082.9,573.1 1085.6,571.9 1088.4,570.9 1091.1,569.9 1093.8,569.1 1096.5,568.3 1099.2,567.5 1101.9,566.8 1104.6,566.2 1107.3,565.6 1110.0,565.1 1112.7,564.6 1115.4,564.2 1118.1,563.8 1120.8,563.4 1123.5,563.1 1126.2,562.8 1129.0,562.5 1131.7,562.2 1134.4,562.0 1137.1,561.7 1139.8,561.5 1140.9,562.1 1142.1,562.7 1143.3,563.3 1144.4,563.9 1145.6,564.5 1146.8,565.0 1147.9,565.6 1149.1,566.2 1150.3,566.7 1151.4,567.3 1152.6,567.8 1153.8,568.4 1154.9,568.9 1156.1,569.4 1157.3,570.0 1158.4,570.5 1159.6,571.0 1160.8,571.5 1161.9,572.0 1163.1,572.5 1164.3,573.0 1168.3,574.7 1172.4,576.3 1176.5,577.9 1180.6,579.4 1184.6,580.9 1188.7,582.3 1192.8,583.7 1196.8,585.0 1200.9,586.3 1205.0,587.5 1209.0,588.7 1213.1,589.9 1217.2,591.0 1221.3,592.1 1225.3,593.1 1229.4,594.1 1233.5,595.1 1237.5,596.0 1241.6,597.0 1245.7,597.8 1249.8,598.7 1253.8,599.5 1257.9,600.3" stroke-width="2.5" stroke-linejoin="round"/>
<line x1="1140.59" y1="562.03" x2="1140.59" y2="565.53" stroke-width="1.3"/>
<polyline points="1016.7,682.9 1017.9,682.9 1018.6,682.4 1019.2,681.8 1019.9,681.3 1020.5,680.8 1021.2,680.3 1021.8,679.8 1022.5,679.2 1023.1,678.7 1023.8,678.2 1024.4,677.7 1025.1,677.2 1025.7,676.7 1026.4,676.3 1027.0,675.8 1027.7,675.3 1028.3,674.8 1029.0,674.3 1029.7,673.9 1030.3,673.4 1031.0,672.9 1031.6,672.5 1032.3,672.0 1032.9,671.6 1033.6,671.1 1034.2,670.7 1036.9,668.8 1039.6,667.1 1042.3,665.3 1045.1,663.7 1047.8,662.1 1050.5,660.5 1053.2,658.9 1055.9,657.5 1058.6,656.0 1061.3,654.6 1064.0,653.2 1066.7,651.9 1069.4,650.6 1072.1,649.3 1074.8,648.1 1077.5,646.9 1080.2,645.7 1082.9,644.5 1085.6,643.4 1088.4,642.3 1091.1,641.3 1093.8,640.2 1096.5,639.2 1099.2,638.2 1101.9,637.2 1104.6,636.3 1107.3,635.3 1110.0,634.4 1112.7,633.5 1115.4,632.7 1118.1,631.8 1120.8,631.0 1123.5,630.1 1126.2,629.3 1129.0,628.5 1131.7,627.8 1134.4,627.0 1137.1,626.3 1139.8,625.5 1140.9,625.7 1142.1,625.9 1143.3,626.0 1144.4,626.2 1145.6,626.4 1146.8,626.5 1147.9,626.7 1149.1,626.9 1150.3,627.0 1151.4,627.2 1152.6,627.3 1153.8,627.5 1154.9,627.6 1156.1,627.8 1157.3,627.9 1158.4,628.1 1159.6,628.2 1160.8,628.4 1161.9,628.5 1163.1,628.7 1164.3,628.8 1168.3,629.3 1172.4,629.7 1176.5,630.2 1180.6,630.6 1184.6,631.0 1188.7,631.4 1192.8,631.7 1196.8,632.1 1200.9,632.4 1205.0,632.7 1209.0,633.0 1213.1,633.3 1217.2,633.6 1221.3,633.9 1225.3,634.2 1229.4,634.4 1233.5,634.6 1237.5,634.9 1241.6,635.1 1245.7,635.3 1249.8,635.5 1253.8,635.7 1257.9,635.9" stroke-width="2.5" stroke-linejoin="round"/>
<line x1="1140.59" y1="626.01" x2="1140.59" y2="629.51" stroke-width="1.3"/>
<polyline points="1016.7,682.9 1017.9,682.9 1018.6,682.8 1019.2,682.7 1019.9,682.6 1020.5,682.4 1021.2,682.3 1021.8,682.2 1022.5,682.1 1023.1,682.0 1023.8,681.9 1024.4,681.8 1025.1,681.7 1025.7,681.6 1026.4,681.5 1027.0,681.4 1027.7,681.2 1028.3,681.1 1029.0,681.0 1029.7,680.9 1030.3,680.8 1031.0,680.7 1031.6,680.6 1032.3,680.5 1032.9,680.4 1033.6,680.3 1034.2,680.2 1036.9,679.8 1039.6,679.4 1042.3,678.9 1045.1,678.5 1047.8,678.1 1050.5,677.8 1053.2,677.4 1055.9,677.0 1058.6,676.6 1061.3,676.3 1064.0,675.9 1066.7,675.6 1069.4,675.2 1072.1,674.9 1074.8,674.5 1077.5,674.2 1080.2,673.9 1082.9,673.6 1085.6,673.2 1088.4,672.9 1091.1,672.6 1093.8,672.3 1096.5,672.0 1099.2,671.7 1101.9,671.5 1104.6,671.2 1107.3,670.9 1110.0,670.6 1112.7,670.4 1115.4,670.1 1118.1,669.9 1120.8,669.6 1123.5,669.4 1126.2,669.1 1129.0,668.9 1131.7,668.6 1134.4,668.4 1137.1,668.2 1139.8,667.9 1140.9,668.0 1142.1,668.0 1143.3,668.0 1144.4,668.0 1145.6,668.0 1146.8,668.1 1147.9,668.1 1149.1,668.1 1150.3,668.1 1151.4,668.1 1152.6,668.2 1153.8,668.2 1154.9,668.2 1156.1,668.2 1157.3,668.2 1158.4,668.3 1159.6,668.3 1160.8,668.3 1161.9,668.3 1163.1,668.3 1164.3,668.4 1168.3,668.4 1172.4,668.5 1176.5,668.5 1180.6,668.6 1184.6,668.7 1188.7,668.7 1192.8,668.8 1196.8,668.8 1200.9,668.9 1205.0,668.9 1209.0,669.0 1213.1,669.0 1217.2,669.1 1221.3,669.1 1225.3,669.2 1229.4,669.2 1233.5,669.2 1237.5,669.3 1241.6,669.3 1245.7,669.4 1249.8,669.4 1253.8,669.4 1257.9,669.5" stroke-width="2.5" stroke-linejoin="round"/>
<line x1="1140.59" y1="668.44" x2="1140.59" y2="671.94" stroke-width="1.3"/>
<polyline points="1016.7,682.9 1017.9,682.9 1018.6,682.9 1019.2,682.9 1019.9,682.8 1020.5,682.8 1021.2,682.8 1021.8,682.8 1022.5,682.8 1023.1,682.8 1023.8,682.7 1024.4,682.7 1025.1,682.7 1025.7,682.7 1026.4,682.7 1027.0,682.6 1027.7,682.6 1028.3,682.6 1029.0,682.6 1029.7,682.6 1030.3,682.6 1031.0,682.5 1031.6,682.5 1032.3,682.5 1032.9,682.5 1033.6,682.5 1034.2,682.5 1036.9,682.4 1039.6,682.3 1042.3,682.3 1045.1,682.2 1047.8,682.1 1050.5,682.1 1053.2,682.0 1055.9,681.9 1058.6,681.9 1061.3,681.8 1064.0,681.8 1066.7,681.7 1069.4,681.6 1072.1,681.6 1074.8,681.5 1077.5,681.5 1080.2,681.4 1082.9,681.4 1085.6,681.3 1088.4,681.3 1091.1,681.2 1093.8,681.2 1096.5,681.1 1099.2,681.1 1101.9,681.0 1104.6,681.0 1107.3,680.9 1110.0,680.9 1112.7,680.9 1115.4,680.8 1118.1,680.8 1120.8,680.7 1123.5,680.7 1126.2,680.6 1129.0,680.6 1131.7,680.6 1134.4,680.5 1137.1,680.5 1139.8,680.5 1140.9,680.5 1142.1,680.5 1143.3,680.5 1144.4,680.5 1145.6,680.5 1146.8,680.5 1147.9,680.5 1149.1,680.5 1150.3,680.5 1151.4,680.5 1152.6,680.5 1153.8,680.5 1154.9,680.5 1156.1,680.5 1157.3,680.5 1158.4,680.5 1159.6,680.5 1160.8,680.5 1161.9,680.5 1163.1,680.5 1164.3,680.5 1168.3,680.5 1172.4,680.5 1176.5,680.5 1180.6,680.5 1184.6,680.5 1188.7,680.5 1192.8,680.5 1196.8,680.5 1200.9,680.5 1205.0,680.5 1209.0,680.5 1213.1,680.5 1217.2,680.5 1221.3,680.5 1225.3,680.5 1229.4,680.5 1233.5,680.5 1237.5,680.5 1241.6,680.5 1245.7,680.5 1249.8,680.5 1253.8,680.5 1257.9,680.5" stroke-width="2.5" stroke-linejoin="round"/>
<line x1="1294.30" y1="437.80" x2="1294.30" y2="691.10" stroke-width="1.9"/>
<line x1="1286.30" y1="683.60" x2="1539.80" y2="683.60" stroke-width="2.2"/>
<line x1="1286.30" y1="622.38" x2="1294.30" y2="622.38" stroke-width="1.9"/>
<line x1="1286.30" y1="561.15" x2="1294.30" y2="561.15" stroke-width="1.9"/>
<line x1="1286.30" y1="499.93" x2="1294.30" y2="499.93" stroke-width="1.9"/>
<line x1="1286.30" y1="438.70" x2="1294.30" y2="438.70" stroke-width="1.9"/>
<line x1="1375.83" y1="683.60" x2="1375.83" y2="691.10" stroke-width="1.9"/>
<line x1="1457.37" y1="683.60" x2="1457.37" y2="691.10" stroke-width="1.9"/>
<line x1="1538.90" y1="683.60" x2="1538.90" y2="691.10" stroke-width="1.9"/>
<polyline points="1298.0,683.6 1299.2,683.6 1299.8,682.9 1300.5,682.3 1301.1,681.6 1301.8,681.0 1302.5,680.4 1303.1,679.8 1303.8,679.2 1304.4,678.6 1305.1,678.0 1305.7,677.4 1306.4,676.9 1307.0,676.3 1307.7,675.8 1308.3,675.2 1309.0,674.7 1309.6,674.2 1310.3,673.7 1310.9,673.2 1311.6,672.7 1312.2,672.2 1312.9,671.7 1313.5,671.3 1314.2,670.8 1314.8,670.3 1315.5,669.9 1318.2,668.1 1320.9,666.5 1323.6,664.9 1326.3,663.5 1329.0,662.1 1331.7,660.9 1334.4,659.7 1337.1,658.6 1339.8,657.6 1342.5,656.6 1345.2,655.7 1347.9,654.8 1350.6,654.1 1353.3,653.3 1356.0,652.6 1358.6,652.0 1361.3,651.4 1364.0,650.8 1366.7,650.3 1369.4,649.8 1372.1,649.3 1374.8,648.9 1377.5,648.5 1380.2,648.1 1382.9,647.7 1385.6,647.4 1388.3,647.1 1391.0,646.8 1393.7,646.5 1396.4,646.2 1399.1,646.0 1401.8,645.7 1404.5,645.5 1407.2,645.3 1409.9,645.1 1412.6,644.9 1415.3,644.7 1418.0,644.6 1420.7,644.4 1421.8,645.0 1423.0,645.5 1424.2,646.0 1425.3,646.5 1426.5,647.0 1427.7,647.5 1428.8,648.0 1430.0,648.5 1431.2,648.9 1432.3,649.4 1433.5,649.8 1434.7,650.2 1435.8,650.6 1437.0,651.1 1438.1,651.4 1439.3,651.8 1440.5,652.2 1441.6,652.6 1442.8,652.9 1444.0,653.3 1445.1,653.6 1449.2,654.8 1453.3,655.8 1457.4,656.8 1461.4,657.7 1465.5,658.6 1469.6,659.3 1473.7,660.1 1477.8,660.7 1481.8,661.3 1485.9,661.9 1490.0,662.5 1494.1,663.0 1498.1,663.4 1502.2,663.9 1506.3,664.3 1510.4,664.6 1514.4,665.0 1518.5,665.3 1522.6,665.7 1526.7,666.0 1530.7,666.2 1534.8,666.5 1538.9,666.8" stroke-width="2.5" stroke-linejoin="round"/>
<line x1="1421.49" y1="644.92" x2="1421.49" y2="648.42" stroke-width="1.3"/>
<polyline points="1298.0,683.6 1299.2,683.6 1299.8,683.5 1300.5,683.3 1301.1,683.2 1301.8,683.1 1302.5,682.9 1303.1,682.8 1303.8,682.7 1304.4,682.5 1305.1,682.4 1305.7,682.3 1306.4,682.2 1307.0,682.0 1307.7,681.9 1308.3,681.8 1309.0,681.7 1309.6,681.5 1310.3,681.4 1310.9,681.3 1311.6,681.2 1312.2,681.1 1312.9,680.9 1313.5,680.8 1314.2,680.7 1314.8,680.6 1315.5,680.5 1318.2,680.0 1320.9,679.5 1323.6,679.1 1326.3,678.6 1329.0,678.2 1331.7,677.8 1334.4,677.4 1337.1,677.0 1339.8,676.6 1342.5,676.2 1345.2,675.9 1347.9,675.5 1350.6,675.2 1353.3,674.8 1356.0,674.5 1358.6,674.2 1361.3,673.9 1364.0,673.5 1366.7,673.2 1369.4,673.0 1372.1,672.7 1374.8,672.4 1377.5,672.1 1380.2,671.9 1382.9,671.6 1385.6,671.3 1388.3,671.1 1391.0,670.9 1393.7,670.6 1396.4,670.4 1399.1,670.2 1401.8,670.0 1404.5,669.8 1407.2,669.6 1409.9,669.4 1412.6,669.2 1415.3,669.0 1418.0,668.8 1420.7,668.6 1421.8,668.7 1423.0,668.9 1424.2,669.0 1425.3,669.1 1426.5,669.3 1427.7,669.4 1428.8,669.5 1430.0,669.7 1431.2,669.8 1432.3,669.9 1433.5,670.0 1434.7,670.1 1435.8,670.3 1437.0,670.4 1438.1,670.5 1439.3,670.6 1440.5,670.7 1441.6,670.8 1442.8,670.9 1444.0,671.0 1445.1,671.1 1449.2,671.5 1453.3,671.8 1457.4,672.1 1461.4,672.4 1465.5,672.7 1469.6,673.0 1473.7,673.3 1477.8,673.5 1481.8,673.8 1485.9,674.0 1490.0,674.2 1494.1,674.4 1498.1,674.6 1502.2,674.8 1506.3,675.0 1510.4,675.1 1514.4,675.3 1518.5,675.4 1522.6,675.6 1526.7,675.7 1530.7,675.9 1534.8,676.0 1538.9,676.1" stroke-width="2.5" stroke-linejoin="round"/>
<line x1="1421.49" y1="669.10" x2="1421.49" y2="672.60" stroke-width="1.3"/>
<polyline points="1298.0,683.6 1299.2,683.6 1299.8,683.6 1300.5,683.5 1301.1,683.5 1301.8,683.5 1302.5,683.4 1303.1,683.4 1303.8,683.4 1304.4,683.3 1305.1,683.3 1305.7,683.3 1306.4,683.2 1307.0,683.2 1307.7,683.2 1308.3,683.2 1309.0,683.1 1309.6,683.1 1310.3,683.1 1310.9,683.0 1311.6,683.0 1312.2,683.0 1312.9,682.9 1313.5,682.9 1314.2,682.9 1314.8,682.9 1315.5,682.8 1318.2,682.7 1320.9,682.6 1323.6,682.5 1326.3,682.4 1329.0,682.2 1331.7,682.1 1334.4,682.0 1337.1,681.9 1339.8,681.8 1342.5,681.7 1345.2,681.6 1347.9,681.5 1350.6,681.4 1353.3,681.3 1356.0,681.2 1358.6,681.1 1361.3,681.0 1364.0,680.9 1366.7,680.8 1369.4,680.7 1372.1,680.7 1374.8,680.6 1377.5,680.5 1380.2,680.4 1382.9,680.3 1385.6,680.2 1388.3,680.2 1391.0,680.1 1393.7,680.0 1396.4,679.9 1399.1,679.9 1401.8,679.8 1404.5,679.7 1407.2,679.6 1409.9,679.6 1412.6,679.5 1415.3,679.4 1418.0,679.4 1420.7,679.3 1421.8,679.3 1423.0,679.4 1424.2,679.4 1425.3,679.4 1426.5,679.4 1427.7,679.4 1428.8,679.5 1430.0,679.5 1431.2,679.5 1432.3,679.5 1433.5,679.5 1434.7,679.6 1435.8,679.6 1437.0,679.6 1438.1,679.6 1439.3,679.6 1440.5,679.7 1441.6,679.7 1442.8,679.7 1444.0,679.7 1445.1,679.7 1449.2,679.8 1453.3,679.9 1457.4,679.9 1461.4,680.0 1465.5,680.0 1469.6,680.1 1473.7,680.1 1477.8,680.2 1481.8,680.2 1485.9,680.3 1490.0,680.3 1494.1,680.4 1498.1,680.4 1502.2,680.5 1506.3,680.5 1510.4,680.6 1514.4,680.6 1518.5,680.7 1522.6,680.7 1526.7,680.7 1530.7,680.8 1534.8,680.8 1538.9,680.8" stroke-width="2.5" stroke-linejoin="round"/>
<line x1="1421.49" y1="679.81" x2="1421.49" y2="683.31" stroke-width="1.3"/>
<polyline points="1298.0,683.6 1299.2,683.6 1299.8,683.6 1300.5,683.6 1301.1,683.6 1301.8,683.5 1302.5,683.5 1303.1,683.5 1303.8,683.5 1304.4,683.5 1305.1,683.5 1305.7,683.4 1306.4,683.4 1307.0,683.4 1307.7,683.4 1308.3,683.4 1309.0,683.4 1309.6,683.3 1310.3,683.3 1310.9,683.3 1311.6,683.3 1312.2,683.3 1312.9,683.3 1313.5,683.3 1314.2,683.2 1314.8,683.2 1315.5,683.2 1318.2,683.2 1320.9,683.1 1323.6,683.0 1326.3,683.0 1329.0,682.9 1331.7,682.9 1334.4,682.8 1337.1,682.8 1339.8,682.7 1342.5,682.6 1345.2,682.6 1347.9,682.5 1350.6,682.5 1353.3,682.4 1356.0,682.4 1358.6,682.4 1361.3,682.3 1364.0,682.3 1366.7,682.2 1369.4,682.2 1372.1,682.1 1374.8,682.1 1377.5,682.0 1380.2,682.0 1382.9,682.0 1385.6,681.9 1388.3,681.9 1391.0,681.8 1393.7,681.8 1396.4,681.8 1399.1,681.7 1401.8,681.7 1404.5,681.7 1407.2,681.6 1409.9,681.6 1412.6,681.6 1415.3,681.5 1418.0,681.5 1420.7,681.5 1421.8,681.5 1423.0,681.5 1424.2,681.5 1425.3,681.5 1426.5,681.5 1427.7,681.5 1428.8,681.5 1430.0,681.5 1431.2,681.5 1432.3,681.5 1433.5,681.5 1434.7,681.6 1435.8,681.6 1437.0,681.6 1438.1,681.6 1439.3,681.6 1440.5,681.6 1441.6,681.6 1442.8,681.6 1444.0,681.6 1445.1,681.6 1449.2,681.6 1453.3,681.7 1457.4,681.7 1461.4,681.7 1465.5,681.7 1469.6,681.8 1473.7,681.8 1477.8,681.8 1481.8,681.8 1485.9,681.8 1490.0,681.9 1494.1,681.9 1498.1,681.9 1502.2,681.9 1506.3,681.9 1510.4,682.0 1514.4,682.0 1518.5,682.0 1522.6,682.0 1526.7,682.0 1530.7,682.0 1534.8,682.1 1538.9,682.1" stroke-width="2.5" stroke-linejoin="round"/>
<polyline points="1298.0,683.6 1299.2,683.6 1299.8,683.6 1300.5,683.6 1301.1,683.6 1301.8,683.6 1302.5,683.6 1303.1,683.6 1303.8,683.6 1304.4,683.6 1305.1,683.6 1305.7,683.6 1306.4,683.5 1307.0,683.5 1307.7,683.5 1308.3,683.5 1309.0,683.5 1309.6,683.5 1310.3,683.5 1310.9,683.5 1311.6,683.5 1312.2,683.5 1312.9,683.5 1313.5,683.5 1314.2,683.5 1314.8,683.5 1315.5,683.5 1318.2,683.5 1320.9,683.5 1323.6,683.4 1326.3,683.4 1329.0,683.4 1331.7,683.4 1334.4,683.4 1337.1,683.4 1339.8,683.3 1342.5,683.3 1345.2,683.3 1347.9,683.3 1350.6,683.3 1353.3,683.3 1356.0,683.3 1358.6,683.2 1361.3,683.2 1364.0,683.2 1366.7,683.2 1369.4,683.2 1372.1,683.2 1374.8,683.2 1377.5,683.2 1380.2,683.1 1382.9,683.1 1385.6,683.1 1388.3,683.1 1391.0,683.1 1393.7,683.1 1396.4,683.1 1399.1,683.1 1401.8,683.1 1404.5,683.0 1407.2,683.0 1409.9,683.0 1412.6,683.0 1415.3,683.0 1418.0,683.0 1420.7,683.0 1421.8,683.0 1423.0,683.0 1424.2,683.0 1425.3,683.0 1426.5,683.0 1427.7,683.0 1428.8,683.0 1430.0,683.0 1431.2,683.0 1432.3,683.0 1433.5,683.0 1434.7,683.0 1435.8,683.0 1437.0,683.0 1438.1,683.0 1439.3,683.0 1440.5,683.0 1441.6,683.0 1442.8,683.0 1444.0,683.0 1445.1,683.0 1449.2,683.0 1453.3,683.0 1457.4,683.0 1461.4,683.0 1465.5,683.0 1469.6,683.0 1473.7,683.0 1477.8,683.0 1481.8,683.0 1485.9,683.0 1490.0,683.0 1494.1,683.0 1498.1,683.0 1502.2,683.0 1506.3,683.0 1510.4,683.0 1514.4,683.0 1518.5,683.0 1522.6,683.0 1526.7,683.0 1530.7,683.0 1534.8,683.0 1538.9,683.0" stroke-width="2.5" stroke-linejoin="round"/>
<line x1="1571.40" y1="434.90" x2="1571.40" y2="689.40" stroke-width="2.5"/>
<line x1="1563.40" y1="681.90" x2="1817.20" y2="681.90" stroke-width="2.2"/>
<line x1="1563.40" y1="620.38" x2="1571.40" y2="620.38" stroke-width="1.9"/>
<line x1="1563.40" y1="558.85" x2="1571.40" y2="558.85" stroke-width="1.9"/>
<line x1="1563.40" y1="497.32" x2="1571.40" y2="497.32" stroke-width="1.9"/>
<line x1="1563.40" y1="435.80" x2="1571.40" y2="435.80" stroke-width="1.9"/>
<line x1="1653.03" y1="681.90" x2="1653.03" y2="689.40" stroke-width="1.9"/>
<line x1="1734.67" y1="681.90" x2="1734.67" y2="689.40" stroke-width="1.9"/>
<line x1="1816.30" y1="681.90" x2="1816.30" y2="689.40" stroke-width="1.9"/>
<polyline points="1574.5,681.9 1575.7,681.9 1576.4,678.4 1577.0,675.5 1577.7,673.1 1578.3,671.1 1579.0,669.3 1579.6,667.9 1580.3,666.7 1581.0,665.7 1581.6,664.8 1582.3,664.1 1582.9,663.5 1583.6,663.0 1584.2,662.6 1584.9,662.3 1585.5,662.0 1586.2,661.7 1586.8,661.5 1587.5,661.3 1588.1,661.2 1588.8,661.0 1589.4,660.9 1590.1,660.8 1590.7,660.8 1591.4,660.7 1592.1,660.6 1594.8,660.5 1597.5,660.4 1600.2,660.3 1602.9,660.3 1605.7,660.3 1608.4,660.2 1611.1,660.2 1613.8,660.2 1616.5,660.2 1619.3,660.2 1622.0,660.1 1624.7,660.1 1627.4,660.1 1630.1,660.1 1632.9,660.1 1635.6,660.0 1638.3,660.0 1641.0,660.0 1643.8,660.0 1646.5,660.0 1649.2,660.0 1651.9,660.0 1654.6,659.9 1657.4,659.9 1660.1,659.9 1662.8,659.9 1665.5,659.9 1668.2,659.9 1671.0,659.9 1673.7,659.8 1676.4,659.8 1679.1,659.8 1681.8,659.8 1684.6,659.8 1687.3,659.8 1690.0,659.8 1692.7,659.8 1695.5,659.8 1698.2,659.8 1699.3,664.8 1700.5,668.7 1701.7,671.6 1702.8,673.9 1704.0,675.6 1705.2,676.9 1706.3,678.0 1707.5,678.7 1708.7,679.3 1709.8,679.8 1711.0,680.1 1712.2,680.4 1713.3,680.6 1714.5,680.8 1715.7,680.9 1716.8,681.0 1718.0,681.1 1719.2,681.2 1720.3,681.2 1721.5,681.3 1722.7,681.3 1726.7,681.4 1730.8,681.5 1734.9,681.5 1739.0,681.5 1743.0,681.6 1747.1,681.6 1751.2,681.6 1755.2,681.7 1759.3,681.7 1763.4,681.7 1767.4,681.7 1771.5,681.8 1775.6,681.8 1779.7,681.8 1783.7,681.8 1787.8,681.8 1791.9,681.8 1795.9,681.8 1800.0,681.9 1804.1,681.9 1808.2,681.9 1812.2,681.9 1816.3,681.9" stroke-width="2.5" stroke-linejoin="round"/>
<polyline points="1574.5,681.9 1575.7,681.9 1576.4,681.0 1577.0,680.3 1577.7,679.7 1578.3,679.3 1579.0,678.9 1579.6,678.6 1580.3,678.3 1581.0,678.1 1581.6,677.9 1582.3,677.8 1582.9,677.6 1583.6,677.5 1584.2,677.4 1584.9,677.3 1585.5,677.3 1586.2,677.2 1586.8,677.2 1587.5,677.1 1588.1,677.1 1588.8,677.0 1589.4,677.0 1590.1,677.0 1590.7,677.0 1591.4,676.9 1592.1,676.9 1594.8,676.8 1597.5,676.7 1600.2,676.6 1602.9,676.6 1605.7,676.5 1608.4,676.5 1611.1,676.4 1613.8,676.4 1616.5,676.3 1619.3,676.3 1622.0,676.2 1624.7,676.2 1627.4,676.1 1630.1,676.1 1632.9,676.1 1635.6,676.1 1638.3,676.0 1641.0,676.0 1643.8,676.0 1646.5,676.0 1649.2,675.9 1651.9,675.9 1654.6,675.9 1657.4,675.9 1660.1,675.9 1662.8,675.9 1665.5,675.8 1668.2,675.8 1671.0,675.8 1673.7,675.8 1676.4,675.8 1679.1,675.8 1681.8,675.8 1684.6,675.8 1687.3,675.8 1690.0,675.8 1692.7,675.8 1695.5,675.8 1698.2,675.7 1699.3,677.2 1700.5,678.3 1701.7,679.1 1702.8,679.7 1704.0,680.2 1705.2,680.6 1706.3,680.8 1707.5,681.1 1708.7,681.2 1709.8,681.3 1711.0,681.4 1712.2,681.5 1713.3,681.6 1714.5,681.6 1715.7,681.6 1716.8,681.7 1718.0,681.7 1719.2,681.7 1720.3,681.7 1721.5,681.7 1722.7,681.7 1726.7,681.8 1730.8,681.8 1734.9,681.8 1739.0,681.8 1743.0,681.8 1747.1,681.8 1751.2,681.8 1755.2,681.8 1759.3,681.8 1763.4,681.8 1767.4,681.8 1771.5,681.8 1775.6,681.9 1779.7,681.9 1783.7,681.9 1787.8,681.9 1791.9,681.9 1795.9,681.9 1800.0,681.9 1804.1,681.9 1808.2,681.9 1812.2,681.9 1816.3,681.9" stroke-width="2.5" stroke-linejoin="round"/>
<polyline points="1574.5,681.9 1575.7,681.9 1576.4,681.7 1577.0,681.5 1577.7,681.3 1578.3,681.2 1579.0,681.0 1579.6,680.9 1580.3,680.8 1581.0,680.7 1581.6,680.7 1582.3,680.6 1582.9,680.5 1583.6,680.5 1584.2,680.4 1584.9,680.4 1585.5,680.3 1586.2,680.3 1586.8,680.3 1587.5,680.3 1588.1,680.2 1588.8,680.2 1589.4,680.2 1590.1,680.2 1590.7,680.2 1591.4,680.1 1592.1,680.1 1594.8,680.1 1597.5,680.1 1600.2,680.1 1602.9,680.1 1605.7,680.1 1608.4,680.1 1611.1,680.1 1613.8,680.1 1616.5,680.1 1619.3,680.1 1622.0,680.1 1624.7,680.1 1627.4,680.1 1630.1,680.1 1632.9,680.1 1635.6,680.1 1638.3,680.1 1641.0,680.1 1643.8,680.1 1646.5,680.1 1649.2,680.1 1651.9,680.1 1654.6,680.1 1657.4,680.1 1660.1,680.1 1662.8,680.1 1665.5,680.1 1668.2,680.1 1671.0,680.1 1673.7,680.1 1676.4,680.1 1679.1,680.1 1681.8,680.1 1684.6,680.1 1687.3,680.1 1690.0,680.1 1692.7,680.1 1695.5,680.1 1698.2,680.1 1699.3,680.4 1700.5,680.7 1701.7,681.0 1702.8,681.2 1704.0,681.3 1705.2,681.4 1706.3,681.5 1707.5,681.6 1708.7,681.7 1709.8,681.7 1711.0,681.8 1712.2,681.8 1713.3,681.8 1714.5,681.8 1715.7,681.8 1716.8,681.9 1718.0,681.9 1719.2,681.9 1720.3,681.9 1721.5,681.9 1722.7,681.9 1726.7,681.9 1730.8,681.9 1734.9,681.9 1739.0,681.9 1743.0,681.9 1747.1,681.9 1751.2,681.9 1755.2,681.9 1759.3,681.9 1763.4,681.9 1767.4,681.9 1771.5,681.9 1775.6,681.9 1779.7,681.9 1783.7,681.9 1787.8,681.9 1791.9,681.9 1795.9,681.9 1800.0,681.9 1804.1,681.9 1808.2,681.9 1812.2,681.9 1816.3,681.9" stroke-width="2.5" stroke-linejoin="round"/>
</g>
<g id="panel-a-text" fill="#000" font-family="Liberation Sans, Arial, Helvetica, sans-serif">
<text transform="matrix(0.9195 0 0 1 238.64 57.60)" font-size="34.40" xml:space="preserve">WT m1</text>
<text transform="matrix(0.9871 0 0 1 138.54 345.70)" font-size="42.00" xml:space="preserve">0</text>
<text transform="matrix(1.0021 0 0 1 185.10 345.70)" font-size="42.00" xml:space="preserve">200</text>
<text transform="matrix(0.9997 0 0 1 269.36 345.70)" font-size="42.00" xml:space="preserve">400</text>
<text transform="matrix(0.9961 0 0 1 344.11 345.70)" font-size="42.00" xml:space="preserve">600</text>
<text transform="matrix(0.9912 0 0 1 211.55 390.40)" font-size="43.00" xml:space="preserve">Time (s)</text>
<text transform="matrix(0.9450 0 0 1 480.90 57.10)" font-size="34.40" xml:space="preserve">FW-32 m1</text>
<text transform="matrix(0.9921 0 0 1 418.33 346.30)" font-size="42.00" xml:space="preserve">0</text>
<text transform="matrix(1.0006 0 0 1 465.40 346.30)" font-size="42.00" xml:space="preserve">200</text>
<text transform="matrix(0.9997 0 0 1 549.66 346.30)" font-size="42.00" xml:space="preserve">400</text>
<text transform="matrix(0.9976 0 0 1 624.01 346.30)" font-size="42.00" xml:space="preserve">600</text>
<text transform="matrix(0.9912 0 0 1 494.45 390.70)" font-size="43.00" xml:space="preserve">Time (s)</text>
<text transform="matrix(0.9576 0 0 1 744.85 54.20)" font-size="34.40" xml:space="preserve">CDR-Y96A m1</text>
<text transform="matrix(0.9921 0 0 1 706.08 348.20)" font-size="42.00" xml:space="preserve">0</text>
<text transform="matrix(1.0006 0 0 1 752.00 348.20)" font-size="42.00" xml:space="preserve">200</text>
<text transform="matrix(0.9997 0 0 1 837.36 348.20)" font-size="42.00" xml:space="preserve">400</text>
<text transform="matrix(0.9976 0 0 1 911.61 348.20)" font-size="42.00" xml:space="preserve">600</text>
<text transform="matrix(0.9912 0 0 1 785.15 390.60)" font-size="43.00" xml:space="preserve">Time (s)</text>
<text transform="matrix(0.9444 0 0 1 1057.40 56.80)" font-size="34.40" xml:space="preserve">FW-12 m1</text>
<text transform="matrix(0.9921 0 0 1 1000.83 348.20)" font-size="42.00" xml:space="preserve">0</text>
<text transform="matrix(1.0006 0 0 1 1046.60 348.20)" font-size="42.00" xml:space="preserve">200</text>
<text transform="matrix(0.9997 0 0 1 1133.26 348.20)" font-size="42.00" xml:space="preserve">400</text>
<text transform="matrix(0.9976 0 0 1 1206.81 348.20)" font-size="42.00" xml:space="preserve">600</text>
<text transform="matrix(0.9912 0 0 1 1066.05 390.60)" font-size="43.00" xml:space="preserve">Time (s)</text>
<text transform="matrix(0.9482 0 0 1 1346.99 57.30)" font-size="34.40" xml:space="preserve">FW-17 m1</text>
<text transform="matrix(0.9921 0 0 1 1281.58 349.60)" font-size="42.00" xml:space="preserve">0</text>
<text transform="matrix(1.0006 0 0 1 1327.30 349.60)" font-size="42.00" xml:space="preserve">200</text>
<text transform="matrix(0.9997 0 0 1 1413.06 349.60)" font-size="42.00" xml:space="preserve">400</text>
<text transform="matrix(0.9976 0 0 1 1487.61 349.60)" font-size="42.00" xml:space="preserve">600</text>
<text transform="matrix(0.9912 0 0 1 1365.05 390.20)" font-size="43.00" xml:space="preserve">Time (s)</text>
<text transform="matrix(0.9482 0 0 1 1629.79 56.80)" font-size="34.40" xml:space="preserve">FW-22 m1</text>
<text transform="matrix(0.9921 0 0 1 1560.83 349.60)" font-size="42.00" xml:space="preserve">0</text>
<text transform="matrix(1.0006 0 0 1 1607.20 349.60)" font-size="42.00" xml:space="preserve">200</text>
<text transform="matrix(0.9997 0 0 1 1693.26 349.60)" font-size="42.00" xml:space="preserve">400</text>
<text transform="matrix(0.9976 0 0 1 1766.81 349.60)" font-size="42.00" xml:space="preserve">600</text>
<text transform="matrix(0.9912 0 0 1 1645.35 390.20)" font-size="43.00" xml:space="preserve">Time (s)</text>
<text transform="matrix(0.9421 0 0 1 1906.91 62.60)" font-size="34.40" xml:space="preserve">FW-9 m1</text>
<text transform="matrix(0.9276 0 0 1 1847.14 357.20)" font-size="42.00" xml:space="preserve">0</text>
<text transform="matrix(0.9991 0 0 1 1891.70 357.20)" font-size="42.00" xml:space="preserve">200</text>
<text transform="matrix(0.9849 0 0 1 1977.07 357.20)" font-size="42.00" xml:space="preserve">400</text>
<text transform="matrix(0.9825 0 0 1 2052.24 357.20)" font-size="42.00" xml:space="preserve">600</text>
<text transform="matrix(0.9945 0 0 1 1918.94 404.80)" font-size="43.00" xml:space="preserve">Time (s)</text>
<text transform="matrix(1.0093 0 0 1 157.36 452.50)" font-size="34.40" xml:space="preserve">CDR-</text>
<text transform="matrix(0.9551 0 0 1 158.28 492.60)" font-size="34.40" xml:space="preserve">Y102A/R104A m1</text>
<text transform="matrix(0.9921 0 0 1 141.08 730.60)" font-size="42.00" xml:space="preserve">0</text>
<text transform="matrix(1.0006 0 0 1 186.40 730.60)" font-size="42.00" xml:space="preserve">200</text>
<text transform="matrix(0.9997 0 0 1 273.06 730.60)" font-size="42.00" xml:space="preserve">400</text>
<text transform="matrix(0.9976 0 0 1 346.91 730.60)" font-size="42.00" xml:space="preserve">600</text>
<text transform="matrix(0.9912 0 0 1 215.15 774.70)" font-size="43.00" xml:space="preserve">Time (s)</text>
<text transform="matrix(0.9392 0 0 1 477.92 458.00)" font-size="34.40" xml:space="preserve">FW-16 m1</text>
<text transform="matrix(0.9921 0 0 1 420.83 731.20)" font-size="42.00" xml:space="preserve">0</text>
<text transform="matrix(1.0006 0 0 1 466.60 731.20)" font-size="42.00" xml:space="preserve">200</text>
<text transform="matrix(0.9997 0 0 1 552.66 731.20)" font-size="42.00" xml:space="preserve">400</text>
<text transform="matrix(0.9976 0 0 1 626.81 731.20)" font-size="42.00" xml:space="preserve">600</text>
<text transform="matrix(0.9912 0 0 1 496.05 774.70)" font-size="43.00" xml:space="preserve">Time (s)</text>
<text transform="matrix(1.0081 0 0 1 731.47 451.30)" font-size="34.40" xml:space="preserve">CDR-</text>
<text transform="matrix(0.9185 0 0 1 732.41 490.80)" font-size="34.40" xml:space="preserve">Y102A/Y32A  m1</text>
<text transform="matrix(0.9921 0 0 1 710.43 733.30)" font-size="42.00" xml:space="preserve">0</text>
<text transform="matrix(1.0006 0 0 1 756.40 733.30)" font-size="42.00" xml:space="preserve">200</text>
<text transform="matrix(0.9997 0 0 1 841.76 733.30)" font-size="42.00" xml:space="preserve">400</text>
<text transform="matrix(0.9976 0 0 1 915.91 733.30)" font-size="42.00" xml:space="preserve">600</text>
<text transform="matrix(0.9912 0 0 1 788.45 775.00)" font-size="43.00" xml:space="preserve">Time (s)</text>
<text transform="matrix(1.0081 0 0 1 1019.67 454.00)" font-size="34.40" xml:space="preserve">CDR-</text>
<text transform="matrix(0.9243 0 0 1 1020.61 494.10)" font-size="34.40" xml:space="preserve">Y102A/Y50A  m1</text>
<text transform="matrix(0.9921 0 0 1 1003.78 733.90)" font-size="42.00" xml:space="preserve">0</text>
<text transform="matrix(1.0006 0 0 1 1050.60 733.90)" font-size="42.00" xml:space="preserve">200</text>
<text transform="matrix(0.9997 0 0 1 1135.96 733.90)" font-size="42.00" xml:space="preserve">400</text>
<text transform="matrix(0.9976 0 0 1 1210.21 733.90)" font-size="42.00" xml:space="preserve">600</text>
<text transform="matrix(0.9912 0 0 1 1069.35 775.00)" font-size="43.00" xml:space="preserve">Time (s)</text>
<text transform="matrix(1.0057 0 0 1 1309.57 456.40)" font-size="34.40" xml:space="preserve">CDR-</text>
<text transform="matrix(0.9124 0 0 1 1310.52 496.40)" font-size="34.40" xml:space="preserve">Y32A/Y96A  m1</text>
<text transform="matrix(0.9921 0 0 1 1283.38 734.60)" font-size="42.00" xml:space="preserve">0</text>
<text transform="matrix(1.0006 0 0 1 1329.70 734.60)" font-size="42.00" xml:space="preserve">200</text>
<text transform="matrix(0.9997 0 0 1 1415.76 734.60)" font-size="42.00" xml:space="preserve">400</text>
<text transform="matrix(0.9976 0 0 1 1490.21 734.60)" font-size="42.00" xml:space="preserve">600</text>
<text transform="matrix(0.9912 0 0 1 1366.75 775.00)" font-size="43.00" xml:space="preserve">Time (s)</text>
<text transform="matrix(1.0093 0 0 1 1593.76 454.90)" font-size="34.40" xml:space="preserve">CDR-</text>
<text transform="matrix(0.9293 0 0 1 1594.70 494.90)" font-size="34.40" xml:space="preserve">Y102A/Y32A/Y96A  m1</text>
<text transform="matrix(0.9921 0 0 1 1561.68 734.60)" font-size="42.00" xml:space="preserve">0</text>
<text transform="matrix(1.0006 0 0 1 1608.90 734.60)" font-size="42.00" xml:space="preserve">200</text>
<text transform="matrix(0.9997 0 0 1 1695.66 734.60)" font-size="42.00" xml:space="preserve">400</text>
<text transform="matrix(0.9976 0 0 1 1770.21 734.60)" font-size="42.00" xml:space="preserve">600</text>
<text transform="matrix(0.9912 0 0 1 1649.35 775.00)" font-size="43.00" xml:space="preserve">Time (s)</text>
<text transform="matrix(0.9954 0 0 1 63.33 61.18)" font-size="41.83" xml:space="preserve">800</text>
<text transform="matrix(0.9788 0 0 1 63.11 117.37)" font-size="42.68" xml:space="preserve">600</text>
<text transform="matrix(0.9734 0 0 1 64.38 178.48)" font-size="42.11" xml:space="preserve">400</text>
<text transform="matrix(0.9919 0 0 1 63.11 240.28)" font-size="42.11" xml:space="preserve">200</text>
<text transform="matrix(1.0438 0 0 1 107.74 302.08)" font-size="42.11" xml:space="preserve">0</text>
<text transform="translate(41.60 197.48) rotate(-90) scale(0.9767 1)" font-size="43.27">RU</text>
<text transform="matrix(0.9888 0 0 1 61.73 452.18)" font-size="42.11" xml:space="preserve">800</text>
<text transform="matrix(0.9919 0 0 1 61.51 508.78)" font-size="42.11" xml:space="preserve">600</text>
<text transform="matrix(0.9734 0 0 1 62.78 568.98)" font-size="42.11" xml:space="preserve">400</text>
<text transform="matrix(0.9919 0 0 1 61.51 630.88)" font-size="42.11" xml:space="preserve">200</text>
<text transform="matrix(0.9894 0 0 1 105.93 692.88)" font-size="42.11" xml:space="preserve">0</text>
<text transform="translate(45.10 567.66) rotate(-90) scale(0.9617 1)" font-size="43.70">RU</text>
</g>
<g id="panel-labels" fill="#000" font-family="Liberation Sans, Arial, Helvetica, sans-serif">
<text transform="matrix(0.9207 0 0 1 10.51 31.00)" font-size="54.00" font-weight="bold" xml:space="preserve">a</text>
<text transform="matrix(1.0153 0 0 1 10.27 886.50)" font-size="55.00" font-weight="bold" xml:space="preserve">b</text>
<text transform="matrix(1.0389 0 0 1 -0.46 1741.40)" font-size="52.00" font-weight="bold" xml:space="preserve">c</text>
</g>
<g id="panel-b" fill="#000" stroke="none" font-family="Liberation Sans, Arial, Helvetica, sans-serif">
<rect x="94.8" y="891.00" width="1503.6" height="3.2"/>
<rect x="94.8" y="945.00" width="1503.6" height="3.2"/>
<rect x="94.8" y="1624.60" width="1503.6" height="3.2"/>
<text transform="matrix(0.9741 0 0 1 359.29 934.70)" font-size="35.50" font-weight="bold" xml:space="preserve">Antibody</text>
<text transform="matrix(1.0509 0 0 1 800.79 934.70)" font-size="35.50" font-weight="bold" xml:space="preserve">ka (1/Ms)</text>
<text transform="matrix(1.0152 0 0 1 1022.48 934.70)" font-size="35.50" font-weight="bold" xml:space="preserve">kd (1/s)</text>
<text transform="matrix(0.9990 0 0 1 1213.04 934.70)" font-size="35.50" font-weight="bold" xml:space="preserve">KD (M)</text>
<text transform="matrix(0.9380 0 0 1 1380.94 934.70)" font-size="35.50" font-weight="bold" xml:space="preserve">Fold change</text>
<text transform="matrix(1.0204 0 0 1 273.96 986.10)" font-size="35.00" xml:space="preserve">ChiLob 7/4 m1 (WT)</text>
<text transform="matrix(0.9940 0 0 1 806.20 986.10)" font-size="35.00" xml:space="preserve">4.09E+04</text>
<text transform="matrix(1.0150 0 0 1 1013.09 986.10)" font-size="35.00" xml:space="preserve">1.69E-04</text>
<text transform="matrix(1.0150 0 0 1 1198.47 986.10)" font-size="35.00" xml:space="preserve">5.22E-09</text>
<text transform="matrix(1.0572 0 0 1 1442.77 986.10)" font-size="35.00" xml:space="preserve">1.00</text>
<text transform="matrix(1.0279 0 0 1 350.22 1038.27)" font-size="35.00" xml:space="preserve">FW-32 m1</text>
<text transform="matrix(0.9940 0 0 1 805.86 1038.27)" font-size="35.00" xml:space="preserve">5.31E+04</text>
<text transform="matrix(1.0150 0 0 1 1013.53 1038.27)" font-size="35.00" xml:space="preserve">7.86E-04</text>
<text transform="matrix(1.0150 0 0 1 1197.76 1038.27)" font-size="35.00" xml:space="preserve">1.48E-08</text>
<text transform="matrix(1.0572 0 0 1 1443.33 1038.27)" font-size="35.00" xml:space="preserve">2.83</text>
<text transform="matrix(0.9663 0 0 1 298.21 1090.44)" font-size="35.00" xml:space="preserve">CDR-Y96A (L) m1</text>
<text transform="matrix(0.9940 0 0 1 805.68 1090.44)" font-size="35.00" xml:space="preserve">2.10E+04</text>
<text transform="matrix(1.0150 0 0 1 1013.71 1090.44)" font-size="35.00" xml:space="preserve">3.58E-04</text>
<text transform="matrix(1.0150 0 0 1 1197.76 1090.44)" font-size="35.00" xml:space="preserve">1.71E-08</text>
<text transform="matrix(1.0572 0 0 1 1443.51 1090.44)" font-size="35.00" xml:space="preserve">3.28</text>
<text transform="matrix(1.0279 0 0 1 350.22 1142.61)" font-size="35.00" xml:space="preserve">FW-12 m1</text>
<text transform="matrix(0.9940 0 0 1 805.86 1142.61)" font-size="35.00" xml:space="preserve">3.83E+04</text>
<text transform="matrix(1.0150 0 0 1 1013.53 1142.61)" font-size="35.00" xml:space="preserve">7.80E-04</text>
<text transform="matrix(1.0150 0 0 1 1198.21 1142.61)" font-size="35.00" xml:space="preserve">2.03E-08</text>
<text transform="matrix(1.0572 0 0 1 1443.42 1142.61)" font-size="35.00" xml:space="preserve">3.90</text>
<text transform="matrix(1.0279 0 0 1 350.22 1194.78)" font-size="35.00" xml:space="preserve">FW-17 m1</text>
<text transform="matrix(0.9940 0 0 1 805.68 1194.78)" font-size="35.00" xml:space="preserve">2.88E+04</text>
<text transform="matrix(1.0150 0 0 1 1013.53 1194.78)" font-size="35.00" xml:space="preserve">7.19E-04</text>
<text transform="matrix(1.0150 0 0 1 1198.21 1194.78)" font-size="35.00" xml:space="preserve">2.50E-08</text>
<text transform="matrix(1.0572 0 0 1 1443.98 1194.78)" font-size="35.00" xml:space="preserve">4.79</text>
<text transform="matrix(1.0279 0 0 1 350.22 1246.95)" font-size="35.00" xml:space="preserve">FW-22 m1</text>
<text transform="matrix(0.9940 0 0 1 805.86 1246.95)" font-size="35.00" xml:space="preserve">3.10E+04</text>
<text transform="matrix(1.0150 0 0 1 1013.62 1246.95)" font-size="35.00" xml:space="preserve">8.67E-04</text>
<text transform="matrix(1.0150 0 0 1 1198.21 1246.95)" font-size="35.00" xml:space="preserve">2.82E-08</text>
<text transform="matrix(1.0572 0 0 1 1443.42 1246.95)" font-size="35.00" xml:space="preserve">5.40</text>
<text transform="matrix(1.0204 0 0 1 360.84 1299.12)" font-size="35.00" xml:space="preserve">FW-9 m1</text>
<text transform="matrix(0.9940 0 0 1 805.68 1299.12)" font-size="35.00" xml:space="preserve">2.32E+04</text>
<text transform="matrix(1.0150 0 0 1 1013.62 1299.12)" font-size="35.00" xml:space="preserve">8.01E-04</text>
<text transform="matrix(1.0150 0 0 1 1198.38 1299.12)" font-size="35.00" xml:space="preserve">3.56E-08</text>
<text transform="matrix(1.0572 0 0 1 1443.42 1299.12)" font-size="35.00" xml:space="preserve">6.81</text>
<text transform="matrix(0.9892 0 0 1 253.52 1351.29)" font-size="35.00" xml:space="preserve">CDR-Y102A/R104A m1</text>
<text transform="matrix(0.9940 0 0 1 805.68 1351.29)" font-size="35.00" xml:space="preserve">7.30E+04</text>
<text transform="matrix(1.0150 0 0 1 1013.71 1351.29)" font-size="35.00" xml:space="preserve">2.84E-03</text>
<text transform="matrix(1.0150 0 0 1 1198.38 1351.29)" font-size="35.00" xml:space="preserve">3.89E-08</text>
<text transform="matrix(1.0572 0 0 1 1443.33 1351.29)" font-size="35.00" xml:space="preserve">7.45</text>
<text transform="matrix(1.0279 0 0 1 350.22 1403.46)" font-size="35.00" xml:space="preserve">FW-16 m1</text>
<text transform="matrix(0.9940 0 0 1 805.68 1403.46)" font-size="35.00" xml:space="preserve">2.44E+04</text>
<text transform="matrix(1.0150 0 0 1 1013.26 1403.46)" font-size="35.00" xml:space="preserve">1.07E-03</text>
<text transform="matrix(1.0150 0 0 1 1198.74 1403.46)" font-size="35.00" xml:space="preserve">4.40E-08</text>
<text transform="matrix(1.0572 0 0 1 1443.61 1403.46)" font-size="35.00" xml:space="preserve">8.42</text>
<text transform="matrix(0.9832 0 0 1 239.38 1455.63)" font-size="35.00" xml:space="preserve">CDR-Y102A/Y32A (L) m1</text>
<text transform="matrix(0.9940 0 0 1 805.86 1455.63)" font-size="35.00" xml:space="preserve">2.80E+05</text>
<text transform="matrix(1.0150 0 0 1 1013.44 1455.63)" font-size="35.00" xml:space="preserve">1.09E-02</text>
<text transform="matrix(1.0150 0 0 1 1198.21 1455.63)" font-size="35.00" xml:space="preserve">6.43E-08</text>
<text transform="matrix(1.0572 0 0 1 1432.60 1455.63)" font-size="35.00" xml:space="preserve">12.33</text>
<text transform="matrix(0.9832 0 0 1 239.38 1507.80)" font-size="35.00" xml:space="preserve">CDR-Y102A/Y50A (L) m1</text>
<text transform="matrix(0.9940 0 0 1 805.86 1507.80)" font-size="35.00" xml:space="preserve">2.05E+05</text>
<text transform="matrix(1.0150 0 0 1 1013.44 1507.80)" font-size="35.00" xml:space="preserve">1.47E-02</text>
<text transform="matrix(1.0150 0 0 1 1198.21 1507.80)" font-size="35.00" xml:space="preserve">7.27E-08</text>
<text transform="matrix(1.0572 0 0 1 1432.78 1507.80)" font-size="35.00" xml:space="preserve">13.92</text>
<text transform="matrix(0.9829 0 0 1 224.13 1559.97)" font-size="35.00" xml:space="preserve">CDR-Y32A (L)/Y96A (L) m1</text>
<text transform="matrix(0.9940 0 0 1 805.25 1559.97)" font-size="35.00" xml:space="preserve">1.14E+04</text>
<text transform="matrix(1.0150 0 0 1 1013.71 1559.97)" font-size="35.00" xml:space="preserve">2.99E-03</text>
<text transform="matrix(1.0150 0 0 1 1198.38 1559.97)" font-size="35.00" xml:space="preserve">2.88E-07</text>
<text transform="matrix(1.0572 0 0 1 1433.43 1559.97)" font-size="35.00" xml:space="preserve">55.12</text>
<text transform="matrix(0.9895 0 0 1 165.92 1612.14)" font-size="35.00" xml:space="preserve">CDR-Y102A/Y32A (L)/Y96A (L) m1</text>
<text transform="matrix(0.9940 0 0 1 805.42 1612.14)" font-size="35.00" xml:space="preserve">1.19E+05</text>
<text transform="matrix(1.0150 0 0 1 1013.35 1612.14)" font-size="35.00" xml:space="preserve">1.14E-01</text>
<text transform="matrix(1.0150 0 0 1 1198.47 1612.14)" font-size="35.00" xml:space="preserve">9.25E-07</text>
<text transform="matrix(1.0572 0 0 1 1422.24 1612.14)" font-size="35.00" xml:space="preserve">177.25</text>
</g>
<g id="panel-c" stroke="#000" fill="none" stroke-linejoin="miter">
<polyline points="326.6,1854.6 399.0,1849.5 471.4,1847.0 543.8,1845.7 616.2,1841.4 688.6,1837.9 761.0,1847.6 833.4,1860.0" stroke-width="4.5"/>
<polyline points="326.6,1838.2 399.0,1859.7 471.4,1969.4 543.8,2093.2 616.2,2184.9 688.6,2232.4 761.0,2250.1 833.4,2257.7" stroke-width="4.5"/>
<polyline points="326.6,1845.7 399.0,1867.3 471.4,1921.3 543.8,2042.4 616.2,2150.7 688.6,2215.3 761.0,2239.3 833.4,2252.0" stroke-width="4.5"/>
<polyline points="326.6,1878.7 399.0,1871.1 471.4,1888.4 543.8,1939.4 616.2,2044.1 688.6,2144.2 761.0,2207.7 833.4,2236.8" stroke-width="4.5"/>
<polyline points="326.6,1830.6 399.0,1839.4 471.4,1860.9 543.8,1954.6 616.2,2082.4 688.6,2177.3 761.0,2221.6 833.4,2241.8" stroke-width="4.5"/>
<polyline points="326.6,1840.7 399.0,1844.5 471.4,1855.9 543.8,1920.4 616.2,2025.4 688.6,2134.3 761.0,2198.8 833.4,2230.5" stroke-width="4.5"/>
<polyline points="326.6,1850.8 399.0,1850.8 471.4,1862.2 543.8,1926.7 616.2,2057.1 688.6,2155.8 761.0,2210.2 833.4,2235.5" stroke-width="4.5"/>
<polyline points="326.6,1823.0 399.0,1823.9 471.4,1849.5 543.8,1902.7 616.2,1997.6 688.6,2096.3 761.0,2175.4 833.4,2218.4" stroke-width="4.5"/>
<polyline points="326.6,1866.0 399.0,1874.9 471.4,1967.2 543.8,2059.6 616.2,2138.1 688.6,2192.5 761.0,2230.5 833.4,2249.4" stroke-width="4.5"/>
<polyline points="326.6,1834.4 399.0,1833.1 471.4,1850.8 543.8,1912.8 616.2,2015.3 688.6,2121.6 761.0,2193.8 833.4,2225.4" stroke-width="4.5"/>
<polyline points="326.6,1873.6 399.0,1883.7 471.4,1941.3 543.8,2019.8 616.2,2096.3 688.6,2153.3 761.0,2220.3 833.4,2243.1" stroke-width="4.5"/>
<polyline points="326.6,1859.7 399.0,1905.2 471.4,1963.4 543.8,2055.8 616.2,2121.0 688.6,2176.0 761.0,2225.4 833.4,2246.9" stroke-width="4.5"/>
<polyline points="372.3,1867.3 444.7,1850.2 517.1,1849.5 589.5,1854.0 661.9,1864.1 734.3,1907.0 806.7,1980.6 879.1,2073.7" stroke-width="4.5"/>
<polyline points="372.3,1842.0 444.7,1839.7 517.1,1835.4 589.5,1828.3 661.9,1835.2 734.3,1840.6 806.7,1876.0 879.1,1955.8" stroke-width="4.5"/>
<polygon points="336.0,1854.6 331.3,1862.7 321.9,1862.7 317.2,1854.6 321.9,1846.5 331.3,1846.5" fill="none" stroke-width="4.2"/>
<polygon points="408.4,1849.5 403.7,1857.7 394.3,1857.7 389.6,1849.5 394.3,1841.4 403.7,1841.4" fill="none" stroke-width="4.2"/>
<polygon points="480.8,1847.0 476.1,1855.2 466.7,1855.2 462.0,1847.0 466.7,1838.9 476.1,1838.9" fill="none" stroke-width="4.2"/>
<polygon points="553.2,1845.7 548.5,1853.9 539.1,1853.9 534.4,1845.7 539.1,1837.6 548.5,1837.6" fill="none" stroke-width="4.2"/>
<polygon points="625.6,1841.4 620.9,1849.6 611.5,1849.6 606.8,1841.4 611.5,1833.3 620.9,1833.3" fill="none" stroke-width="4.2"/>
<polygon points="698.0,1837.9 693.3,1846.0 683.9,1846.0 679.2,1837.9 683.9,1829.8 693.3,1829.8" fill="none" stroke-width="4.2"/>
<polygon points="770.4,1847.6 765.7,1855.8 756.3,1855.8 751.6,1847.6 756.3,1839.5 765.7,1839.5" fill="none" stroke-width="4.2"/>
<polygon points="842.8,1860.0 838.1,1868.2 828.7,1868.2 824.0,1860.0 828.7,1851.9 838.1,1851.9" fill="none" stroke-width="4.2"/>
<rect x="317.4" y="1829.0" width="18.4" height="18.4" fill="none" stroke-width="4.2"/>
<rect x="389.8" y="1850.5" width="18.4" height="18.4" fill="none" stroke-width="4.2"/>
<rect x="462.2" y="1960.2" width="18.4" height="18.4" fill="none" stroke-width="4.2"/>
<rect x="534.6" y="2084.0" width="18.4" height="18.4" fill="none" stroke-width="4.2"/>
<rect x="607.0" y="2175.7" width="18.4" height="18.4" fill="none" stroke-width="4.2"/>
<rect x="679.4" y="2223.2" width="18.4" height="18.4" fill="none" stroke-width="4.2"/>
<rect x="751.8" y="2240.9" width="18.4" height="18.4" fill="none" stroke-width="4.2"/>
<rect x="824.2" y="2248.5" width="18.4" height="18.4" fill="none" stroke-width="4.2"/>
<polygon points="326.6,1836.5 335.8,1845.7 326.6,1854.9 317.4,1845.7" fill="#000" stroke="none"/>
<polygon points="399.0,1858.1 408.2,1867.3 399.0,1876.5 389.8,1867.3" fill="#000" stroke="none"/>
<polygon points="471.4,1912.1 480.6,1921.3 471.4,1930.5 462.2,1921.3" fill="#000" stroke="none"/>
<polygon points="543.8,2033.2 553.0,2042.4 543.8,2051.6 534.6,2042.4" fill="#000" stroke="none"/>
<polygon points="616.2,2141.5 625.4,2150.7 616.2,2159.9 607.0,2150.7" fill="#000" stroke="none"/>
<polygon points="688.6,2206.1 697.8,2215.3 688.6,2224.5 679.4,2215.3" fill="#000" stroke="none"/>
<polygon points="761.0,2230.1 770.2,2239.3 761.0,2248.5 751.8,2239.3" fill="#000" stroke="none"/>
<polygon points="833.4,2242.8 842.6,2252.0 833.4,2261.2 824.2,2252.0" fill="#000" stroke="none"/>
<circle cx="326.6" cy="1878.7" r="8.0" fill="none" stroke-width="4.2"/><path d="M321.7,1873.7L331.6,1883.6M321.7,1883.6L331.6,1873.7" stroke-width="3.15"/>
<circle cx="399.0" cy="1871.1" r="8.0" fill="none" stroke-width="4.2"/><path d="M394.1,1866.1L404.0,1876.0M394.1,1876.0L404.0,1866.1" stroke-width="3.15"/>
<circle cx="471.4" cy="1888.4" r="8.0" fill="none" stroke-width="4.2"/><path d="M466.5,1883.4L476.4,1893.4M466.5,1893.4L476.4,1883.4" stroke-width="3.15"/>
<circle cx="543.8" cy="1939.4" r="8.0" fill="none" stroke-width="4.2"/><path d="M538.9,1934.4L548.8,1944.4M538.9,1944.4L548.8,1934.4" stroke-width="3.15"/>
<circle cx="616.2" cy="2044.1" r="8.0" fill="none" stroke-width="4.2"/><path d="M611.3,2039.1L621.2,2049.0M611.3,2049.0L621.2,2039.1" stroke-width="3.15"/>
<circle cx="688.6" cy="2144.2" r="8.0" fill="none" stroke-width="4.2"/><path d="M683.7,2139.2L693.6,2149.1M683.7,2149.1L693.6,2139.2" stroke-width="3.15"/>
<circle cx="761.0" cy="2207.7" r="8.0" fill="none" stroke-width="4.2"/><path d="M756.1,2202.7L766.0,2212.6M756.1,2212.6L766.0,2202.7" stroke-width="3.15"/>
<circle cx="833.4" cy="2236.8" r="8.0" fill="none" stroke-width="4.2"/><path d="M828.5,2231.8L838.4,2241.7M828.5,2241.7L838.4,2231.8" stroke-width="3.15"/>
<circle cx="326.6" cy="1830.6" r="10.7" fill="#000" stroke="none"/>
<circle cx="399.0" cy="1839.4" r="10.7" fill="#000" stroke="none"/>
<circle cx="471.4" cy="1860.9" r="10.7" fill="#000" stroke="none"/>
<circle cx="543.8" cy="1954.6" r="10.7" fill="#000" stroke="none"/>
<circle cx="616.2" cy="2082.4" r="10.7" fill="#000" stroke="none"/>
<circle cx="688.6" cy="2177.3" r="10.7" fill="#000" stroke="none"/>
<circle cx="761.0" cy="2221.6" r="10.7" fill="#000" stroke="none"/>
<circle cx="833.4" cy="2241.8" r="10.7" fill="#000" stroke="none"/>
<polygon points="326.6,1830.6 337.2,1849.3 316.0,1849.3" fill="#000" stroke="none"/>
<polygon points="399.0,1834.4 409.6,1853.1 388.4,1853.1" fill="#000" stroke="none"/>
<polygon points="471.4,1845.8 482.0,1864.5 460.8,1864.5" fill="#000" stroke="none"/>
<polygon points="543.8,1910.3 554.4,1929.0 533.2,1929.0" fill="#000" stroke="none"/>
<polygon points="616.2,2015.3 626.8,2034.0 605.6,2034.0" fill="#000" stroke="none"/>
<polygon points="688.6,2124.2 699.2,2142.9 678.0,2142.9" fill="#000" stroke="none"/>
<polygon points="761.0,2188.7 771.6,2207.4 750.4,2207.4" fill="#000" stroke="none"/>
<polygon points="833.4,2220.4 844.0,2239.0 822.8,2239.0" fill="#000" stroke="none"/>
<polygon points="326.6,1860.9 337.2,1842.2 316.0,1842.2" fill="#000" stroke="none"/>
<polygon points="399.0,1860.9 409.6,1842.2 388.4,1842.2" fill="#000" stroke="none"/>
<polygon points="471.4,1872.3 482.0,1853.6 460.8,1853.6" fill="#000" stroke="none"/>
<polygon points="543.8,1936.8 554.4,1918.2 533.2,1918.2" fill="#000" stroke="none"/>
<polygon points="616.2,2067.2 626.8,2048.5 605.6,2048.5" fill="#000" stroke="none"/>
<polygon points="688.6,2165.9 699.2,2147.2 678.0,2147.2" fill="#000" stroke="none"/>
<polygon points="761.0,2220.3 771.6,2201.6 750.4,2201.6" fill="#000" stroke="none"/>
<polygon points="833.4,2245.6 844.0,2226.9 822.8,2226.9" fill="#000" stroke="none"/>
<circle cx="326.6" cy="1823.0" r="8.6" fill="none" stroke-width="4.2"/>
<circle cx="399.0" cy="1823.9" r="8.6" fill="none" stroke-width="4.2"/>
<circle cx="471.4" cy="1849.5" r="8.6" fill="none" stroke-width="4.2"/>
<circle cx="543.8" cy="1902.7" r="8.6" fill="none" stroke-width="4.2"/>
<circle cx="616.2" cy="1997.6" r="8.6" fill="none" stroke-width="4.2"/>
<circle cx="688.6" cy="2096.3" r="8.6" fill="none" stroke-width="4.2"/>
<circle cx="761.0" cy="2175.4" r="8.6" fill="none" stroke-width="4.2"/>
<circle cx="833.4" cy="2218.4" r="8.6" fill="none" stroke-width="4.2"/>
<polygon points="326.6,1856.9 335.7,1866.0 326.6,1875.1 317.5,1866.0" fill="none" stroke-width="4.2"/>
<polygon points="399.0,1865.7 408.1,1874.9 399.0,1884.0 389.9,1874.9" fill="none" stroke-width="4.2"/>
<polygon points="471.4,1958.1 480.5,1967.2 471.4,1976.4 462.3,1967.2" fill="none" stroke-width="4.2"/>
<polygon points="543.8,2050.5 552.9,2059.6 543.8,2068.7 534.7,2059.6" fill="none" stroke-width="4.2"/>
<polygon points="616.2,2129.0 625.3,2138.1 616.2,2147.2 607.1,2138.1" fill="none" stroke-width="4.2"/>
<polygon points="688.6,2183.4 697.7,2192.5 688.6,2201.6 679.5,2192.5" fill="none" stroke-width="4.2"/>
<polygon points="761.0,2221.3 770.2,2230.5 761.0,2239.6 751.9,2230.5" fill="none" stroke-width="4.2"/>
<polygon points="833.4,2240.3 842.6,2249.4 833.4,2258.6 824.3,2249.4" fill="none" stroke-width="4.2"/>
<rect x="316.5" y="1824.3" width="20.2" height="20.2" fill="#000" stroke="none"/>
<rect x="388.9" y="1823.0" width="20.2" height="20.2" fill="#000" stroke="none"/>
<rect x="461.3" y="1840.7" width="20.2" height="20.2" fill="#000" stroke="none"/>
<rect x="533.7" y="1902.7" width="20.2" height="20.2" fill="#000" stroke="none"/>
<rect x="606.1" y="2005.2" width="20.2" height="20.2" fill="#000" stroke="none"/>
<rect x="678.5" y="2111.5" width="20.2" height="20.2" fill="#000" stroke="none"/>
<rect x="750.9" y="2183.7" width="20.2" height="20.2" fill="#000" stroke="none"/>
<rect x="823.3" y="2215.3" width="20.2" height="20.2" fill="#000" stroke="none"/>
<polygon points="326.6,1864.0 328.9,1870.5 335.7,1870.6 330.2,1874.8 332.2,1881.3 326.6,1877.4 321.0,1881.3 323.0,1874.8 317.5,1870.6 324.4,1870.5" fill="#000" stroke="none"/>
<polygon points="399.0,1874.2 401.3,1880.6 408.1,1880.8 402.7,1884.9 404.6,1891.4 399.0,1887.5 393.4,1891.4 395.4,1884.9 389.9,1880.8 396.8,1880.6" fill="#000" stroke="none"/>
<polygon points="471.4,1931.7 473.7,1938.2 480.5,1938.3 475.1,1942.5 477.0,1949.0 471.4,1945.1 465.8,1949.0 467.8,1942.5 462.3,1938.3 469.2,1938.2" fill="#000" stroke="none"/>
<polygon points="543.8,2010.2 546.1,2016.7 552.9,2016.8 547.5,2020.9 549.4,2027.5 543.8,2023.6 538.2,2027.5 540.2,2020.9 534.7,2016.8 541.6,2016.7" fill="#000" stroke="none"/>
<polygon points="616.2,2086.8 618.5,2093.2 625.3,2093.4 619.9,2097.5 621.8,2104.0 616.2,2100.1 610.6,2104.0 612.6,2097.5 607.1,2093.4 614.0,2093.2" fill="#000" stroke="none"/>
<polygon points="688.6,2143.7 690.9,2150.2 697.7,2150.3 692.3,2154.4 694.2,2161.0 688.6,2157.1 683.0,2161.0 685.0,2154.4 679.5,2150.3 686.4,2150.2" fill="#000" stroke="none"/>
<polygon points="761.0,2210.8 763.3,2217.2 770.1,2217.4 764.7,2221.5 766.6,2228.1 761.0,2224.2 755.4,2228.1 757.4,2221.5 751.9,2217.4 758.8,2217.2" fill="#000" stroke="none"/>
<polygon points="833.4,2233.6 835.7,2240.0 842.5,2240.2 837.1,2244.3 839.1,2250.8 833.4,2246.9 827.8,2250.8 829.8,2244.3 824.3,2240.2 831.2,2240.0" fill="#000" stroke="none"/>
<path d="M318.5,1851.6L334.7,1867.7M318.5,1867.7L334.7,1851.6" stroke-width="4.2"/>
<path d="M390.9,1897.2L407.1,1913.3M390.9,1913.3L407.1,1897.2" stroke-width="4.2"/>
<path d="M463.3,1955.4L479.5,1971.5M463.3,1971.5L479.5,1955.4" stroke-width="4.2"/>
<path d="M535.7,2047.7L551.9,2063.9M535.7,2063.9L551.9,2047.7" stroke-width="4.2"/>
<path d="M608.2,2112.9L624.3,2129.1M608.2,2129.1L624.3,2112.9" stroke-width="4.2"/>
<path d="M680.6,2168.0L696.7,2184.1M680.6,2184.1L696.7,2168.0" stroke-width="4.2"/>
<path d="M753.0,2217.3L769.1,2233.5M753.0,2233.5L769.1,2217.3" stroke-width="4.2"/>
<path d="M825.4,2238.8L841.5,2255.0M825.4,2255.0L841.5,2238.8" stroke-width="4.2"/>
<rect x="362.1" y="1857.1" width="20.4" height="20.4" fill="none" stroke-width="4.2"/><circle cx="372.3" cy="1867.3" r="4.1" fill="#000" stroke="none"/>
<rect x="434.5" y="1840.0" width="20.4" height="20.4" fill="none" stroke-width="4.2"/><circle cx="444.7" cy="1850.2" r="4.1" fill="#000" stroke="none"/>
<rect x="506.9" y="1839.3" width="20.4" height="20.4" fill="none" stroke-width="4.2"/><circle cx="517.1" cy="1849.5" r="4.1" fill="#000" stroke="none"/>
<rect x="579.3" y="1843.8" width="20.4" height="20.4" fill="none" stroke-width="4.2"/><circle cx="589.5" cy="1854.0" r="4.1" fill="#000" stroke="none"/>
<rect x="651.7" y="1853.9" width="20.4" height="20.4" fill="none" stroke-width="4.2"/><circle cx="661.9" cy="1864.1" r="4.1" fill="#000" stroke="none"/>
<rect x="724.1" y="1896.8" width="20.4" height="20.4" fill="none" stroke-width="4.2"/><circle cx="734.3" cy="1907.0" r="4.1" fill="#000" stroke="none"/>
<rect x="796.5" y="1970.4" width="20.4" height="20.4" fill="none" stroke-width="4.2"/><circle cx="806.7" cy="1980.6" r="4.1" fill="#000" stroke="none"/>
<rect x="868.9" y="2063.5" width="20.4" height="20.4" fill="none" stroke-width="4.2"/><circle cx="879.1" cy="2073.7" r="4.1" fill="#000" stroke="none"/>
<path d="M362.5,1842.0L382.1,1842.0M372.3,1832.2L372.3,1851.7" stroke-width="4.2"/>
<path d="M434.9,1839.7L454.5,1839.7M444.7,1829.9L444.7,1849.4" stroke-width="4.2"/>
<path d="M507.3,1835.4L526.9,1835.4M517.1,1825.6L517.1,1845.1" stroke-width="4.2"/>
<path d="M579.7,1828.3L599.3,1828.3M589.5,1818.5L589.5,1838.0" stroke-width="4.2"/>
<path d="M652.1,1835.2L671.7,1835.2M661.9,1825.5L661.9,1845.0" stroke-width="4.2"/>
<path d="M724.5,1840.6L744.1,1840.6M734.3,1830.8L734.3,1850.3" stroke-width="4.2"/>
<path d="M796.9,1876.0L816.5,1876.0M806.7,1866.2L806.7,1885.8" stroke-width="4.2"/>
<path d="M869.4,1955.8L888.9,1955.8M879.1,1946.1L879.1,1965.6" stroke-width="4.2"/>
<path d="M260.1,1749.9V2272.8" stroke-width="4.5"/>
<path d="M245.1,2258.3H1021.1" stroke-width="4.9"/>
<path d="M245.1,2131.8H260.1" stroke-width="4.7"/>
<path d="M245.1,2005.2H260.1" stroke-width="4.7"/>
<path d="M245.1,1878.7H260.1" stroke-width="4.7"/>
<path d="M245.1,1752.1H260.1" stroke-width="4.7"/>
<path d="M305.8,2258.3V2267.3" stroke-width="5.2"/>
<path d="M332.5,2258.3V2267.3" stroke-width="5.2"/>
<path d="M351.5,2258.3V2267.3" stroke-width="5.2"/>
<path d="M366.2,2258.3V2267.3" stroke-width="5.2"/>
<path d="M378.2,2258.3V2267.3" stroke-width="5.2"/>
<path d="M388.3,2258.3V2267.3" stroke-width="5.2"/>
<path d="M397.1,2258.3V2267.3" stroke-width="5.2"/>
<path d="M404.9,2258.3V2267.3" stroke-width="5.2"/>
<path d="M411.9,2258.3V2272.8" stroke-width="4.5"/>
<path d="M457.5,2258.3V2267.3" stroke-width="5.2"/>
<path d="M484.3,2258.3V2267.3" stroke-width="5.2"/>
<path d="M503.2,2258.3V2267.3" stroke-width="5.2"/>
<path d="M517.9,2258.3V2267.3" stroke-width="5.2"/>
<path d="M529.9,2258.3V2267.3" stroke-width="5.2"/>
<path d="M540.1,2258.3V2267.3" stroke-width="5.2"/>
<path d="M548.9,2258.3V2267.3" stroke-width="5.2"/>
<path d="M556.7,2258.3V2267.3" stroke-width="5.2"/>
<path d="M563.6,2258.3V2272.8" stroke-width="4.5"/>
<path d="M609.3,2258.3V2267.3" stroke-width="5.2"/>
<path d="M636.0,2258.3V2267.3" stroke-width="5.2"/>
<path d="M655.0,2258.3V2267.3" stroke-width="5.2"/>
<path d="M669.7,2258.3V2267.3" stroke-width="5.2"/>
<path d="M681.7,2258.3V2267.3" stroke-width="5.2"/>
<path d="M691.8,2258.3V2267.3" stroke-width="5.2"/>
<path d="M700.6,2258.3V2267.3" stroke-width="5.2"/>
<path d="M708.4,2258.3V2267.3" stroke-width="5.2"/>
<path d="M715.4,2258.3V2272.8" stroke-width="4.5"/>
<path d="M761.0,2258.3V2267.3" stroke-width="5.2"/>
<path d="M787.8,2258.3V2267.3" stroke-width="5.2"/>
<path d="M806.7,2258.3V2267.3" stroke-width="5.2"/>
<path d="M821.4,2258.3V2267.3" stroke-width="5.2"/>
<path d="M833.4,2258.3V2267.3" stroke-width="5.2"/>
<path d="M843.6,2258.3V2267.3" stroke-width="5.2"/>
<path d="M852.4,2258.3V2267.3" stroke-width="5.2"/>
<path d="M860.2,2258.3V2267.3" stroke-width="5.2"/>
<path d="M867.1,2258.3V2272.8" stroke-width="4.5"/>
<path d="M912.8,2258.3V2267.3" stroke-width="5.2"/>
<path d="M939.5,2258.3V2267.3" stroke-width="5.2"/>
<path d="M958.5,2258.3V2267.3" stroke-width="5.2"/>
<path d="M973.2,2258.3V2267.3" stroke-width="5.2"/>
<path d="M985.2,2258.3V2267.3" stroke-width="5.2"/>
<path d="M995.3,2258.3V2267.3" stroke-width="5.2"/>
<path d="M1004.1,2258.3V2267.3" stroke-width="5.2"/>
<path d="M1011.9,2258.3V2267.3" stroke-width="5.2"/>
<path d="M1018.9,2258.3V2272.8" stroke-width="4.5"/>
</g>
<g id="panel-c-text" fill="#000" font-family="Liberation Sans, Arial, Helvetica, sans-serif">
<text transform="matrix(0.9465 0 0 1 133.43 1766.20)" font-size="40.40" font-weight="bold" xml:space="preserve">40000</text>
<text transform="matrix(0.9500 0 0 1 133.04 1892.75)" font-size="40.40" font-weight="bold" xml:space="preserve">30000</text>
<text transform="matrix(0.9535 0 0 1 132.65 2019.30)" font-size="40.40" font-weight="bold" xml:space="preserve">20000</text>
<text transform="matrix(0.9624 0 0 1 131.67 2145.85)" font-size="40.40" font-weight="bold" xml:space="preserve">10000</text>
<text transform="matrix(0.9276 0 0 1 218.70 2272.20)" font-size="40.40" font-weight="bold" xml:space="preserve">0</text>
<text transform="matrix(0.9375 0 0 1 224.67 2315.40)" font-size="41.40" font-weight="bold" xml:space="preserve">10</text>
<text transform="matrix(1.0001 0 0 1 271.77 2304.30)" font-size="25.80" font-weight="bold" xml:space="preserve">-2</text>
<text transform="matrix(0.9399 0 0 1 376.87 2315.40)" font-size="41.40" font-weight="bold" xml:space="preserve">10</text>
<text transform="matrix(0.8410 0 0 1 423.93 2304.30)" font-size="25.80" font-weight="bold" xml:space="preserve">-1</text>
<text transform="matrix(0.9375 0 0 1 532.97 2315.40)" font-size="41.40" font-weight="bold" xml:space="preserve">10</text>
<text transform="matrix(1.0690 0 0 1 578.70 2304.30)" font-size="25.80" font-weight="bold" xml:space="preserve">0</text>
<text transform="matrix(0.9375 0 0 1 684.57 2315.40)" font-size="41.40" font-weight="bold" xml:space="preserve">10</text>
<text transform="matrix(0.6515 0 0 1 733.39 2304.30)" font-size="25.80" font-weight="bold" xml:space="preserve">1</text>
<text transform="matrix(0.9327 0 0 1 836.28 2315.40)" font-size="41.40" font-weight="bold" xml:space="preserve">10</text>
<text transform="matrix(1.0901 0 0 1 882.22 2304.30)" font-size="25.80" font-weight="bold" xml:space="preserve">2</text>
<text transform="matrix(0.9375 0 0 1 988.17 2315.40)" font-size="41.40" font-weight="bold" xml:space="preserve">10</text>
<text transform="matrix(1.0414 0 0 1 1034.33 2304.30)" font-size="25.80" font-weight="bold" xml:space="preserve">3</text>
<text transform="matrix(1.0079 0 0 1 463.20 2375.70)" font-size="42.00" xml:space="preserve">Anti-CD40 (ng/mL)</text>
<text transform="translate(105.80 2040.89) rotate(-90) scale(0.9641 1)" font-size="43.90">MFI</text>
<text transform="matrix(1.0570 0 0 1 1263.85 1716.20)" font-size="31.00" xml:space="preserve">Isotype control</text>
<text transform="matrix(0.9989 0 0 1 1266.65 1768.92)" font-size="31.00" xml:space="preserve">WT m1</text>
<text transform="matrix(1.0308 0 0 1 1264.24 1821.64)" font-size="31.00" xml:space="preserve">FW-32 m1</text>
<text transform="matrix(1.0297 0 0 1 1265.20 1874.36)" font-size="31.00" xml:space="preserve">CDR-Y96A m1</text>
<text transform="matrix(1.0308 0 0 1 1264.24 1927.08)" font-size="31.00" xml:space="preserve">FW-12 m1</text>
<text transform="matrix(1.0308 0 0 1 1264.24 1979.80)" font-size="31.00" xml:space="preserve">FW-17 m1</text>
<text transform="matrix(1.0308 0 0 1 1264.24 2032.52)" font-size="31.00" xml:space="preserve">FW-22 m1</text>
<text transform="matrix(1.0397 0 0 1 1264.22 2085.24)" font-size="31.00" xml:space="preserve">FW-9 m1</text>
<text transform="matrix(1.0343 0 0 1 1265.20 2137.96)" font-size="31.00" xml:space="preserve">CDR-Y102A/R104A m1</text>
<text transform="matrix(1.0387 0 0 1 1264.22 2190.68)" font-size="31.00" xml:space="preserve">FW-16 m1</text>
<text transform="matrix(1.0399 0 0 1 1265.19 2243.40)" font-size="31.00" xml:space="preserve">CDR-Y102A/Y32A m1</text>
<text transform="matrix(1.0399 0 0 1 1265.19 2296.12)" font-size="31.00" xml:space="preserve">CDR-Y102A/Y50A m1</text>
<text transform="matrix(1.0396 0 0 1 1265.19 2348.84)" font-size="31.00" xml:space="preserve">CDR-Y32A/Y96A m1</text>
<text transform="matrix(1.0429 0 0 1 1265.18 2401.56)" font-size="31.00" xml:space="preserve">CDR-Y102A/Y32A/Y96A m1</text>
<text transform="translate(1812.60 1918.19) rotate(90) scale(0.9962 1)" font-size="36.50">Binding affinity</text>
</g>
<g id="legend-marks" stroke="#000" fill="none">
<path d="M1201.2,1704.6H1242.9" stroke-width="3.1"/>
<polygon points="1227.2,1704.6 1224.6,1709.1 1219.4,1709.1 1216.8,1704.6 1219.4,1700.1 1224.6,1700.1" fill="none" stroke-width="3.0"/>
<path d="M1201.2,1757.3H1242.9" stroke-width="3.1"/>
<rect x="1214.7" y="1750.0" width="14.6" height="14.6" fill="none" stroke-width="3.0"/>
<path d="M1201.2,1810.0H1242.9" stroke-width="3.1"/>
<polygon points="1222.0,1801.9 1230.2,1810.0 1222.0,1818.2 1213.8,1810.0" fill="#000" stroke="none"/>
<path d="M1201.2,1862.8H1242.9" stroke-width="3.1"/>
<circle cx="1222.0" cy="1862.8" r="6.8" fill="none" stroke-width="3.0"/><path d="M1217.8,1858.5L1226.2,1867.0M1217.8,1867.0L1226.2,1858.5" stroke-width="2.25"/>
<path d="M1201.2,1915.5H1242.9" stroke-width="3.1"/>
<circle cx="1222.0" cy="1915.5" r="8.3" fill="#000" stroke="none"/>
<path d="M1201.2,1968.2H1242.9" stroke-width="3.1"/>
<polygon points="1222.0,1960.3 1230.3,1974.9 1213.7,1974.9" fill="#000" stroke="none"/>
<path d="M1201.2,2020.9H1242.9" stroke-width="3.1"/>
<polygon points="1222.0,2028.8 1230.3,2014.2 1213.7,2014.2" fill="#000" stroke="none"/>
<path d="M1201.2,2073.6H1242.9" stroke-width="3.1"/>
<circle cx="1222.0" cy="2073.6" r="6.4" fill="none" stroke-width="3.0"/>
<path d="M1201.2,2126.4H1242.9" stroke-width="3.1"/>
<polygon points="1222.0,2119.4 1229.0,2126.4 1222.0,2133.3 1215.0,2126.4" fill="none" stroke-width="3.0"/>
<path d="M1201.2,2179.1H1242.9" stroke-width="3.1"/>
<rect x="1213.7" y="2170.8" width="16.6" height="16.6" fill="#000" stroke="none"/>
<path d="M1201.2,2231.8H1242.9" stroke-width="3.1"/>
<polygon points="1222.0,2223.9 1223.9,2229.3 1229.5,2229.4 1225.0,2232.8 1226.6,2238.2 1222.0,2235.0 1217.4,2238.2 1219.0,2232.8 1214.5,2229.4 1220.1,2229.3" fill="#000" stroke="none"/>
<path d="M1201.2,2284.5H1242.9" stroke-width="3.1"/>
<path d="M1216.1,2278.6L1227.9,2290.4M1216.1,2290.4L1227.9,2278.6" stroke-width="3.0"/>
<path d="M1201.2,2337.2H1242.9" stroke-width="3.1"/>
<rect x="1214.7" y="2329.9" width="14.6" height="14.6" fill="none" stroke-width="3.0"/><circle cx="1222.0" cy="2337.2" r="2.9" fill="#000" stroke="none"/>
<path d="M1201.2,2390.0H1242.9" stroke-width="3.1"/>
<path d="M1215.2,2390.0L1228.8,2390.0M1222.0,2383.1L1222.0,2396.8" stroke-width="3.0"/>
<polygon points="1715.4,1766.3 1787.2,1766.3 1716.2,2383 1715.4,2383" fill="#000" stroke="none"/>
</g>
</svg>
</body></html>
